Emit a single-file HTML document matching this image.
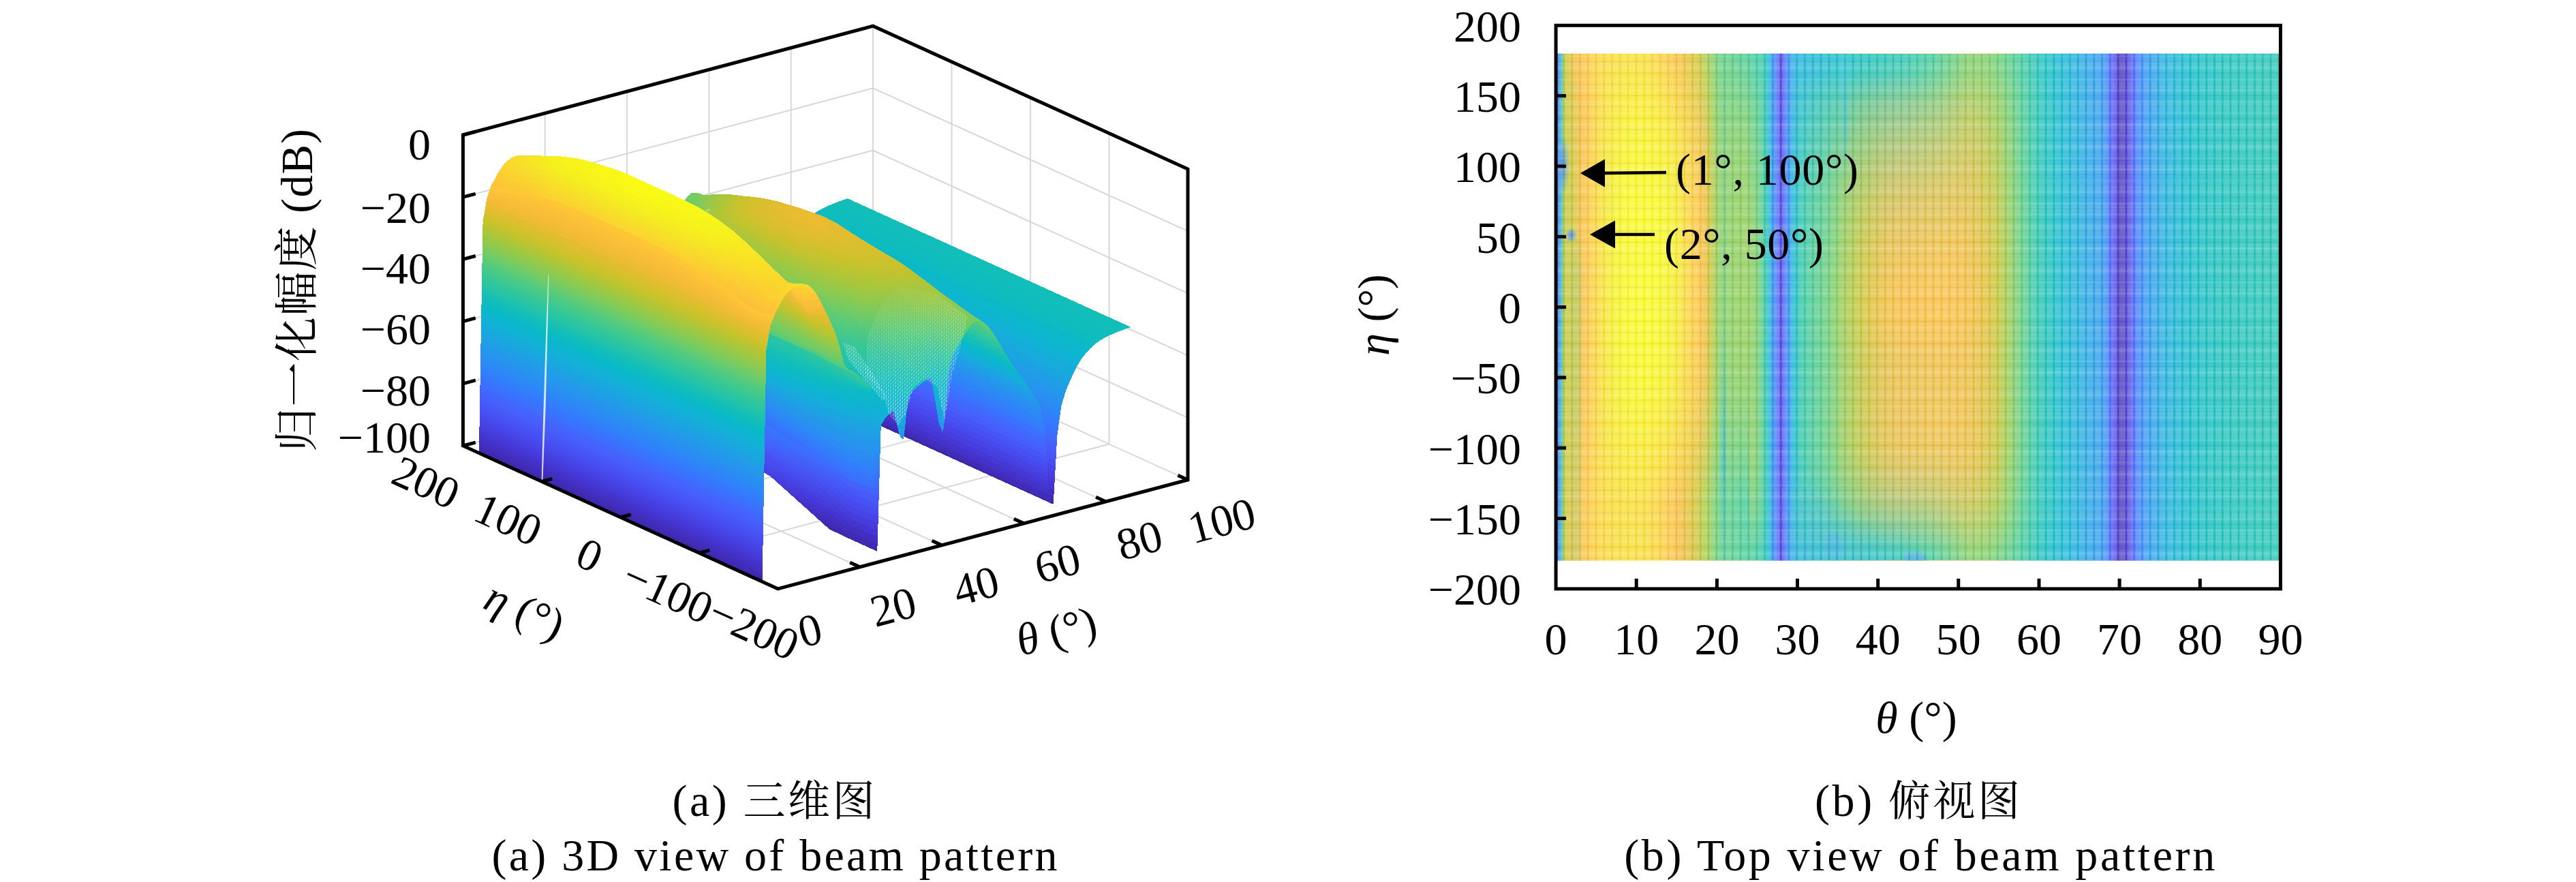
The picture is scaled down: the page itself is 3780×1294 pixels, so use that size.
<!DOCTYPE html>
<html lang="zh"><head><meta charset="utf-8"><title>Beam pattern</title>
<style>
html,body{margin:0;padding:0;background:#fff;}
body{width:3780px;height:1294px;overflow:hidden;}
svg{display:block;}
text{font-family:'Liberation Serif','Noto Serif CJK SC',serif;fill:#000;}
.it{font-style:italic;}
</style></head><body>
<svg width="3780" height="1294" viewBox="0 0 3780 1294">
<g id="grid3d"><path d="M1261.7,831.8 L799.7,622.0" stroke="#d6d6d6" stroke-width="1.9" fill="none"/><path d="M1382.0,799.9 L920.0,590.1" stroke="#d6d6d6" stroke-width="1.9" fill="none"/><path d="M1502.4,767.9 L1040.4,558.1" stroke="#d6d6d6" stroke-width="1.9" fill="none"/><path d="M1622.7,736.0 L1160.7,526.2" stroke="#d6d6d6" stroke-width="1.9" fill="none"/><path d="M1743.0,704.0 L1281.0,494.2" stroke="#d6d6d6" stroke-width="1.9" fill="none"/><path d="M1025.9,811.3 L1627.5,651.5" stroke="#d6d6d6" stroke-width="1.9" fill="none"/><path d="M910.4,758.9 L1512.0,599.1" stroke="#d6d6d6" stroke-width="1.9" fill="none"/><path d="M794.9,706.4 L1396.5,546.6" stroke="#d6d6d6" stroke-width="1.9" fill="none"/><path d="M679.4,654.0 L1281.0,494.2" stroke="#d6d6d6" stroke-width="1.9" fill="none"/><path d="M799.7,622.0 L799.7,166.0" stroke="#d6d6d6" stroke-width="1.9" fill="none"/><path d="M920.0,590.1 L920.0,134.1" stroke="#d6d6d6" stroke-width="1.9" fill="none"/><path d="M1040.4,558.1 L1040.4,102.1" stroke="#d6d6d6" stroke-width="1.9" fill="none"/><path d="M1160.7,526.2 L1160.7,70.2" stroke="#d6d6d6" stroke-width="1.9" fill="none"/><path d="M1281.0,494.2 L1281.0,38.2" stroke="#d6d6d6" stroke-width="1.9" fill="none"/><path d="M679.4,562.8 L1281.0,403.0" stroke="#d6d6d6" stroke-width="1.9" fill="none"/><path d="M679.4,471.6 L1281.0,311.8" stroke="#d6d6d6" stroke-width="1.9" fill="none"/><path d="M679.4,380.4 L1281.0,220.6" stroke="#d6d6d6" stroke-width="1.9" fill="none"/><path d="M679.4,289.2 L1281.0,129.4" stroke="#d6d6d6" stroke-width="1.9" fill="none"/><path d="M1627.5,651.5 L1627.5,195.6" stroke="#d6d6d6" stroke-width="1.9" fill="none"/><path d="M1512.0,599.1 L1512.0,143.1" stroke="#d6d6d6" stroke-width="1.9" fill="none"/><path d="M1396.5,546.6 L1396.5,90.7" stroke="#d6d6d6" stroke-width="1.9" fill="none"/><path d="M1743.0,612.8 L1281.0,403.0" stroke="#d6d6d6" stroke-width="1.9" fill="none"/><path d="M1743.0,521.6 L1281.0,311.8" stroke="#d6d6d6" stroke-width="1.9" fill="none"/><path d="M1743.0,430.4 L1281.0,220.6" stroke="#d6d6d6" stroke-width="1.9" fill="none"/><path d="M1743.0,339.2 L1281.0,129.4" stroke="#d6d6d6" stroke-width="1.9" fill="none"/></g>
<defs><g id="gd" gradientUnits="userSpaceOnUse"></g><linearGradient gradientUnits="userSpaceOnUse" id="g286" x1="1434" y1="471" x2="1018" y2="283"><stop offset="0" stop-color="#78cb60"/><stop offset="0.232" stop-color="#aac73a"/><stop offset="0.535" stop-color="#bfc430"/><stop offset="0.776" stop-color="#aec638"/><stop offset="0.891" stop-color="#9ac946"/><stop offset="1" stop-color="#78cb60"/></linearGradient><linearGradient gradientUnits="userSpaceOnUse" id="g285" x1="1428" y1="474" x2="1012" y2="285"><stop offset="0" stop-color="#77cb61"/><stop offset="0.13" stop-color="#9ec843"/><stop offset="0.24" stop-color="#b7c533"/><stop offset="0.546" stop-color="#d2c12b"/><stop offset="0.667" stop-color="#cdc22a"/><stop offset="0.785" stop-color="#bdc431"/><stop offset="0.896" stop-color="#a2c840"/><stop offset="0.974" stop-color="#7bcb5e"/><stop offset="1" stop-color="#77cb61"/></linearGradient><linearGradient gradientUnits="userSpaceOnUse" id="g284" x1="1424" y1="478" x2="1008" y2="289"><stop offset="0" stop-color="#71cb66"/><stop offset="0.134" stop-color="#a0c841"/><stop offset="0.246" stop-color="#bec430"/><stop offset="0.336" stop-color="#ccc22a"/><stop offset="0.554" stop-color="#dbbf2d"/><stop offset="0.791" stop-color="#c5c32d"/><stop offset="0.9" stop-color="#a5c73e"/><stop offset="0.975" stop-color="#76cb62"/><stop offset="1" stop-color="#71cb66"/></linearGradient><linearGradient gradientUnits="userSpaceOnUse" id="g283" x1="1421" y1="482" x2="1005" y2="293"><stop offset="0" stop-color="#6acc6b"/><stop offset="0.137" stop-color="#9fc842"/><stop offset="0.25" stop-color="#c1c42f"/><stop offset="0.561" stop-color="#e1be2e"/><stop offset="0.796" stop-color="#c9c22c"/><stop offset="0.903" stop-color="#a4c83e"/><stop offset="0.936" stop-color="#92ca4c"/><stop offset="0.975" stop-color="#70cb67"/><stop offset="1" stop-color="#6acc6b"/></linearGradient><linearGradient gradientUnits="userSpaceOnUse" id="g282" x1="1418" y1="487" x2="1002" y2="298"><stop offset="0" stop-color="#63cc71"/><stop offset="0.139" stop-color="#9ec843"/><stop offset="0.255" stop-color="#c2c32e"/><stop offset="0.567" stop-color="#e5bd2f"/><stop offset="0.687" stop-color="#ddbe2e"/><stop offset="0.801" stop-color="#cbc22a"/><stop offset="0.906" stop-color="#a3c83f"/><stop offset="0.938" stop-color="#8fca4e"/><stop offset="0.975" stop-color="#69cc6c"/><stop offset="1" stop-color="#63cc71"/></linearGradient><linearGradient gradientUnits="userSpaceOnUse" id="g281" x1="1415" y1="492" x2="999" y2="303"><stop offset="0" stop-color="#5ccc77"/><stop offset="0.142" stop-color="#9bc845"/><stop offset="0.259" stop-color="#c3c32e"/><stop offset="0.351" stop-color="#d3c02c"/><stop offset="0.572" stop-color="#e8bc30"/><stop offset="0.692" stop-color="#dfbe2e"/><stop offset="0.805" stop-color="#ccc22a"/><stop offset="0.908" stop-color="#a1c841"/><stop offset="0.939" stop-color="#8bca51"/><stop offset="0.956" stop-color="#73cb64"/><stop offset="0.975" stop-color="#62cc72"/><stop offset="1" stop-color="#5ccc77"/></linearGradient><linearGradient gradientUnits="userSpaceOnUse" id="g280" x1="1412" y1="496" x2="996" y2="308"><stop offset="0" stop-color="#55cb7d"/><stop offset="0.144" stop-color="#98c947"/><stop offset="0.262" stop-color="#c3c32e"/><stop offset="0.355" stop-color="#d4c02c"/><stop offset="0.578" stop-color="#ebbb30"/><stop offset="0.697" stop-color="#e1bd2f"/><stop offset="0.809" stop-color="#cdc22a"/><stop offset="0.911" stop-color="#9fc842"/><stop offset="0.941" stop-color="#87cb54"/><stop offset="0.957" stop-color="#6dcc69"/><stop offset="0.976" stop-color="#5bcb77"/><stop offset="1" stop-color="#55cb7d"/></linearGradient><linearGradient gradientUnits="userSpaceOnUse" id="g279" x1="1409" y1="501" x2="993" y2="313"><stop offset="0" stop-color="#4eca83"/><stop offset="0.146" stop-color="#95c94a"/><stop offset="0.266" stop-color="#c2c32f"/><stop offset="0.359" stop-color="#d4c02c"/><stop offset="0.583" stop-color="#ecbb31"/><stop offset="0.701" stop-color="#e2bd2f"/><stop offset="0.813" stop-color="#cdc22a"/><stop offset="0.913" stop-color="#9bc845"/><stop offset="0.942" stop-color="#82cb58"/><stop offset="0.957" stop-color="#67cc6e"/><stop offset="0.976" stop-color="#55cb7d"/><stop offset="1" stop-color="#4eca83"/></linearGradient><linearGradient gradientUnits="userSpaceOnUse" id="g278" x1="1406" y1="507" x2="990" y2="318"><stop offset="0" stop-color="#47ca89"/><stop offset="0.148" stop-color="#91ca4d"/><stop offset="0.269" stop-color="#c0c42f"/><stop offset="0.363" stop-color="#d4c02c"/><stop offset="0.588" stop-color="#edbb32"/><stop offset="0.706" stop-color="#e3bd2f"/><stop offset="0.816" stop-color="#ccc22a"/><stop offset="0.884" stop-color="#acc739"/><stop offset="0.915" stop-color="#98c948"/><stop offset="0.944" stop-color="#7dcb5c"/><stop offset="0.958" stop-color="#60cc74"/><stop offset="0.976" stop-color="#4eca83"/><stop offset="1" stop-color="#47ca89"/></linearGradient><linearGradient gradientUnits="userSpaceOnUse" id="g277" x1="1403" y1="512" x2="987" y2="324"><stop offset="0" stop-color="#3fc990"/><stop offset="0.15" stop-color="#8cca50"/><stop offset="0.272" stop-color="#bec430"/><stop offset="0.321" stop-color="#ccc22a"/><stop offset="0.549" stop-color="#ebbb31"/><stop offset="0.672" stop-color="#e8bc30"/><stop offset="0.785" stop-color="#d5c02c"/><stop offset="0.82" stop-color="#cac22b"/><stop offset="0.887" stop-color="#a9c73b"/><stop offset="0.918" stop-color="#94c94b"/><stop offset="0.946" stop-color="#77cb61"/></linearGradient><linearGradient gradientUnits="userSpaceOnUse" id="g276" x1="1400" y1="517" x2="984" y2="328"><stop offset="0" stop-color="#38c896"/><stop offset="0.152" stop-color="#89cb53"/><stop offset="0.275" stop-color="#bcc431"/><stop offset="0.324" stop-color="#cbc22b"/><stop offset="0.553" stop-color="#ebbb31"/><stop offset="0.675" stop-color="#e8bc30"/><stop offset="0.788" stop-color="#d5c02c"/><stop offset="0.823" stop-color="#c9c22b"/><stop offset="0.889" stop-color="#a6c73d"/><stop offset="0.92" stop-color="#90ca4d"/><stop offset="0.947" stop-color="#72cb65"/></linearGradient><linearGradient gradientUnits="userSpaceOnUse" id="g275" x1="1398" y1="522" x2="982" y2="333"><stop offset="0" stop-color="#33c79b"/><stop offset="0.155" stop-color="#86cb55"/><stop offset="0.278" stop-color="#bbc432"/><stop offset="0.327" stop-color="#cac22b"/><stop offset="0.557" stop-color="#ebbb31"/><stop offset="0.679" stop-color="#e8bc30"/><stop offset="0.792" stop-color="#d4c02c"/><stop offset="0.826" stop-color="#c8c22c"/><stop offset="0.892" stop-color="#a4c83e"/><stop offset="0.922" stop-color="#8eca4f"/><stop offset="0.949" stop-color="#6ecc68"/></linearGradient><linearGradient gradientUnits="userSpaceOnUse" id="g274" x1="1396" y1="529" x2="980" y2="340"><stop offset="0" stop-color="#2bc5a2"/><stop offset="0.0387" stop-color="#3bc894"/><stop offset="0.159" stop-color="#83cb58"/><stop offset="0.283" stop-color="#bac532"/><stop offset="0.379" stop-color="#d1c12b"/><stop offset="0.562" stop-color="#ebbb31"/><stop offset="0.685" stop-color="#e8bc30"/><stop offset="0.797" stop-color="#d3c02c"/><stop offset="0.832" stop-color="#c7c32c"/><stop offset="0.897" stop-color="#a2c840"/><stop offset="0.927" stop-color="#8bca51"/><stop offset="0.953" stop-color="#6bcc6b"/></linearGradient><linearGradient gradientUnits="userSpaceOnUse" id="g273" x1="1395" y1="535" x2="979" y2="346"><stop offset="0" stop-color="#25c3a8"/><stop offset="0.0408" stop-color="#36c898"/><stop offset="0.163" stop-color="#81cb59"/><stop offset="0.288" stop-color="#b9c533"/><stop offset="0.384" stop-color="#d1c12b"/><stop offset="0.567" stop-color="#ebbb31"/><stop offset="0.69" stop-color="#e7bc30"/><stop offset="0.802" stop-color="#d3c02c"/><stop offset="0.836" stop-color="#c6c32d"/><stop offset="0.901" stop-color="#a1c841"/><stop offset="0.931" stop-color="#8aca52"/><stop offset="0.957" stop-color="#69cc6c"/></linearGradient><linearGradient gradientUnits="userSpaceOnUse" id="g272" x1="1394" y1="541" x2="978" y2="352"><stop offset="0" stop-color="#1ec1ae"/><stop offset="0.168" stop-color="#80cb5a"/><stop offset="0.293" stop-color="#b8c533"/><stop offset="0.389" stop-color="#d0c12b"/><stop offset="0.573" stop-color="#ebbb31"/><stop offset="0.695" stop-color="#e7bc30"/><stop offset="0.807" stop-color="#d3c02b"/><stop offset="0.841" stop-color="#c6c32d"/><stop offset="0.906" stop-color="#a0c841"/><stop offset="0.936" stop-color="#89cb53"/><stop offset="0.962" stop-color="#67cc6e"/></linearGradient><linearGradient gradientUnits="userSpaceOnUse" id="g271" x1="1392" y1="549" x2="977" y2="360"><stop offset="0" stop-color="#15bfb6"/><stop offset="0.174" stop-color="#7fcb5b"/><stop offset="0.299" stop-color="#b7c533"/><stop offset="0.395" stop-color="#d0c12b"/><stop offset="0.579" stop-color="#ebbb31"/><stop offset="0.701" stop-color="#e7bc30"/><stop offset="0.813" stop-color="#d2c02b"/><stop offset="0.848" stop-color="#c5c32d"/><stop offset="0.912" stop-color="#9fc842"/><stop offset="0.942" stop-color="#88cb54"/><stop offset="0.968" stop-color="#66cc6f"/></linearGradient><linearGradient gradientUnits="userSpaceOnUse" id="g270" x1="1392" y1="556" x2="976" y2="367"><stop offset="0" stop-color="#10bdbe"/><stop offset="0.0272" stop-color="#1ac0b2"/><stop offset="0.143" stop-color="#69cc6d"/><stop offset="0.306" stop-color="#b7c534"/><stop offset="0.402" stop-color="#d0c12b"/><stop offset="0.586" stop-color="#ebbb31"/><stop offset="0.708" stop-color="#e7bc30"/><stop offset="0.82" stop-color="#d2c12b"/><stop offset="0.854" stop-color="#c5c32d"/><stop offset="0.918" stop-color="#9ec843"/><stop offset="0.948" stop-color="#87cb55"/><stop offset="0.974" stop-color="#65cc70"/></linearGradient><linearGradient gradientUnits="userSpaceOnUse" id="g269" x1="1391" y1="564" x2="975" y2="375"><stop offset="0" stop-color="#0cbac5"/><stop offset="0.0287" stop-color="#14bfb8"/><stop offset="0.149" stop-color="#68cc6d"/><stop offset="0.312" stop-color="#b6c534"/><stop offset="0.408" stop-color="#cfc12b"/><stop offset="0.592" stop-color="#ebbb31"/><stop offset="0.676" stop-color="#ebbb31"/><stop offset="0.826" stop-color="#d2c12b"/><stop offset="0.86" stop-color="#c4c32e"/><stop offset="0.925" stop-color="#9ec843"/><stop offset="0.954" stop-color="#86cb55"/><stop offset="0.98" stop-color="#64cc70"/></linearGradient><linearGradient gradientUnits="userSpaceOnUse" id="g268" x1="1390" y1="572" x2="974" y2="383"><stop offset="0" stop-color="#0cb7cc"/><stop offset="0.0302" stop-color="#10bdbe"/><stop offset="0.114" stop-color="#4eca83"/><stop offset="0.155" stop-color="#67cc6e"/><stop offset="0.319" stop-color="#b6c534"/><stop offset="0.415" stop-color="#cfc12b"/><stop offset="0.599" stop-color="#ebbb31"/><stop offset="0.682" stop-color="#ebbb31"/><stop offset="0.833" stop-color="#d2c12b"/><stop offset="0.867" stop-color="#c4c32e"/><stop offset="0.931" stop-color="#9dc843"/><stop offset="0.961" stop-color="#85cb56"/><stop offset="0.987" stop-color="#63cc71"/></linearGradient><linearGradient gradientUnits="userSpaceOnUse" id="g267" x1="1389" y1="579" x2="974" y2="391"><stop offset="0" stop-color="#0fb4d1"/><stop offset="0.0318" stop-color="#0cbac4"/><stop offset="0.121" stop-color="#4dca84"/><stop offset="0.162" stop-color="#66cc6f"/><stop offset="0.325" stop-color="#b5c534"/><stop offset="0.422" stop-color="#cfc12b"/><stop offset="0.606" stop-color="#ebbb31"/><stop offset="0.689" stop-color="#ebbb31"/><stop offset="0.804" stop-color="#dabf2d"/><stop offset="0.874" stop-color="#c3c32e"/><stop offset="0.938" stop-color="#9dc844"/></linearGradient><linearGradient gradientUnits="userSpaceOnUse" id="g266" x1="1389" y1="586" x2="973" y2="397"><stop offset="0" stop-color="#12b1d6"/><stop offset="0.0331" stop-color="#0ab9c9"/><stop offset="0.0627" stop-color="#18c0b3"/><stop offset="0.126" stop-color="#4cca85"/><stop offset="0.167" stop-color="#65cc6f"/><stop offset="0.331" stop-color="#b5c534"/><stop offset="0.427" stop-color="#cfc12b"/><stop offset="0.611" stop-color="#ebbb30"/><stop offset="0.695" stop-color="#ebbb30"/><stop offset="0.845" stop-color="#d1c12b"/><stop offset="0.912" stop-color="#b1c636"/><stop offset="0.943" stop-color="#9cc844"/><stop offset="0.973" stop-color="#84cb57"/><stop offset="0.998" stop-color="#61cc72"/></linearGradient><linearGradient gradientUnits="userSpaceOnUse" id="g265" x1="1388" y1="592" x2="972" y2="403"><stop offset="0" stop-color="#14add9"/><stop offset="0.0344" stop-color="#0cb7cc"/><stop offset="0.0656" stop-color="#15bfb7"/><stop offset="0.131" stop-color="#4bca86"/><stop offset="0.172" stop-color="#64cc70"/><stop offset="0.336" stop-color="#b5c535"/><stop offset="0.432" stop-color="#cec12b"/><stop offset="0.617" stop-color="#eabb30"/><stop offset="0.7" stop-color="#eabb30"/><stop offset="0.815" stop-color="#dabf2d"/><stop offset="0.885" stop-color="#c3c32e"/><stop offset="0.949" stop-color="#9cc845"/></linearGradient><linearGradient gradientUnits="userSpaceOnUse" id="g264" x1="1388" y1="600" x2="972" y2="411"><stop offset="0" stop-color="#18a9dd"/><stop offset="0.036" stop-color="#0fb4d0"/><stop offset="0.0691" stop-color="#11beba"/><stop offset="0.137" stop-color="#4aca87"/><stop offset="0.179" stop-color="#64cc71"/><stop offset="0.343" stop-color="#b4c535"/><stop offset="0.439" stop-color="#cec12b"/><stop offset="0.624" stop-color="#eabc30"/><stop offset="0.707" stop-color="#eabc30"/><stop offset="0.857" stop-color="#d0c12b"/><stop offset="0.924" stop-color="#b0c637"/><stop offset="0.955" stop-color="#9bc945"/><stop offset="0.985" stop-color="#82cb58"/><stop offset="1" stop-color="#60cc74"/></linearGradient><linearGradient gradientUnits="userSpaceOnUse" id="g263" x1="1387" y1="608" x2="971" y2="419"><stop offset="0" stop-color="#1ca4e1"/><stop offset="0.0375" stop-color="#11b2d5"/><stop offset="0.0725" stop-color="#0fbcbe"/><stop offset="0.143" stop-color="#48ca88"/><stop offset="0.185" stop-color="#63cc71"/><stop offset="0.349" stop-color="#b4c535"/><stop offset="0.446" stop-color="#cec12a"/><stop offset="0.63" stop-color="#eabc30"/><stop offset="0.714" stop-color="#eabc30"/><stop offset="0.864" stop-color="#d0c12b"/><stop offset="0.93" stop-color="#afc637"/><stop offset="0.962" stop-color="#9bc945"/><stop offset="0.991" stop-color="#82cb59"/><stop offset="1" stop-color="#5fcc74"/></linearGradient><linearGradient gradientUnits="userSpaceOnUse" id="g262" x1="1386" y1="615" x2="970" y2="426"><stop offset="0" stop-color="#1f9fe5"/><stop offset="0.0391" stop-color="#13afd8"/><stop offset="0.076" stop-color="#0dbbc2"/><stop offset="0.149" stop-color="#47ca89"/><stop offset="0.192" stop-color="#62cc72"/><stop offset="0.356" stop-color="#b3c635"/><stop offset="0.452" stop-color="#cdc22a"/><stop offset="0.637" stop-color="#eabc30"/><stop offset="0.72" stop-color="#eabc30"/><stop offset="0.871" stop-color="#d0c12b"/><stop offset="0.937" stop-color="#afc637"/><stop offset="0.968" stop-color="#9ac946"/><stop offset="0.998" stop-color="#81cb59"/><stop offset="1" stop-color="#5ecc75"/></linearGradient><linearGradient gradientUnits="userSpaceOnUse" id="g261" x1="1385" y1="623" x2="969" y2="434"><stop offset="0" stop-color="#229be8"/><stop offset="0.0793" stop-color="#0bbac6"/><stop offset="0.155" stop-color="#46c98a"/><stop offset="0.198" stop-color="#61cc73"/><stop offset="0.362" stop-color="#b2c636"/><stop offset="0.459" stop-color="#cdc22a"/><stop offset="0.643" stop-color="#e9bc30"/><stop offset="0.727" stop-color="#e9bc30"/><stop offset="0.841" stop-color="#d8bf2d"/><stop offset="0.911" stop-color="#c1c42f"/><stop offset="0.975" stop-color="#99c947"/></linearGradient><linearGradient gradientUnits="userSpaceOnUse" id="g260" x1="1384" y1="630" x2="968" y2="441"><stop offset="0" stop-color="#2596ec"/><stop offset="0.0822" stop-color="#0bb8c9"/><stop offset="0.16" stop-color="#44c98c"/><stop offset="0.203" stop-color="#5fcc74"/><stop offset="0.368" stop-color="#b1c636"/><stop offset="0.465" stop-color="#ccc22a"/><stop offset="0.693" stop-color="#ebbb31"/><stop offset="0.81" stop-color="#dfbe2e"/><stop offset="0.883" stop-color="#cfc12b"/><stop offset="0.949" stop-color="#adc738"/><stop offset="0.98" stop-color="#98c947"/><stop offset="1" stop-color="#7ecb5b"/><stop offset="1" stop-color="#5ccc77"/></linearGradient><linearGradient gradientUnits="userSpaceOnUse" id="g259" x1="1382" y1="631" x2="966" y2="443"><stop offset="0" stop-color="#2696ec"/><stop offset="0.0819" stop-color="#0bb8ca"/><stop offset="0.16" stop-color="#42c98e"/><stop offset="0.203" stop-color="#5ecc76"/><stop offset="0.368" stop-color="#b0c637"/><stop offset="0.465" stop-color="#cbc22b"/><stop offset="0.693" stop-color="#ebbb31"/><stop offset="0.81" stop-color="#debe2e"/><stop offset="0.883" stop-color="#cec12a"/><stop offset="0.949" stop-color="#abc739"/><stop offset="0.98" stop-color="#96c949"/></linearGradient><linearGradient gradientUnits="userSpaceOnUse" id="g258" x1="1380" y1="625" x2="965" y2="436"><stop offset="0" stop-color="#239ae9"/><stop offset="0.078" stop-color="#0ab9c8"/><stop offset="0.153" stop-color="#41c98f"/><stop offset="0.196" stop-color="#5ccc77"/><stop offset="0.361" stop-color="#aec637"/><stop offset="0.458" stop-color="#cac22b"/><stop offset="0.643" stop-color="#e7bc30"/><stop offset="0.726" stop-color="#e7bc30"/><stop offset="0.84" stop-color="#d6c02c"/><stop offset="0.91" stop-color="#bdc431"/><stop offset="0.973" stop-color="#95c94a"/></linearGradient><linearGradient gradientUnits="userSpaceOnUse" id="g257" x1="1379" y1="616" x2="963" y2="428"><stop offset="0" stop-color="#1fa0e4"/><stop offset="0.0733" stop-color="#0cbac5"/><stop offset="0.145" stop-color="#40c98f"/><stop offset="0.187" stop-color="#5bcb78"/><stop offset="0.352" stop-color="#adc638"/><stop offset="0.449" stop-color="#c9c22b"/><stop offset="0.634" stop-color="#e7bc30"/><stop offset="0.718" stop-color="#e7bc30"/><stop offset="0.832" stop-color="#d5c02c"/><stop offset="0.901" stop-color="#bcc431"/><stop offset="0.965" stop-color="#94c94b"/></linearGradient><linearGradient gradientUnits="userSpaceOnUse" id="g256" x1="1378" y1="608" x2="962" y2="419"><stop offset="0" stop-color="#1ba5e0"/><stop offset="0.0687" stop-color="#0ebbc1"/><stop offset="0.179" stop-color="#5acb79"/><stop offset="0.344" stop-color="#adc738"/><stop offset="0.441" stop-color="#c8c22c"/><stop offset="0.626" stop-color="#e6bc30"/><stop offset="0.71" stop-color="#e6bc30"/><stop offset="0.824" stop-color="#d5c02c"/><stop offset="0.893" stop-color="#bbc432"/><stop offset="0.956" stop-color="#93c94b"/></linearGradient><linearGradient gradientUnits="userSpaceOnUse" id="g255" x1="1377" y1="600" x2="962" y2="411"><stop offset="0" stop-color="#17abdc"/><stop offset="0.0642" stop-color="#10bdbd"/><stop offset="0.171" stop-color="#59cb79"/><stop offset="0.336" stop-color="#acc739"/><stop offset="0.433" stop-color="#c8c22c"/><stop offset="0.618" stop-color="#e6bc2f"/><stop offset="0.701" stop-color="#e6bc2f"/><stop offset="0.815" stop-color="#d4c02c"/><stop offset="0.885" stop-color="#bbc432"/><stop offset="0.948" stop-color="#92c94c"/></linearGradient><linearGradient gradientUnits="userSpaceOnUse" id="g254" x1="1377" y1="593" x2="961" y2="404"><stop offset="0" stop-color="#13afd8"/><stop offset="0.0322" stop-color="#0cb7cc"/><stop offset="0.0608" stop-color="#11beba"/><stop offset="0.164" stop-color="#59cb7a"/><stop offset="0.33" stop-color="#abc739"/><stop offset="0.472" stop-color="#cfc12b"/><stop offset="0.612" stop-color="#e5bd2f"/><stop offset="0.695" stop-color="#e5bd2f"/><stop offset="0.809" stop-color="#d4c02c"/><stop offset="0.879" stop-color="#bac532"/><stop offset="0.942" stop-color="#92ca4c"/></linearGradient><linearGradient gradientUnits="userSpaceOnUse" id="g253" x1="1376" y1="587" x2="960" y2="398"><stop offset="0" stop-color="#11b2d4"/><stop offset="0.0307" stop-color="#0ab9c9"/><stop offset="0.0573" stop-color="#14bfb7"/><stop offset="0.158" stop-color="#58cb7a"/><stop offset="0.323" stop-color="#abc739"/><stop offset="0.466" stop-color="#cec12a"/><stop offset="0.606" stop-color="#e5bd2f"/><stop offset="0.689" stop-color="#e5bd2f"/><stop offset="0.803" stop-color="#d3c02c"/><stop offset="0.872" stop-color="#b9c532"/><stop offset="0.935" stop-color="#91ca4d"/></linearGradient><linearGradient gradientUnits="userSpaceOnUse" id="g252" x1="1375" y1="579" x2="959" y2="390"><stop offset="0" stop-color="#0db6ce"/><stop offset="0.0287" stop-color="#0dbbc2"/><stop offset="0.0529" stop-color="#18c0b3"/><stop offset="0.15" stop-color="#57cb7b"/><stop offset="0.315" stop-color="#aac73a"/><stop offset="0.458" stop-color="#cdc22a"/><stop offset="0.597" stop-color="#e4bd2f"/><stop offset="0.681" stop-color="#e4bd2f"/><stop offset="0.795" stop-color="#d3c02b"/><stop offset="0.864" stop-color="#b8c533"/><stop offset="0.927" stop-color="#90ca4e"/></linearGradient><linearGradient gradientUnits="userSpaceOnUse" id="g251" x1="1374" y1="570" x2="958" y2="381"><stop offset="0" stop-color="#0bb9c7"/><stop offset="0.0266" stop-color="#10bdbc"/><stop offset="0.141" stop-color="#56cb7c"/><stop offset="0.307" stop-color="#a8c73b"/><stop offset="0.45" stop-color="#ccc22a"/><stop offset="0.589" stop-color="#e3bd2f"/><stop offset="0.672" stop-color="#e3bd2f"/><stop offset="0.786" stop-color="#d2c12b"/><stop offset="0.856" stop-color="#b7c533"/><stop offset="0.919" stop-color="#8fca4e"/></linearGradient><linearGradient gradientUnits="userSpaceOnUse" id="g250" x1="1372" y1="562" x2="956" y2="373"><stop offset="0" stop-color="#0fbcbe"/><stop offset="0.0243" stop-color="#16bfb5"/><stop offset="0.132" stop-color="#54cb7e"/><stop offset="0.298" stop-color="#a7c73c"/><stop offset="0.44" stop-color="#cac22b"/><stop offset="0.58" stop-color="#e2bd2f"/><stop offset="0.663" stop-color="#e2bd2f"/><stop offset="0.777" stop-color="#d0c12b"/><stop offset="0.847" stop-color="#b5c534"/><stop offset="0.91" stop-color="#8dca50"/></linearGradient><linearGradient gradientUnits="userSpaceOnUse" id="g249" x1="1370" y1="556" x2="955" y2="367"><stop offset="0" stop-color="#14bfb8"/><stop offset="0.164" stop-color="#66cc6f"/><stop offset="0.291" stop-color="#a5c73e"/><stop offset="0.434" stop-color="#c9c22c"/><stop offset="0.574" stop-color="#e0be2e"/><stop offset="0.657" stop-color="#e0be2e"/><stop offset="0.771" stop-color="#cfc12b"/><stop offset="0.84" stop-color="#b3c635"/><stop offset="0.903" stop-color="#8bca51"/></linearGradient><linearGradient gradientUnits="userSpaceOnUse" id="g248" x1="1367" y1="555" x2="952" y2="366"><stop offset="0" stop-color="#16bfb5"/><stop offset="0.16" stop-color="#62cc72"/><stop offset="0.287" stop-color="#a1c841"/><stop offset="0.337" stop-color="#b1c636"/><stop offset="0.475" stop-color="#ccc22a"/><stop offset="0.569" stop-color="#ddbe2e"/><stop offset="0.653" stop-color="#ddbe2e"/><stop offset="0.766" stop-color="#cbc22b"/><stop offset="0.836" stop-color="#afc637"/><stop offset="0.899" stop-color="#87cb54"/></linearGradient><linearGradient gradientUnits="userSpaceOnUse" id="g247" x1="1364" y1="555" x2="948" y2="366"><stop offset="0" stop-color="#17c0b4"/><stop offset="0.0366" stop-color="#23c3aa"/><stop offset="0.157" stop-color="#5ecc75"/><stop offset="0.284" stop-color="#9cc844"/><stop offset="0.334" stop-color="#acc738"/><stop offset="0.566" stop-color="#d8bf2d"/><stop offset="0.649" stop-color="#d8bf2d"/><stop offset="0.763" stop-color="#c6c32d"/><stop offset="0.833" stop-color="#aac73a"/><stop offset="0.896" stop-color="#82cb58"/></linearGradient><linearGradient gradientUnits="userSpaceOnUse" id="g246" x1="1361" y1="557" x2="945" y2="368"><stop offset="0" stop-color="#16bfb6"/><stop offset="0.157" stop-color="#5bcb78"/><stop offset="0.283" stop-color="#97c948"/><stop offset="0.333" stop-color="#a8c73c"/><stop offset="0.564" stop-color="#d4c02c"/><stop offset="0.647" stop-color="#d4c02c"/><stop offset="0.762" stop-color="#c1c42f"/><stop offset="0.832" stop-color="#a5c73d"/><stop offset="0.895" stop-color="#7ecb5c"/></linearGradient><linearGradient gradientUnits="userSpaceOnUse" id="g245" x1="1358" y1="559" x2="942" y2="370"><stop offset="0" stop-color="#14bfb7"/><stop offset="0.156" stop-color="#57cb7b"/><stop offset="0.281" stop-color="#92ca4c"/><stop offset="0.378" stop-color="#acc739"/><stop offset="0.562" stop-color="#cfc12b"/><stop offset="0.645" stop-color="#cfc12b"/><stop offset="0.76" stop-color="#bac432"/><stop offset="0.83" stop-color="#a0c842"/><stop offset="0.894" stop-color="#79cb60"/></linearGradient><linearGradient gradientUnits="userSpaceOnUse" id="g244" x1="1355" y1="561" x2="939" y2="372"><stop offset="0" stop-color="#13beb8"/><stop offset="0.155" stop-color="#53cb7f"/><stop offset="0.28" stop-color="#8dca50"/><stop offset="0.376" stop-color="#a6c73d"/><stop offset="0.56" stop-color="#c9c22c"/><stop offset="0.643" stop-color="#c9c22c"/><stop offset="0.758" stop-color="#b4c535"/><stop offset="0.828" stop-color="#9ac946"/><stop offset="0.893" stop-color="#73cb64"/></linearGradient><linearGradient gradientUnits="userSpaceOnUse" id="g243" x1="1352" y1="563" x2="936" y2="374"><stop offset="0" stop-color="#11beba"/><stop offset="0.116" stop-color="#3ec991"/><stop offset="0.278" stop-color="#86cb55"/><stop offset="0.374" stop-color="#9fc842"/><stop offset="0.557" stop-color="#c0c42f"/><stop offset="0.64" stop-color="#c0c42f"/><stop offset="0.755" stop-color="#acc738"/><stop offset="0.826" stop-color="#93c94b"/><stop offset="0.891" stop-color="#6dcc69"/></linearGradient><linearGradient gradientUnits="userSpaceOnUse" id="g242" x1="1349" y1="566" x2="933" y2="377"><stop offset="0" stop-color="#11bdbc"/><stop offset="0.0356" stop-color="#19c0b3"/><stop offset="0.276" stop-color="#7fcb5b"/><stop offset="0.371" stop-color="#97c948"/><stop offset="0.597" stop-color="#bbc432"/><stop offset="0.753" stop-color="#a4c83e"/></linearGradient><linearGradient gradientUnits="userSpaceOnUse" id="g241" x1="1346" y1="568" x2="930" y2="379"><stop offset="0" stop-color="#10bdbd"/><stop offset="0.0353" stop-color="#17c0b5"/><stop offset="0.274" stop-color="#77cb61"/><stop offset="0.369" stop-color="#8fca4e"/><stop offset="0.594" stop-color="#b2c636"/><stop offset="0.75" stop-color="#9cc845"/></linearGradient><linearGradient gradientUnits="userSpaceOnUse" id="g240" x1="1343" y1="571" x2="927" y2="382"><stop offset="0" stop-color="#0fbcbf"/><stop offset="0.0351" stop-color="#15bfb7"/><stop offset="0.272" stop-color="#6fcc68"/><stop offset="0.366" stop-color="#87cb54"/><stop offset="0.591" stop-color="#a9c73b"/><stop offset="0.747" stop-color="#93c94b"/></linearGradient><linearGradient gradientUnits="userSpaceOnUse" id="g239" x1="1339" y1="574" x2="924" y2="385"><stop offset="0" stop-color="#0ebbc1"/><stop offset="0.035" stop-color="#12beb9"/><stop offset="0.27" stop-color="#67cc6e"/><stop offset="0.364" stop-color="#7ecb5b"/><stop offset="0.589" stop-color="#9fc842"/><stop offset="0.745" stop-color="#8bca51"/></linearGradient><linearGradient gradientUnits="userSpaceOnUse" id="g238" x1="1336" y1="578" x2="921" y2="389"><stop offset="0" stop-color="#0cbac5"/><stop offset="0.0355" stop-color="#10bdbc"/><stop offset="0.317" stop-color="#6ccc69"/><stop offset="0.544" stop-color="#93c94b"/><stop offset="0.627" stop-color="#93c94b"/><stop offset="0.744" stop-color="#82cb59"/></linearGradient><linearGradient gradientUnits="userSpaceOnUse" id="g237" x1="1335" y1="581" x2="919" y2="392"><stop offset="0" stop-color="#0ab9c8"/><stop offset="0.0568" stop-color="#15bfb7"/><stop offset="0.318" stop-color="#67cc6e"/><stop offset="0.587" stop-color="#90ca4d"/></linearGradient><linearGradient gradientUnits="userSpaceOnUse" id="g236" x1="1333" y1="586" x2="918" y2="397"><stop offset="0" stop-color="#0cb7cb"/><stop offset="0.0591" stop-color="#13beb8"/><stop offset="0.272" stop-color="#58cb7a"/><stop offset="0.589" stop-color="#8dca50"/></linearGradient><linearGradient gradientUnits="userSpaceOnUse" id="g235" x1="1332" y1="593" x2="916" y2="404"><stop offset="0" stop-color="#0eb4d0"/><stop offset="0.0634" stop-color="#11bebb"/><stop offset="0.276" stop-color="#55cb7d"/><stop offset="0.414" stop-color="#6ecc68"/></linearGradient><linearGradient gradientUnits="userSpaceOnUse" id="g234" x1="1331" y1="600" x2="915" y2="412"><stop offset="0" stop-color="#11b1d6"/><stop offset="0.0437" stop-color="#0ab9c8"/><stop offset="0.0899" stop-color="#18c0b3"/><stop offset="0.281" stop-color="#52cb80"/><stop offset="0.419" stop-color="#6bcc6b"/></linearGradient><linearGradient gradientUnits="userSpaceOnUse" id="g233" x1="1330" y1="608" x2="914" y2="419"><stop offset="0" stop-color="#15add9"/><stop offset="0.0469" stop-color="#0cb7cb"/><stop offset="0.0729" stop-color="#0fbcbf"/><stop offset="0.287" stop-color="#50ca81"/><stop offset="0.424" stop-color="#68cc6d"/></linearGradient><linearGradient gradientUnits="userSpaceOnUse" id="g232" x1="1329" y1="615" x2="913" y2="427"><stop offset="0" stop-color="#18a9dd"/><stop offset="0.0777" stop-color="#0ebcc0"/><stop offset="0.292" stop-color="#4eca83"/><stop offset="0.43" stop-color="#65cc6f"/></linearGradient><linearGradient gradientUnits="userSpaceOnUse" id="g231" x1="1329" y1="620" x2="913" y2="432"><stop offset="0" stop-color="#1aa6e0"/><stop offset="0.0811" stop-color="#0dbbc2"/><stop offset="0.296" stop-color="#4dca84"/><stop offset="0.433" stop-color="#64cc71"/></linearGradient><linearGradient gradientUnits="userSpaceOnUse" id="g230" x1="1328" y1="626" x2="912" y2="437"><stop offset="0" stop-color="#1da2e2"/><stop offset="0.0846" stop-color="#0dbbc3"/><stop offset="0.147" stop-color="#21c2ac"/><stop offset="0.3" stop-color="#4bca85"/><stop offset="0.437" stop-color="#62cc72"/></linearGradient><linearGradient gradientUnits="userSpaceOnUse" id="g229" x1="1327" y1="633" x2="911" y2="445"><stop offset="0" stop-color="#209ee6"/><stop offset="0.0895" stop-color="#0cbac5"/><stop offset="0.152" stop-color="#20c2ad"/><stop offset="0.305" stop-color="#49ca87"/><stop offset="0.442" stop-color="#5fcc74"/></linearGradient><linearGradient gradientUnits="userSpaceOnUse" id="g228" x1="1326" y1="641" x2="910" y2="452"><stop offset="0" stop-color="#2399e9"/><stop offset="0.094" stop-color="#0bb9c7"/><stop offset="0.158" stop-color="#1ec2ae"/><stop offset="0.31" stop-color="#47c989"/><stop offset="0.447" stop-color="#5ccc77"/></linearGradient><linearGradient gradientUnits="userSpaceOnUse" id="g227" x1="1324" y1="644" x2="908" y2="455"><stop offset="0" stop-color="#2598eb"/><stop offset="0.0945" stop-color="#0bb8c9"/><stop offset="0.158" stop-color="#1cc1b0"/><stop offset="0.31" stop-color="#42c98e"/><stop offset="0.447" stop-color="#57cb7b"/></linearGradient><linearGradient gradientUnits="userSpaceOnUse" id="g226" x1="1323" y1="642" x2="907" y2="453"><stop offset="0" stop-color="#2399e9"/><stop offset="0.0914" stop-color="#0bb8ca"/><stop offset="0.154" stop-color="#1ac0b2"/><stop offset="0.305" stop-color="#3ec991"/><stop offset="0.442" stop-color="#53cb7f"/></linearGradient><linearGradient gradientUnits="userSpaceOnUse" id="g225" x1="1322" y1="636" x2="906" y2="447"><stop offset="0" stop-color="#219de6"/><stop offset="0.0863" stop-color="#0bb8c9"/><stop offset="0.148" stop-color="#19c0b3"/><stop offset="0.299" stop-color="#3cc893"/><stop offset="0.435" stop-color="#51ca81"/></linearGradient><linearGradient gradientUnits="userSpaceOnUse" id="g224" x1="1320" y1="627" x2="905" y2="438"><stop offset="0" stop-color="#1ca3e2"/><stop offset="0.0788" stop-color="#0bb8c9"/><stop offset="0.24" stop-color="#2fc69f"/><stop offset="0.425" stop-color="#4eca84"/></linearGradient><linearGradient gradientUnits="userSpaceOnUse" id="g223" x1="1319" y1="619" x2="903" y2="430"><stop offset="0" stop-color="#18a8de"/><stop offset="0.0713" stop-color="#0ab9c8"/><stop offset="0.231" stop-color="#2dc5a1"/><stop offset="0.416" stop-color="#4bca86"/></linearGradient><linearGradient gradientUnits="userSpaceOnUse" id="g222" x1="1318" y1="610" x2="902" y2="421"><stop offset="0" stop-color="#14aed9"/><stop offset="0.0635" stop-color="#0ab9c8"/><stop offset="0.27" stop-color="#34c79a"/><stop offset="0.406" stop-color="#47c989"/></linearGradient><linearGradient gradientUnits="userSpaceOnUse" id="g221" x1="1315" y1="603" x2="900" y2="414"><stop offset="0" stop-color="#11b2d4"/><stop offset="0.0563" stop-color="#0ab9c9"/><stop offset="0.26" stop-color="#30c69e"/><stop offset="0.395" stop-color="#41c98f"/></linearGradient><linearGradient gradientUnits="userSpaceOnUse" id="g220" x1="1312" y1="601" x2="897" y2="412"><stop offset="0" stop-color="#10b3d2"/><stop offset="0.0706" stop-color="#0cbac5"/><stop offset="0.253" stop-color="#2bc5a2"/><stop offset="0.388" stop-color="#39c896"/></linearGradient><linearGradient gradientUnits="userSpaceOnUse" id="g219" x1="1309" y1="603" x2="894" y2="414"><stop offset="0" stop-color="#10b3d3"/><stop offset="0.069" stop-color="#0ab9c8"/><stop offset="0.25" stop-color="#26c4a7"/><stop offset="0.385" stop-color="#32c79b"/></linearGradient><linearGradient gradientUnits="userSpaceOnUse" id="g218" x1="1306" y1="606" x2="891" y2="417"><stop offset="0" stop-color="#11b2d5"/><stop offset="0.102" stop-color="#0cbac4"/><stop offset="0.2" stop-color="#19c0b3"/></linearGradient><linearGradient gradientUnits="userSpaceOnUse" id="g182" x1="1287" y1="809" x2="871" y2="620"><stop offset="0.0833" stop-color="#3e26a8"/><stop offset="0.14" stop-color="#3e26a8"/><stop offset="0.316" stop-color="#4536d2"/><stop offset="0.413" stop-color="#4641e1"/><stop offset="0.54" stop-color="#4642e4"/></linearGradient><linearGradient gradientUnits="userSpaceOnUse" id="g181" x1="1286" y1="808" x2="871" y2="619"><stop offset="0" stop-color="#3e26a8"/><stop offset="0.113" stop-color="#3e28ac"/><stop offset="0.274" stop-color="#4536d3"/><stop offset="0.418" stop-color="#4746e8"/><stop offset="0.545" stop-color="#4747ea"/></linearGradient><linearGradient gradientUnits="userSpaceOnUse" id="g180" x1="1286" y1="802" x2="870" y2="613"><stop offset="0" stop-color="#3f2ab3"/><stop offset="0.0825" stop-color="#3f2ab2"/><stop offset="0.228" stop-color="#4536d5"/><stop offset="0.419" stop-color="#484bee"/><stop offset="0.546" stop-color="#484cf0"/></linearGradient><linearGradient gradientUnits="userSpaceOnUse" id="g179" x1="1286" y1="792" x2="870" y2="603"><stop offset="0" stop-color="#4230c2"/><stop offset="0.0822" stop-color="#422fc1"/><stop offset="0.179" stop-color="#4538d7"/><stop offset="0.369" stop-color="#484bef"/><stop offset="0.543" stop-color="#4752f3"/></linearGradient><linearGradient gradientUnits="userSpaceOnUse" id="g178" x1="1286" y1="782" x2="870" y2="593"><stop offset="0" stop-color="#4435d2"/><stop offset="0.0819" stop-color="#4435cf"/><stop offset="0.319" stop-color="#484cf0"/><stop offset="0.54" stop-color="#4657f6"/></linearGradient><linearGradient gradientUnits="userSpaceOnUse" id="g177" x1="1285" y1="772" x2="870" y2="583"><stop offset="0" stop-color="#463ddd"/><stop offset="0.0815" stop-color="#463bdb"/><stop offset="0.41" stop-color="#465bf8"/><stop offset="0.536" stop-color="#465cf9"/></linearGradient><linearGradient gradientUnits="userSpaceOnUse" id="g176" x1="1285" y1="762" x2="869" y2="573"><stop offset="0" stop-color="#4744e6"/><stop offset="0.0812" stop-color="#4743e4"/><stop offset="0.407" stop-color="#4560fb"/><stop offset="0.533" stop-color="#4561fc"/></linearGradient><linearGradient gradientUnits="userSpaceOnUse" id="g175" x1="1285" y1="752" x2="869" y2="563"><stop offset="0" stop-color="#484cf0"/><stop offset="0.0809" stop-color="#474aed"/><stop offset="0.404" stop-color="#4366fc"/><stop offset="0.53" stop-color="#4266fc"/></linearGradient><linearGradient gradientUnits="userSpaceOnUse" id="g174" x1="1285" y1="742" x2="869" y2="553"><stop offset="0" stop-color="#4754f4"/><stop offset="0.0806" stop-color="#4752f3"/><stop offset="0.401" stop-color="#3f6bfc"/><stop offset="0.527" stop-color="#3e6cfc"/></linearGradient><linearGradient gradientUnits="userSpaceOnUse" id="g173" x1="1284" y1="732" x2="869" y2="543"><stop offset="0" stop-color="#465cf9"/><stop offset="0.0802" stop-color="#4659f7"/><stop offset="0.399" stop-color="#3a71fd"/><stop offset="0.524" stop-color="#3a71fd"/></linearGradient><linearGradient gradientUnits="userSpaceOnUse" id="g172" x1="1284" y1="722" x2="868" y2="533"><stop offset="0" stop-color="#4464fc"/><stop offset="0.0799" stop-color="#4561fb"/><stop offset="0.396" stop-color="#3677fd"/><stop offset="0.521" stop-color="#3677fd"/></linearGradient><linearGradient gradientUnits="userSpaceOnUse" id="g157" x1="1281" y1="578" x2="865" y2="389"><stop offset="0" stop-color="#16bfb5"/><stop offset="0.191" stop-color="#0ab9c9"/><stop offset="0.475" stop-color="#0eb5cf"/></linearGradient><linearGradient gradientUnits="userSpaceOnUse" id="g139" x1="1237" y1="527" x2="821" y2="339"><stop offset="0" stop-color="#72cb65"/><stop offset="0.0813" stop-color="#6dcc69"/><stop offset="0.342" stop-color="#84cb57"/></linearGradient><linearGradient gradientUnits="userSpaceOnUse" id="g138" x1="1236" y1="524" x2="820" y2="336"><stop offset="0" stop-color="#78cb60"/><stop offset="0.0804" stop-color="#72cb65"/><stop offset="0.346" stop-color="#92ca4c"/></linearGradient><linearGradient gradientUnits="userSpaceOnUse" id="g137" x1="1235" y1="521" x2="820" y2="332"><stop offset="0" stop-color="#7ecb5b"/><stop offset="0.0507" stop-color="#74cb64"/><stop offset="0.0795" stop-color="#76cb62"/><stop offset="0.35" stop-color="#9fc842"/></linearGradient><linearGradient gradientUnits="userSpaceOnUse" id="g136" x1="1235" y1="518" x2="819" y2="329"><stop offset="0" stop-color="#85cb56"/><stop offset="0.0496" stop-color="#78cb60"/><stop offset="0.0786" stop-color="#7acb5e"/><stop offset="0.353" stop-color="#adc738"/></linearGradient><linearGradient gradientUnits="userSpaceOnUse" id="g135" x1="1234" y1="515" x2="818" y2="326"><stop offset="0" stop-color="#8bca51"/><stop offset="0.0485" stop-color="#7ccb5d"/><stop offset="0.0777" stop-color="#7fcb5b"/><stop offset="0.267" stop-color="#acc739"/><stop offset="0.357" stop-color="#bbc432"/></linearGradient><linearGradient gradientUnits="userSpaceOnUse" id="g134" x1="1233" y1="512" x2="817" y2="323"><stop offset="0" stop-color="#91ca4d"/><stop offset="0.0473" stop-color="#80cb5a"/><stop offset="0.0768" stop-color="#83cb57"/><stop offset="0.222" stop-color="#acc738"/><stop offset="0.361" stop-color="#c8c22c"/></linearGradient><linearGradient gradientUnits="userSpaceOnUse" id="g133" x1="1232" y1="508" x2="816" y2="320"><stop offset="0" stop-color="#98c948"/><stop offset="0.0464" stop-color="#85cb56"/><stop offset="0.0761" stop-color="#89ca52"/><stop offset="0.224" stop-color="#b7c534"/><stop offset="0.364" stop-color="#d4c02c"/></linearGradient><linearGradient gradientUnits="userSpaceOnUse" id="g132" x1="1230" y1="504" x2="815" y2="315"><stop offset="0" stop-color="#a1c841"/><stop offset="0.0457" stop-color="#8dca4f"/><stop offset="0.0756" stop-color="#92ca4c"/><stop offset="0.225" stop-color="#c2c32e"/><stop offset="0.367" stop-color="#dfbe2e"/></linearGradient><linearGradient gradientUnits="userSpaceOnUse" id="g131" x1="1229" y1="498" x2="813" y2="310"><stop offset="0" stop-color="#abc739"/><stop offset="0.045" stop-color="#96c949"/><stop offset="0.075" stop-color="#9ac946"/><stop offset="0.226" stop-color="#cec12b"/><stop offset="0.369" stop-color="#ebbb31"/></linearGradient><linearGradient gradientUnits="userSpaceOnUse" id="g130" x1="1227" y1="493" x2="812" y2="305"><stop offset="0" stop-color="#b5c534"/><stop offset="0.0442" stop-color="#9fc842"/><stop offset="0.0744" stop-color="#a3c83f"/><stop offset="0.177" stop-color="#cbc22b"/><stop offset="0.372" stop-color="#f3bb36"/></linearGradient><linearGradient gradientUnits="userSpaceOnUse" id="g129" x1="1226" y1="488" x2="810" y2="300"><stop offset="0" stop-color="#bfc430"/><stop offset="0.0438" stop-color="#a8c73c"/><stop offset="0.143" stop-color="#c9c22c"/><stop offset="0.277" stop-color="#ecbb32"/><stop offset="0.373" stop-color="#f9bc39"/></linearGradient><linearGradient gradientUnits="userSpaceOnUse" id="g128" x1="1223" y1="481" x2="807" y2="292"><stop offset="0" stop-color="#cdc12a"/><stop offset="0.0438" stop-color="#b6c534"/><stop offset="0.108" stop-color="#c8c22c"/><stop offset="0.228" stop-color="#ecbb31"/><stop offset="0.373" stop-color="#fdc238"/></linearGradient><linearGradient gradientUnits="userSpaceOnUse" id="g127" x1="1220" y1="474" x2="804" y2="285"><stop offset="0" stop-color="#d9bf2d"/><stop offset="0.0438" stop-color="#c4c32d"/><stop offset="0.178" stop-color="#eabc30"/></linearGradient><linearGradient gradientUnits="userSpaceOnUse" id="g126" x1="1217" y1="467" x2="801" y2="279"><stop offset="0" stop-color="#e3bd2f"/><stop offset="0.0437" stop-color="#d1c12b"/><stop offset="0.178" stop-color="#f2bb35"/></linearGradient><linearGradient gradientUnits="userSpaceOnUse" id="g125" x1="1214" y1="461" x2="798" y2="272"><stop offset="0" stop-color="#edbb32"/><stop offset="0.0435" stop-color="#dbbf2d"/><stop offset="0.178" stop-color="#f9bc39"/></linearGradient><linearGradient gradientUnits="userSpaceOnUse" id="g120" x1="1194" y1="425" x2="778" y2="237"><stop offset="0" stop-color="#fcd230"/><stop offset="0.0751" stop-color="#fdca34"/><stop offset="0.322" stop-color="#f5ef1f"/><stop offset="0.457" stop-color="#f8f817"/><stop offset="0.708" stop-color="#f8f916"/><stop offset="0.865" stop-color="#f5f01e"/></linearGradient><linearGradient gradientUnits="userSpaceOnUse" id="g119" x1="1187" y1="420" x2="772" y2="231"><stop offset="0" stop-color="#fad82d"/><stop offset="0.0761" stop-color="#fcd131"/><stop offset="0.319" stop-color="#f6f21d"/><stop offset="0.452" stop-color="#f9fa16"/><stop offset="0.744" stop-color="#f9fa16"/><stop offset="0.932" stop-color="#f5e725"/></linearGradient><linearGradient gradientUnits="userSpaceOnUse" id="g118" x1="1181" y1="417" x2="766" y2="228"><stop offset="0" stop-color="#f8dc2b"/><stop offset="0.0472" stop-color="#fbd42f"/><stop offset="0.316" stop-color="#f6f31c"/><stop offset="0.575" stop-color="#f9fb15"/><stop offset="0.859" stop-color="#f6f41b"/><stop offset="1" stop-color="#f8dc2b"/></linearGradient><linearGradient gradientUnits="userSpaceOnUse" id="g117" x1="1175" y1="417" x2="760" y2="228"><stop offset="0" stop-color="#f8dd2a"/><stop offset="0.0477" stop-color="#fbd52e"/><stop offset="0.315" stop-color="#f6f31b"/><stop offset="0.573" stop-color="#f9fb15"/><stop offset="0.857" stop-color="#f6f41b"/><stop offset="1" stop-color="#f8dd2a"/></linearGradient><linearGradient gradientUnits="userSpaceOnUse" id="g116" x1="1169" y1="419" x2="754" y2="230"><stop offset="0" stop-color="#f8dd2b"/><stop offset="0.0478" stop-color="#fbd52e"/><stop offset="0.314" stop-color="#f6f21c"/><stop offset="0.572" stop-color="#f9fa16"/><stop offset="0.857" stop-color="#f6f31b"/><stop offset="1" stop-color="#f8dd2b"/></linearGradient><linearGradient gradientUnits="userSpaceOnUse" id="g115" x1="1163" y1="423" x2="748" y2="234"><stop offset="0" stop-color="#f8db2c"/><stop offset="0.0479" stop-color="#fbd32f"/><stop offset="0.314" stop-color="#f5f11e"/><stop offset="0.572" stop-color="#f8f817"/><stop offset="0.857" stop-color="#f5f11d"/><stop offset="1" stop-color="#f8db2c"/></linearGradient><linearGradient gradientUnits="userSpaceOnUse" id="g114" x1="1160" y1="425" x2="744" y2="237"><stop offset="0" stop-color="#f9d92c"/><stop offset="0.0773" stop-color="#fbd32f"/><stop offset="0.314" stop-color="#f5ef1f"/><stop offset="0.572" stop-color="#f7f619"/><stop offset="0.857" stop-color="#f5f01e"/><stop offset="1" stop-color="#f9d92c"/></linearGradient><linearGradient gradientUnits="userSpaceOnUse" id="g113" x1="1157" y1="428" x2="741" y2="240"><stop offset="0" stop-color="#fad72d"/><stop offset="0.0479" stop-color="#fcd031"/><stop offset="0.359" stop-color="#f5f01e"/><stop offset="0.655" stop-color="#f7f41a"/><stop offset="0.857" stop-color="#f5ee20"/><stop offset="1" stop-color="#fad72d"/></linearGradient><linearGradient gradientUnits="userSpaceOnUse" id="g112" x1="1153" y1="432" x2="738" y2="244"><stop offset="0" stop-color="#fbd52f"/><stop offset="0.048" stop-color="#fcce32"/><stop offset="0.359" stop-color="#f5ed20"/><stop offset="0.655" stop-color="#f6f21d"/><stop offset="0.856" stop-color="#f5eb22"/><stop offset="1" stop-color="#fbd52f"/></linearGradient><linearGradient gradientUnits="userSpaceOnUse" id="g111" x1="1150" y1="437" x2="735" y2="248"><stop offset="0" stop-color="#fcd230"/><stop offset="0.0774" stop-color="#fdcc33"/><stop offset="0.359" stop-color="#f5ea23"/><stop offset="0.572" stop-color="#f5ef1f"/><stop offset="0.817" stop-color="#f5ea22"/><stop offset="1" stop-color="#fcd230"/></linearGradient><linearGradient gradientUnits="userSpaceOnUse" id="g110" x1="1147" y1="442" x2="731" y2="253"><stop offset="0" stop-color="#fcce32"/><stop offset="0.0775" stop-color="#fdc935"/><stop offset="0.358" stop-color="#f5e626"/><stop offset="0.571" stop-color="#f5ea23"/><stop offset="0.817" stop-color="#f5e626"/><stop offset="1" stop-color="#fcce32"/></linearGradient><linearGradient gradientUnits="userSpaceOnUse" id="g109" x1="1144" y1="447" x2="728" y2="259"><stop offset="0" stop-color="#fdca34"/><stop offset="0.0484" stop-color="#fec438"/><stop offset="0.357" stop-color="#f6e128"/><stop offset="0.57" stop-color="#f5e526"/><stop offset="0.816" stop-color="#f6e128"/><stop offset="1" stop-color="#fdca34"/></linearGradient><linearGradient gradientUnits="userSpaceOnUse" id="g108" x1="1142" y1="452" x2="726" y2="263"><stop offset="0" stop-color="#fec736"/><stop offset="0.0779" stop-color="#fec238"/><stop offset="0.4" stop-color="#f7df2a"/><stop offset="0.652" stop-color="#f6e129"/><stop offset="0.854" stop-color="#f9da2c"/><stop offset="1" stop-color="#fec736"/></linearGradient><linearGradient gradientUnits="userSpaceOnUse" id="g107" x1="1140" y1="456" x2="724" y2="267"><stop offset="0" stop-color="#fec438"/><stop offset="0.0783" stop-color="#fcc039"/><stop offset="0.355" stop-color="#fad82d"/><stop offset="0.567" stop-color="#f8dc2b"/><stop offset="0.813" stop-color="#f9d82d"/><stop offset="1" stop-color="#fec438"/></linearGradient><linearGradient gradientUnits="userSpaceOnUse" id="g106" x1="1137" y1="460" x2="722" y2="271"><stop offset="0" stop-color="#fdc238"/><stop offset="0.0788" stop-color="#fbbe39"/><stop offset="0.353" stop-color="#fbd330"/><stop offset="0.565" stop-color="#fad62e"/><stop offset="0.811" stop-color="#fbd32f"/><stop offset="1" stop-color="#fdc238"/></linearGradient></defs><g id="surf3d" shape-rendering="crispEdges"><path d="M1653.7,482 1642.2,476.7 1619.1,466.3 1584.4,450.5 1515.1,419 1445.8,387.6 1376.5,356.1 1307.2,324.6 1272.6,308.9 1237.9,293.2 1243.9,291.3 1278.6,307 1313.2,322.8 1382.5,354.2 1451.8,385.7 1521.1,417.2 1590.4,448.7 1625.1,464.4 1648.2,474.9 1659.7,480.1Z" fill="#12beb9"/><path d="M1647.7,484.1 1636.2,478.9 1613.1,468.4 1578.4,452.6 1509.1,421.2 1439.8,389.7 1370.5,358.2 1301.2,326.8 1266.6,311 1231.9,295.3 1237.9,293.2 1272.6,308.9 1307.2,324.6 1376.5,356.1 1445.8,387.6 1515.1,419 1584.4,450.5 1619.1,466.3 1642.2,476.7 1653.7,482.0Z" fill="#12beb9"/><path d="M1641.7,486.4 1630.1,481.2 1607,470.7 1572.4,454.9 1503.1,423.5 1433.8,392 1364.5,360.5 1295.2,329 1260.5,313.3 1225.9,297.6 1231.9,295.3 1266.6,311 1301.2,326.8 1370.5,358.2 1439.8,389.7 1509.1,421.2 1578.4,452.6 1613.1,468.4 1636.2,478.9 1647.7,484.1Z" fill="#12beba"/><path d="M1635.7,488.8 1624.1,483.5 1601,473.1 1566.4,457.3 1497.1,425.9 1427.8,394.4 1358.5,362.9 1289.2,331.4 1254.5,315.7 1219.9,300 1225.9,297.6 1260.5,313.3 1295.2,329 1364.5,360.5 1433.8,392 1503.1,423.5 1572.4,454.9 1607,470.7 1630.1,481.2 1641.7,486.4Z" fill="#11bebb"/><path d="M1629.7,491.4 1618.1,486.1 1595,475.6 1560.4,459.9 1491.1,428.4 1421.8,397 1352.5,365.5 1283.2,334 1248.5,318.3 1213.9,302.5 1219.9,300 1254.5,315.7 1289.2,331.4 1358.5,362.9 1427.8,394.4 1497.1,425.9 1566.4,457.3 1601,473.1 1624.1,483.5 1635.7,488.8Z" fill="#11bdbb"/><path d="M1623.6,494.2 1612.1,489 1589,478.5 1554.3,462.8 1485,431.3 1415.7,399.8 1346.4,368.4 1277.1,336.9 1242.5,321.2 1207.8,305.4 1213.9,302.5 1248.5,318.3 1283.2,334 1352.5,365.5 1421.8,397 1491.1,428.4 1560.4,459.9 1595,475.6 1618.1,486.1 1629.7,491.4Z" fill="#10bdbd"/><path d="M1617.6,497.5 1606.1,492.2 1583,481.8 1548.3,466 1479,434.5 1409.7,403.1 1340.4,371.6 1271.1,340.1 1236.5,324.4 1201.8,308.7 1207.8,305.4 1242.5,321.2 1277.1,336.9 1346.4,368.4 1415.7,399.8 1485,431.3 1554.3,462.8 1589,478.5 1612.1,489 1623.6,494.2Z" fill="#0fbcbe"/><path d="M1611.6,501.1 1600.1,495.9 1577,485.4 1542.3,469.6 1473,438.2 1403.7,406.7 1334.4,375.2 1265.1,343.8 1230.5,328 1195.8,312.3 1201.8,308.7 1236.5,324.4 1271.1,340.1 1340.4,371.6 1409.7,403.1 1479,434.5 1548.3,466 1583,481.8 1606.1,492.2 1617.6,497.5Z" fill="#0ebcc0"/><path d="M1605.6,505.6 1594,500.4 1570.9,489.9 1536.3,474.2 1467,442.7 1397.7,411.2 1328.4,379.7 1259.1,348.3 1224.4,332.5 1189.8,316.8 1195.8,312.3 1230.5,328 1265.1,343.8 1334.4,375.2 1403.7,406.7 1473,438.2 1542.3,469.6 1577,485.4 1600.1,495.9 1611.6,501.1Z" fill="#0dbbc3"/><path d="M1605.1,506.1 1593.5,500.9 1570.4,490.4 1535.8,474.7 1466.5,443.2 1397.2,411.7 1327.9,380.3 1258.6,348.8 1259.1,348.3 1328.4,379.7 1397.7,411.2 1467,442.7 1536.3,474.2 1570.9,489.9 1594,500.4 1605.6,505.6Z" fill="#0cbac4"/><path d="M1599.6,511.4 1588,506.1 1564.9,495.6 1530.3,479.9 1461,448.4 1391.7,417 1322.4,385.5 1253.1,354 1258.6,348.8 1327.9,380.3 1397.2,411.7 1466.5,443.2 1535.8,474.7 1570.4,490.4 1593.5,500.9 1605.1,506.1Z" fill="#0bb9c6"/><path d="M1598.4,512.7 1586.9,507.4 1563.8,496.9 1529.1,481.2 1459.8,449.7 1390.5,418.2 1321.2,386.8 1322.4,385.5 1391.7,417 1461,448.4 1530.3,479.9 1564.9,495.6 1588,506.1 1599.6,511.4Z" fill="#0ab9c9"/><path d="M1593.6,518.1 1582,512.9 1558.9,502.4 1524.3,486.7 1455,455.2 1385.7,423.7 1316.4,392.3 1321.2,386.8 1390.5,418.2 1459.8,449.7 1529.1,481.2 1563.8,496.9 1586.9,507.4 1598.4,512.7Z" fill="#0cb8cb"/><path d="M1592.1,520 1580.5,514.8 1557.4,504.3 1522.8,488.6 1453.5,457.1 1384.2,425.6 1314.9,394.2 1316.4,392.3 1385.7,423.7 1455,455.2 1524.3,486.7 1558.9,502.4 1582,512.9 1593.6,518.1Z" fill="#0db6cd"/><path d="M1587.5,525.7 1576,520.5 1552.9,510 1518.2,494.3 1448.9,462.8 1379.6,431.3 1310.3,399.9 1314.9,394.2 1384.2,425.6 1453.5,457.1 1522.8,488.6 1557.4,504.3 1580.5,514.8 1592.1,520.0Z" fill="#0eb5cf"/><path d="M1585.4,529.1 1573.8,523.9 1550.7,513.4 1516.1,497.6 1446.8,466.2 1377.5,434.7 1379.6,431.3 1448.9,462.8 1518.2,494.3 1552.9,510 1576,520.5 1587.5,525.7Z" fill="#0fb4d2"/><path d="M1581.5,535.1 1570,529.9 1546.9,519.4 1512.2,503.6 1442.9,472.2 1373.6,440.7 1377.5,434.7 1446.8,466.2 1516.1,497.6 1550.7,513.4 1573.8,523.9 1585.4,529.1Z" fill="#11b2d5"/><path d="M1578.8,540.5 1567.2,535.2 1544.1,524.7 1509.5,509 1440.2,477.5 1442.9,472.2 1512.2,503.6 1546.9,519.4 1570,529.9 1581.5,535.1Z" fill="#13afd7"/><path d="M1575.5,546.8 1564,541.6 1540.9,531.1 1506.2,515.3 1436.9,483.9 1440.2,477.5 1509.5,509 1544.1,524.7 1567.2,535.2 1578.8,540.5Z" fill="#15acda"/><path d="M1575.3,547.3 1563.7,542.1 1540.6,531.6 1506,515.9 1436.7,484.4 1436.9,483.9 1506.2,515.3 1540.9,531.1 1564,541.6 1575.5,546.8Z" fill="#17aadc"/><path d="M1572.4,553.8 1560.8,548.5 1537.7,538 1503.1,522.3 1433.8,490.8 1436.7,484.4 1506,515.9 1540.6,531.6 1563.7,542.1 1575.3,547.3Z" fill="#18a9dd"/><path d="M1569.5,560.2 1558,554.9 1534.9,544.4 1500.2,528.7 1430.9,497.2 1433.8,490.8 1503.1,522.3 1537.7,538 1560.8,548.5 1572.4,553.8Z" fill="#1ba5e0"/><path d="M1568.8,561.9 1557.2,556.7 1534.1,546.2 1499.5,530.5 1430.2,499 1430.9,497.2 1500.2,528.7 1534.9,544.4 1558,554.9 1569.5,560.2Z" fill="#1ca3e2"/><path d="M1566.1,568.4 1554.6,563.1 1531.5,552.7 1496.8,537 1427.5,505.5 1430.2,499 1499.5,530.5 1534.1,546.2 1557.2,556.7 1568.8,561.9Z" fill="#1ea0e4"/><path d="M1563.5,574.8 1551.9,569.6 1528.8,559.1 1494.2,543.5 1424.9,512.1 1427.5,505.5 1496.8,537 1531.5,552.7 1554.6,563.1 1566.1,568.4Z" fill="#219de7"/><path d="M1561.6,581.4 1550,576.1 1526.9,565.7 1492.3,550 1423,518.6 1424.9,512.1 1494.2,543.5 1528.8,559.1 1551.9,569.6 1563.5,574.8Z" fill="#2399ea"/><path d="M1559.5,588.3 1548,583.1 1524.9,572.6 1490.2,556.9 1492.3,550 1526.9,565.7 1550,576.1 1561.6,581.4Z" fill="#2695ed"/><path d="M1557.5,595.3 1545.9,590.1 1522.8,579.6 1488.2,563.8 1490.2,556.9 1524.9,572.6 1548,583.1 1559.5,588.3Z" fill="#2891f0"/><path d="M1556.6,601.7 1545,596.4 1521.9,585.7 1487.3,569.8 1488.2,563.8 1522.8,579.6 1545.9,590.1 1557.5,595.3Z" fill="#2b8cf3"/><path d="M1555.5,608.9 1544,603.6 1520.9,592.7 1486.2,576.6 1487.3,569.8 1521.9,585.7 1545,596.4 1556.6,601.7Z" fill="#2d88f6"/><path d="M1554.5,616.2 1543,610.8 1519.9,599.7 1520.9,592.7 1544,603.6 1555.5,608.9Z" fill="#2f83f9"/><path d="M1553.5,623.4 1541.9,618 1518.8,606.7 1519.9,599.7 1543,610.8 1554.5,616.2Z" fill="#327dfb"/><path d="M1552.5,630.7 1540.9,625.1 1517.8,613.7 1518.8,606.7 1541.9,618 1553.5,623.4Z" fill="#3578fd"/><path d="M1551.5,637.9 1539.9,632.3 1516.8,620.7 1517.8,613.7 1540.9,625.1 1552.5,630.7Z" fill="#3972fd"/><path d="M1551.2,642.2 1539.7,636.6 1516.6,625 1516.8,620.7 1539.9,632.3 1551.5,637.9Z" fill="#3d6dfc"/><path d="M1550.7,650.7 1539.2,645.1 1516.1,633.5 1516.6,625 1539.7,636.6 1551.2,642.2Z" fill="#4168fc"/><path d="M1550.2,659.2 1538.7,653.6 1515.6,642 1516.1,633.5 1539.2,645.1 1550.7,650.7Z" fill="#4561fc"/><path d="M1549.8,667.7 1538.2,662.1 1515.1,650.5 1515.6,642 1538.7,653.6 1550.2,659.2Z" fill="#465bf8"/><path d="M1549.3,676.3 1537.7,670.7 1514.6,659 1515.1,650.5 1538.2,662.1 1549.8,667.7Z" fill="#4754f4"/><path d="M1548.8,684.8 1537.3,679.2 1514.2,667.6 1514.6,659 1537.7,670.7 1549.3,676.3Z" fill="#484ef0"/><path d="M1548.3,693.3 1536.8,687.7 1513.7,676.1 1514.2,667.6 1537.3,679.2 1548.8,684.8Z" fill="#4747e9"/><path d="M1547.8,701.8 1536.3,696.2 1536.8,687.7 1548.3,693.3Z" fill="#4640e1"/><path d="M1547.4,710.3 1535.8,704.7 1536.3,696.2 1547.8,701.8Z" fill="#453ad9"/><path d="M1546.9,718.9 1535.3,713.2 1535.8,704.7 1547.4,710.3Z" fill="#4434cf"/><path d="M1546.4,727.4 1534.8,721.8 1535.3,713.2 1546.9,718.9Z" fill="#4230c2"/><path d="M1545.9,735.9 1534.4,730.3 1534.8,721.8 1546.4,727.4Z" fill="#402bb5"/><path d="M1545.4,739.9 1533.9,734.6 1534.4,730.3 1545.9,735.9Z" fill="#3e26a8"/><path d="M1542.8,737.1 1531.2,731.6 1508.1,720.5 1473.5,704.1 1404.2,672 1334.9,640.1 1265.6,609 1268.2,614 1337.5,645.4 1406.8,676.9 1476.1,708.4 1510.8,724.1 1533.9,734.6 1545.4,739.9Z" fill="#3e27ab"/><path d="M1539.4,727.8 1527.9,722.5 1504.8,712 1470.1,696.3 1400.8,664.8 1331.5,633.4 1262.2,601.9 1265.6,609 1334.9,640.1 1404.2,672 1473.5,704.1 1508.1,720.5 1531.2,731.6 1542.8,737.1Z" fill="#402cb7"/><path d="M1539.2,723.8 1527.6,718.6 1504.5,708 1469.9,692.2 1400.6,660.7 1331.3,629.2 1262,597.8 1262.2,601.9 1331.5,633.4 1400.8,664.8 1470.1,696.3 1504.8,712 1527.9,722.5 1539.4,727.8Z" fill="#422fc1"/><path d="M1538.7,715.9 1527.1,710.6 1504,700 1469.4,684.1 1400.1,652.5 1330.8,621 1261.5,589.6 1262,597.8 1331.3,629.2 1400.6,660.7 1469.9,692.2 1504.5,708 1527.6,718.6 1539.2,723.8Z" fill="#4333ca"/><path d="M1538.2,708 1526.7,702.7 1503.6,692 1468.9,676 1399.6,644.3 1330.3,612.7 1261,581.3 1261.5,589.6 1330.8,621 1400.1,652.5 1469.4,684.1 1504,700 1527.1,710.6 1538.7,715.9Z" fill="#4538d6"/><path d="M1537.7,700.1 1526.2,694.8 1503.1,684 1468.4,667.9 1399.1,636.1 1329.8,604.4 1260.5,573.1 1261,581.3 1330.3,612.7 1399.6,644.3 1468.9,676 1503.6,692 1526.7,702.7 1538.2,708.0Z" fill="#463ede"/><path d="M1537.3,692.2 1525.7,686.9 1502.6,676 1468,659.8 1398.7,627.9 1329.4,596.2 1329.8,604.4 1399.1,636.1 1468.4,667.9 1503.1,684 1526.2,694.8 1537.7,700.1Z" fill="#4744e6"/><path d="M1536.8,684.3 1525.2,678.9 1502.1,667.9 1467.5,651.7 1398.2,619.7 1328.9,587.9 1329.4,596.2 1398.7,627.9 1468,659.8 1502.6,676 1525.7,686.9 1537.3,692.2Z" fill="#484aed"/><path d="M1536.3,676.4 1524.7,671 1501.6,659.9 1467,643.6 1397.7,611.5 1328.4,579.7 1328.9,587.9 1398.2,619.7 1467.5,651.7 1502.1,667.9 1525.2,678.9 1536.8,684.3Z" fill="#4751f2"/><path d="M1535.8,668.5 1524.3,663.1 1501.2,651.9 1466.5,635.5 1397.2,603.3 1327.9,571.4 1328.4,579.7 1397.7,611.5 1467,643.6 1501.6,659.9 1524.7,671 1536.3,676.4Z" fill="#4657f6"/><path d="M1535.3,660.6 1523.8,655.1 1500.7,643.9 1466,627.4 1396.7,595.1 1327.4,563.1 1327.9,571.4 1397.2,603.3 1466.5,635.5 1501.2,651.9 1524.3,663.1 1535.8,668.5Z" fill="#465efa"/><path d="M1534.8,652.7 1523.3,647.2 1500.2,635.9 1465.5,619.2 1396.2,586.8 1326.9,554.9 1327.4,563.1 1396.7,595.1 1466,627.4 1500.7,643.9 1523.8,655.1 1535.3,660.6Z" fill="#4464fc"/><path d="M1534.4,644.8 1522.8,639.3 1499.7,627.9 1465.1,611.1 1395.8,578.6 1326.5,546.6 1326.9,554.9 1396.2,586.8 1465.5,619.2 1500.2,635.9 1523.3,647.2 1534.8,652.7Z" fill="#3f6bfc"/><path d="M1533.9,636.9 1522.3,631.4 1499.2,619.8 1464.6,603 1395.3,570.4 1326,538.3 1326.5,546.6 1395.8,578.6 1465.1,611.1 1499.7,627.9 1522.8,639.3 1534.4,644.8Z" fill="#3a72fd"/><path d="M1533.4,629 1521.9,623.4 1498.8,611.8 1464.1,594.9 1394.8,562.2 1325.5,530.1 1326,538.3 1395.3,570.4 1464.6,603 1499.2,619.8 1522.3,631.4 1533.9,636.9Z" fill="#3579fd"/><path d="M1532.4,624.2 1520.9,618.6 1497.8,607 1463.1,590.1 1393.8,557.4 1324.5,525.2 1325.5,530.1 1394.8,562.2 1464.1,594.9 1498.8,611.8 1521.9,623.4 1533.4,629.0Z" fill="#327efb"/><path d="M1530.8,615.7 1519.2,610.1 1496.1,598.5 1461.5,581.6 1392.2,548.9 1322.9,516.7 1324.5,525.2 1393.8,557.4 1463.1,590.1 1497.8,607 1520.9,618.6 1532.4,624.2Z" fill="#2f83f8"/><path d="M1529.1,607.2 1517.5,601.6 1494.4,590 1459.8,573.1 1390.5,540.4 1321.2,508.2 1322.9,516.7 1392.2,548.9 1461.5,581.6 1496.1,598.5 1519.2,610.1 1530.8,615.7Z" fill="#2c8af5"/><path d="M1527.4,598.7 1515.8,593.1 1492.7,581.5 1458.1,564.6 1388.8,531.9 1390.5,540.4 1459.8,573.1 1494.4,590 1517.5,601.6 1529.1,607.2Z" fill="#2990f0"/><path d="M1526.4,596.7 1514.8,591.1 1491.7,579.4 1457.1,562.5 1387.8,529.8 1388.8,531.9 1458.1,564.6 1492.7,581.5 1515.8,593.1 1527.4,598.7Z" fill="#2793ee"/><path d="M1521.4,586.6 1509.8,581 1486.7,569.4 1452.1,552.5 1382.8,519.8 1387.8,529.8 1457.1,562.5 1491.7,579.4 1514.8,591.1 1526.4,596.7Z" fill="#2498ea"/><path d="M1515.4,576.9 1503.8,571.3 1480.7,559.7 1446.1,542.8 1376.8,510.1 1382.8,519.8 1452.1,552.5 1486.7,569.4 1509.8,581 1521.4,586.6Z" fill="#1f9fe5"/><path d="M1509.3,568.1 1497.8,562.5 1474.7,551 1440,534.1 1370.7,501.5 1376.8,510.1 1446.1,542.8 1480.7,559.7 1503.8,571.3 1515.4,576.9Z" fill="#1aa6df"/><path d="M1503.3,559.5 1491.8,553.9 1468.7,542.3 1434,525.4 1364.7,492.7 1370.7,501.5 1440,534.1 1474.7,551 1497.8,562.5 1509.3,568.1Z" fill="#15adda"/><path d="M1497.3,550.8 1485.8,545.2 1462.7,533.4 1428,516.2 1358.7,483.3 1364.7,492.7 1434,525.4 1468.7,542.3 1491.8,553.9 1503.3,559.5Z" fill="#10b2d4"/><path d="M1491.3,542.4 1479.7,536.6 1456.6,524.5 1422,507.1 1352.7,473.9 1358.7,483.3 1428,516.2 1462.7,533.4 1485.8,545.2 1497.3,550.8Z" fill="#0cb7cc"/><path d="M1485.3,533.8 1473.7,527.9 1450.6,515.5 1416,497.7 1346.7,464.2 1352.7,473.9 1422,507.1 1456.6,524.5 1479.7,536.6 1491.3,542.4Z" fill="#0dbbc3"/><path d="M1479.3,524.9 1467.7,518.9 1444.6,506.1 1410,488.1 1340.7,454.2 1346.7,464.2 1416,497.7 1450.6,515.5 1473.7,527.9 1485.3,533.8Z" fill="#14bfb7"/><path d="M1479.2,524.8 1467.6,518.8 1444.5,506 1409.9,488 1410,488.1 1444.6,506.1 1467.7,518.9 1479.3,524.9Z" fill="#19c0b3"/><path d="M1473.2,515 1461.7,509 1438.6,496 1403.9,477.8 1409.9,488 1444.5,506 1467.6,518.8 1479.2,524.8Z" fill="#20c2ad"/><path d="M1472.9,514.4 1461.3,508.3 1438.2,495.4 1403.6,477.1 1403.9,477.8 1438.6,496 1461.7,509 1473.2,515.0Z" fill="#27c4a6"/><path d="M1467.2,504.5 1455.7,498.4 1432.6,485.4 1397.9,467 1403.6,477.1 1438.2,495.4 1461.3,508.3 1472.9,514.4Z" fill="#2ec6a0"/><path d="M1466.7,503.7 1455.2,497.6 1432.1,484.5 1397.4,466.2 1397.9,467 1432.6,485.4 1455.7,498.4 1467.2,504.5Z" fill="#36c898"/><path d="M1461.2,494.3 1449.7,488.2 1426.6,474.9 1391.9,456.3 1397.4,466.2 1432.1,484.5 1455.2,497.6 1466.7,503.7Z" fill="#3fc990"/><path d="M1460.7,493.6 1449.2,487.5 1426.1,474.2 1426.6,474.9 1449.7,488.2 1461.2,494.3Z" fill="#46c98a"/><path d="M1455.2,485.7 1443.6,479.3 1420.5,465.4 1426.1,474.2 1449.2,487.5 1460.7,493.6Z" fill="#4fca82"/><path d="M1454.4,484.6 1442.9,478.3 1419.8,464.3 1420.5,465.4 1443.6,479.3 1455.2,485.7Z" fill="#58cb7b"/><path d="M1449.2,477.9 1437.6,471.2 1414.5,456.4 1419.8,464.3 1442.9,478.3 1454.4,484.6Z" fill="#60cc73"/><path d="M1448.3,477.2 1436.8,470.4 1437.6,471.2 1449.2,477.9Z" fill="#66cc6e"/><path d="M1443.2,472.9 1431.6,465.7 1436.8,470.4 1448.3,477.2Z" fill="#6dcc69"/><path d="M1443,472.9 1431.5,465.7 1408.4,449.1 1408.5,449.2 1431.6,465.7 1443.2,472.9ZM1061.9,292.2 1050.3,290.7 1038.8,288.2 1027.2,284 1027.4,284.1 1038.9,288.3 1050.5,290.8 1062,292.2Z" fill="#77cb61"/><path d="M1437.1,471.3 1425.6,463.4 1402.5,444.7 1408.4,449.1 1431.5,465.7 1443,472.9ZM1056,287.9 1044.4,287.8 1032.9,286.3 1021.3,282.5 1027.2,284 1038.8,288.2 1050.3,290.7 1061.9,292.2Z" fill="#7bcb5e"/><path d="M1431.1,471.5 1419.6,462.8 1408,451.5 1396.5,441.5 1361.8,414.6 1367.8,420.4 1402.5,444.7 1425.6,463.4 1437.1,471.3ZM1084.6,289.1 1067.3,286.2 1050,284.9 1038.4,286.4 1026.9,286.1 1015.3,282.7 1021.3,282.5 1032.9,286.3 1044.4,287.8 1056,287.9 1073.3,290.7 1090.6,294.8Z" fill="url(#g286)"/><path d="M1425.1,476.3 1413.6,466.5 1402,453.2 1390.5,441.7 1355.8,411.2 1338.5,397.2 1321.2,385 1286.5,364.4 1292.5,371.5 1327.2,390.9 1344.5,402 1361.8,414.6 1396.5,441.5 1408,451.5 1419.6,462.8 1431.1,471.5ZM1147.9,299.7 1130.6,294.9 1113.3,291.1 1078.6,285.8 1084.6,289.1 1119.3,296.9 1153.9,307.2ZM1044,285.3 1032.4,289.1 1020.9,290.2 1009.3,287.5 1015.3,282.7 1026.9,286.1 1038.4,286.4 1050,284.9Z" fill="url(#g285)"/><path d="M1423.1,479.2 1411.6,469 1400,455 1388.5,443 1353.8,411.4 1336.5,396.8 1319.2,384.2 1284.5,363.2 1286.5,364.4 1321.2,385 1338.5,397.2 1355.8,411.2 1390.5,441.7 1402,453.2 1413.6,466.5 1425.1,476.3ZM1076.6,286 1059.3,285.3 1042,286.7 1030.4,291.2 1018.9,292.9 1007.3,290.4 1009.3,287.5 1020.9,290.2 1032.4,289.1 1044,285.3 1061.3,284.6 1078.6,285.8Z" fill="url(#g284)"/><path d="M1419.1,485.1 1407.5,474.1 1396,458.8 1384.5,445.8 1349.8,411.6 1332.5,396 1315.2,382.7 1280.5,360.9 1284.5,363.2 1319.2,384.2 1336.5,396.8 1353.8,411.4 1388.5,443 1400,455 1411.6,469 1423.1,479.2ZM1141.9,295.7 1124.6,291.7 1107.2,289 1072.6,286.3 1055.3,286.7 1038,289.6 1026.4,295.6 1014.9,298.4 1003.3,296.3 1007.3,290.4 1018.9,292.9 1030.4,291.2 1042,286.7 1059.3,285.3 1076.6,286 1111.3,290.4 1128.6,293.8 1145.9,298.4Z" fill="url(#g283)"/><path d="M1416.9,488.5 1405.4,477.2 1393.8,461.2 1382.3,447.7 1347.6,412.5 1330.3,396.4 1313,382.8 1278.3,360.6 1261,350.1 1226.4,327.1 1209,317.9 1174.4,305.4 1139.7,295.3 1122.4,291.5 1105.1,289.1 1070.4,287.2 1053.1,288.1 1035.8,291.7 1024.2,298.4 1012.7,301.6 1001.1,299.7 1003.3,296.3 1014.9,298.4 1026.4,295.6 1038,289.6 1055.3,286.7 1072.6,286.3 1107.2,289 1124.6,291.7 1141.9,295.7 1176.5,306.2 1211.2,318.8 1228.5,327.9 1263.2,350.5 1280.5,360.9 1315.2,382.7 1332.5,396 1349.8,411.6 1384.5,445.8 1396,458.8 1407.5,474.1 1419.1,485.1Z" fill="url(#g282)"/><path d="M1413.1,494.6 1401.5,482.6 1390,465.6 1378.4,451.3 1343.8,414 1326.5,397.1 1309.1,382.9 1274.5,360.1 1257.2,349.3 1222.5,325.5 1205.2,316.2 1170.5,304.1 1135.9,294.6 1118.6,291.2 1101.2,289.3 1066.6,288.8 1049.3,290.6 1031.9,295.3 1020.4,303.2 1008.8,307.3 997.3,305.7 1001.1,299.7 1012.7,301.6 1024.2,298.4 1035.8,291.7 1053.1,288.1 1070.4,287.2 1105.1,289.1 1122.4,291.5 1139.7,295.3 1174.4,305.4 1209,317.9 1226.4,327.1 1261,350.1 1278.3,360.6 1313,382.8 1330.3,396.4 1347.6,412.5 1382.3,447.7 1393.8,461.2 1405.4,477.2 1416.9,488.5Z" fill="url(#g281)"/><path d="M1410.7,498.4 1399.2,486.1 1387.6,468.6 1376.1,453.8 1364.5,440.3 1341.4,415.5 1324.1,398.1 1306.8,383.6 1272.1,360.5 1254.8,349.5 1220.2,325.4 1202.8,316 1168.2,304 1133.5,294.8 1116.2,291.6 1098.9,290.1 1081.6,289.8 1064.2,290.3 1046.9,292.6 1029.6,297.9 1018,306.4 1006.5,311 994.9,309.6 997.3,305.7 1008.8,307.3 1020.4,303.2 1031.9,295.3 1049.3,290.6 1066.6,288.8 1101.2,289.3 1118.6,291.2 1135.9,294.6 1170.5,304.1 1205.2,316.2 1222.5,325.5 1257.2,349.3 1274.5,360.1 1309.1,382.9 1326.5,397.1 1343.8,414 1378.4,451.3 1390,465.6 1401.5,482.6 1413.1,494.6Z" fill="url(#g280)"/><path d="M1407.1,504.5 1395.5,491.7 1384,473.2 1372.4,457.7 1360.9,443.7 1337.8,417.8 1320.4,399.7 1303.1,384.7 1268.5,361 1251.1,349.8 1216.5,325.1 1199.2,315.6 1164.5,303.9 1147.2,299.1 1129.9,295.2 1112.5,292.3 1095.2,291.3 1077.9,291.5 1060.6,292.7 1043.2,295.6 1025.9,302 1014.4,311.5 1002.8,316.8 991.3,315.7 994.9,309.6 1006.5,311 1018,306.4 1029.6,297.9 1046.9,292.6 1064.2,290.3 1081.6,289.8 1098.9,290.1 1116.2,291.6 1133.5,294.8 1168.2,304 1202.8,316 1220.2,325.4 1254.8,349.5 1272.1,360.5 1306.8,383.6 1324.1,398.1 1341.4,415.5 1364.5,440.3 1376.1,453.8 1387.6,468.6 1399.2,486.1 1410.7,498.4Z" fill="url(#g279)"/><path d="M1404.4,509.4 1392.8,496.2 1381.3,477.1 1369.7,461.1 1358.2,446.7 1335.1,420 1317.7,401.5 1300.4,386.2 1265.8,362.1 1248.4,350.8 1213.8,325.6 1196.5,316.1 1161.8,304.6 1144.5,299.9 1127.2,296.1 1109.8,293.5 1092.5,292.8 1075.2,293.4 1057.9,295 1040.5,298.5 1023.2,305.4 1011.7,315.6 1000.1,321.4 988.6,320.5 991.3,315.7 1002.8,316.8 1014.4,311.5 1025.9,302 1043.2,295.6 1060.6,292.7 1077.9,291.5 1095.2,291.3 1112.5,292.3 1129.9,295.2 1147.2,299.1 1164.5,303.9 1199.2,315.6 1216.5,325.1 1251.1,349.8 1268.5,361 1303.1,384.7 1320.4,399.7 1337.8,417.8 1360.9,443.7 1372.4,457.7 1384,473.2 1395.5,491.7 1407.1,504.5Z" fill="url(#g278)"/><path d="M1401.1,515.6 1389.5,501.8 1378,481.8 1366.4,465.3 1354.9,450.3 1331.8,422.8 1314.4,403.7 1297.1,388 1279.8,375.1 1262.5,363.4 1245.1,351.9 1210.5,326.2 1193.2,316.6 1175.8,310.5 1158.5,305.3 1141.2,300.8 1123.9,297.3 1106.5,295 1089.2,294.6 1071.9,295.7 1054.6,297.8 1037.2,301.9 1019.9,309.7 1023.2,305.4 1040.5,298.5 1057.9,295 1075.2,293.4 1092.5,292.8 1109.8,293.5 1127.2,296.1 1144.5,299.9 1161.8,304.6 1196.5,316.1 1213.8,325.6 1248.4,350.8 1265.8,362.1 1300.4,386.2 1317.7,401.5 1335.1,420 1358.2,446.7 1369.7,461.1 1381.3,477.1 1392.8,496.2 1404.4,509.4Z" fill="url(#g277)"/><path d="M1399.3,518.9 1392.4,511.1 1387.8,504.6 1376.2,484 1364.7,467.2 1353.1,452 1330,424.1 1312.7,404.8 1295.4,388.9 1278,375.9 1260.7,364.2 1243.4,352.5 1208.7,326.7 1191.4,317 1174.1,310.9 1156.8,305.8 1139.4,301.3 1122.1,297.9 1104.8,295.7 1087.5,295.5 1070.1,296.8 1052.8,299.1 1035.5,303.5 1018.2,311.6 1019.9,309.7 1037.2,301.9 1054.6,297.8 1071.9,295.7 1089.2,294.6 1106.5,295 1123.9,297.3 1141.2,300.8 1158.5,305.3 1175.8,310.5 1193.2,316.6 1210.5,326.2 1245.1,351.9 1262.5,363.4 1279.8,375.1 1297.1,388 1314.4,403.7 1331.8,422.8 1354.9,450.3 1366.4,465.3 1378,481.8 1389.5,501.8 1401.1,515.6Z" fill="url(#g276)"/><path d="M1396.8,525.5 1393.3,521.7 1385.2,509.5 1373.7,487.3 1362.1,470 1350.6,454.5 1327.5,426.1 1310.2,406.4 1292.8,390.2 1275.5,377.1 1258.2,365.2 1240.9,353.5 1206.2,327.3 1188.9,317.5 1171.6,311.5 1154.2,306.5 1136.9,302.2 1119.6,298.9 1102.3,296.9 1084.9,296.9 1067.6,298.4 1050.3,301.1 1033,305.8 1015.6,314.5 1018.2,311.6 1035.5,303.5 1052.8,299.1 1070.1,296.8 1087.5,295.5 1104.8,295.7 1122.1,297.9 1139.4,301.3 1156.8,305.8 1174.1,310.9 1191.4,317 1208.7,326.7 1243.4,352.5 1260.7,364.2 1278,375.9 1295.4,388.9 1312.7,404.8 1330,424.1 1353.1,452 1364.7,467.2 1376.2,484 1387.8,504.6 1392.4,511.1 1399.3,518.9Z" fill="url(#g275)"/><path d="M1395,532.5 1391.6,528.4 1383.5,513.9 1371.9,489.6 1360.4,471.9 1348.8,456.2 1325.7,427.4 1308.4,407.4 1291.1,391.1 1273.8,377.9 1256.4,365.9 1239.1,354.1 1204.5,327.7 1187.1,317.9 1169.8,311.9 1152.5,307 1135.2,302.7 1117.8,299.5 1100.5,297.6 1083.2,297.8 1065.9,299.6 1048.5,302.5 1031.2,307.5 1013.9,316.4 1015.6,314.5 1033,305.8 1050.3,301.1 1067.6,298.4 1084.9,296.9 1102.3,296.9 1119.6,298.9 1136.9,302.2 1154.2,306.5 1171.6,311.5 1188.9,317.5 1206.2,327.3 1240.9,353.5 1258.2,365.2 1275.5,377.1 1292.8,390.2 1310.2,406.4 1327.5,426.1 1350.6,454.5 1362.1,470 1373.7,487.3 1385.2,509.5 1393.3,521.7 1396.8,525.5Z" fill="url(#g274)"/><path d="M1394.1,537.4 1390.6,533 1382.5,516.7 1371,490.8 1359.4,472.8 1347.9,457 1324.8,428.1 1307.4,408 1290.1,391.7 1272.8,378.4 1255.5,366.4 1238.1,354.6 1203.5,328.1 1186.2,318.3 1168.8,312.3 1151.5,307.4 1134.2,303.1 1116.9,300 1099.5,298.1 1082.2,298.4 1064.9,300.2 1047.6,303.1 1030.2,308.2 1012.9,317.3 1013.9,316.4 1031.2,307.5 1048.5,302.5 1065.9,299.6 1083.2,297.8 1100.5,297.6 1117.8,299.5 1135.2,302.7 1152.5,307 1169.8,311.9 1187.1,317.9 1204.5,327.7 1239.1,354.1 1256.4,365.9 1273.8,377.9 1291.1,391.1 1308.4,407.4 1325.7,427.4 1348.8,456.2 1360.4,471.9 1371.9,489.6 1383.5,513.9 1391.6,528.4 1395,532.5Z" fill="url(#g273)"/><path d="M1392.9,544.8 1389.5,539.9 1381.4,520.8 1369.8,492.2 1358.3,473.8 1346.7,458 1323.6,428.9 1306.3,408.7 1289,392.3 1271.7,379 1254.3,367 1237,355.1 1202.4,328.5 1185,318.7 1167.7,312.7 1150.4,307.8 1133.1,303.6 1115.7,300.5 1098.4,298.7 1081.1,299 1063.8,300.9 1046.4,304 1029.1,309.2 1011.8,318.4 1012.9,317.3 1030.2,308.2 1047.6,303.1 1064.9,300.2 1082.2,298.4 1099.5,298.1 1116.9,300 1134.2,303.1 1151.5,307.4 1168.8,312.3 1186.2,318.3 1203.5,328.1 1238.1,354.6 1255.5,366.4 1272.8,378.4 1290.1,391.7 1307.4,408 1324.8,428.1 1347.9,457 1359.4,472.8 1371,490.8 1382.5,516.7 1390.6,533 1394.1,537.4Z" fill="url(#g272)"/><path d="M1392,552.4 1388.5,547.1 1380.4,524.8 1374.6,507.4 1368.9,493.4 1357.3,474.7 1345.8,458.8 1322.7,429.6 1305.3,409.3 1288,392.8 1270.7,379.5 1253.4,367.4 1236,355.5 1201.4,328.9 1184.1,319 1166.7,313.1 1149.4,308.2 1132.1,304 1114.8,301 1097.4,299.2 1080.1,299.6 1062.8,301.5 1045.5,304.7 1028.1,309.9 1010.8,319.3 1011.8,318.4 1029.1,309.2 1046.4,304 1063.8,300.9 1081.1,299 1098.4,298.7 1115.7,300.5 1133.1,303.6 1150.4,307.8 1167.7,312.7 1185,318.7 1202.4,328.5 1237,355.1 1254.3,367 1271.7,379 1289,392.3 1306.3,408.7 1323.6,428.9 1346.7,458 1358.3,473.8 1369.8,492.2 1381.4,520.8 1389.5,539.9 1392.9,544.8Z" fill="url(#g271)"/><path d="M1391.1,560.2 1387.7,554.4 1379.6,528.8 1373.8,509.5 1368,494.6 1356.5,475.5 1344.9,459.5 1321.8,430.2 1304.5,409.9 1287.2,393.3 1269.9,379.9 1252.5,367.8 1235.2,355.9 1200.6,329.2 1183.2,319.3 1165.9,313.4 1148.6,308.6 1131.3,304.4 1113.9,301.3 1096.6,299.6 1079.3,300 1062,302 1044.6,305.3 1027.3,310.6 1010,320.1 1010.8,319.3 1028.1,309.9 1045.5,304.7 1062.8,301.5 1080.1,299.6 1097.4,299.2 1114.8,301 1132.1,304 1149.4,308.2 1166.7,313.1 1184.1,319 1201.4,328.9 1236,355.5 1253.4,367.4 1270.7,379.5 1288,392.8 1305.3,409.3 1322.7,429.6 1345.8,458.8 1357.3,474.7 1368.9,493.4 1374.6,507.4 1380.4,524.8 1388.5,547.1 1392,552.4Z" fill="url(#g270)"/><path d="M1390.4,567.6 1386.9,561.3 1378.9,532.7 1373.1,511.4 1367.3,495.6 1355.8,476.2 1344.2,460.1 1321.1,430.7 1303.8,410.3 1286.5,393.7 1269.1,380.3 1251.8,368.2 1234.5,356.2 1199.8,329.5 1182.5,319.6 1165.2,313.7 1147.9,308.8 1130.5,304.7 1113.2,301.7 1095.9,300 1078.6,300.4 1061.2,302.5 1043.9,305.8 1026.6,311.2 1009.3,320.8 1010,320.1 1027.3,310.6 1044.6,305.3 1062,302 1079.3,300 1096.6,299.6 1113.9,301.3 1131.3,304.4 1148.6,308.6 1165.9,313.4 1183.2,319.3 1200.6,329.2 1235.2,355.9 1252.5,367.8 1269.9,379.9 1287.2,393.3 1304.5,409.9 1321.8,430.2 1344.9,459.5 1356.5,475.5 1368,494.6 1373.8,509.5 1379.6,528.8 1387.7,554.4 1391.1,560.2Z" fill="url(#g269)"/><path d="M1389.7,575.6 1386.2,568.8 1378.1,536.7 1372.4,513.4 1366.6,496.6 1355,476.8 1343.5,460.7 1320.4,431.2 1303.1,410.7 1285.7,394.1 1268.4,380.7 1251.1,368.5 1233.8,356.6 1199.1,329.7 1181.8,319.9 1164.5,314 1147.1,309.1 1129.8,305 1112.5,302 1095.2,300.3 1077.8,300.8 1060.5,303 1043.2,306.3 1025.9,311.8 1008.5,321.5 1009.3,320.8 1026.6,311.2 1043.9,305.8 1061.2,302.5 1078.6,300.4 1095.9,300 1113.2,301.7 1130.5,304.7 1147.9,308.8 1165.2,313.7 1182.5,319.6 1199.8,329.5 1234.5,356.2 1251.8,368.2 1269.1,380.3 1286.5,393.7 1303.8,410.3 1321.1,430.7 1344.2,460.1 1355.8,476.2 1367.3,495.6 1373.1,511.4 1378.9,532.7 1386.9,561.3 1390.4,567.6Z" fill="url(#g268)"/><path d="M1389,583.3 1385.6,576 1377.5,540.6 1371.7,515.3 1365.9,497.6 1354.4,477.5 1342.8,461.3 1319.7,431.7 1302.4,411.2 1285.1,394.5 1267.7,381 1250.4,368.9 1233.1,356.9 1198.4,330 1181.1,320.1 1163.8,314.2 1146.5,309.4 1129.1,305.3 1111.8,302.3 1094.5,300.7 1077.2,301.2 1059.8,303.4 1042.5,306.8 1043.2,306.3 1060.5,303 1077.8,300.8 1095.2,300.3 1112.5,302 1129.8,305 1147.1,309.1 1164.5,314 1181.8,319.9 1199.1,329.7 1233.8,356.6 1251.1,368.5 1268.4,380.7 1285.7,394.1 1303.1,410.7 1320.4,431.2 1343.5,460.7 1355,476.8 1366.6,496.6 1372.4,513.4 1378.1,536.7 1386.2,568.8 1389.7,575.6Z" fill="url(#g267)"/><path d="M1388.6,588.2 1385.1,580.7 1377,543.1 1371.3,516.5 1365.5,498.2 1353.9,477.8 1342.4,461.6 1319.3,432 1302,411.4 1284.6,394.7 1267.3,381.3 1250,369.1 1232.7,357.1 1198,330.2 1180.7,320.3 1163.4,314.4 1146,309.6 1128.7,305.5 1111.4,302.6 1094.1,300.9 1076.7,301.5 1059.4,303.7 1042.1,307.1 1024.8,312.7 1007.4,322.5 1007.9,322.1 1025.2,312.3 1042.5,306.8 1059.8,303.4 1077.2,301.2 1094.5,300.7 1111.8,302.3 1129.1,305.3 1146.5,309.4 1163.8,314.2 1181.1,320.1 1198.4,330 1233.1,356.9 1250.4,368.9 1267.7,381 1285.1,394.5 1302.4,411.2 1319.7,431.7 1342.8,461.3 1354.4,477.5 1365.9,497.6 1371.7,515.3 1377.5,540.6 1385.6,576 1389,583.3Z" fill="url(#g266)"/><path d="M1387.9,596 1384.5,588 1376.4,547 1370.6,518.4 1364.8,499.1 1353.3,478.4 1341.7,462.2 1318.6,432.5 1301.3,411.9 1284,395.2 1266.7,381.7 1249.3,369.5 1232,357.5 1197.4,330.5 1180,320.7 1162.7,314.8 1145.4,310 1128.1,305.9 1110.7,302.9 1093.4,301.3 1076.1,301.9 1058.8,304.1 1041.4,307.6 1042.1,307.1 1059.4,303.7 1076.7,301.5 1094.1,300.9 1111.4,302.6 1128.7,305.5 1146,309.6 1163.4,314.4 1180.7,320.3 1198,330.2 1232.7,357.1 1250,369.1 1267.3,381.3 1284.6,394.7 1302,411.4 1319.3,432 1342.4,461.6 1353.9,477.8 1365.5,498.2 1371.3,516.5 1377,543.1 1385.1,580.7 1388.6,588.2Z" fill="url(#g265)"/><path d="M1387.3,603.6 1383.8,595.1 1375.7,550.9 1370,520.2 1364.2,500.1 1352.6,479 1341.1,462.7 1318,432.9 1300.7,412.4 1283.3,395.6 1266,382.1 1248.7,369.9 1231.4,357.9 1196.7,330.9 1179.4,321 1162.1,315.1 1144.7,310.3 1127.4,306.3 1110.1,303.3 1092.8,301.7 1075.4,302.4 1058.1,304.6 1040.8,308.1 1023.5,313.7 1006.1,323.6 1006.8,323.1 1024.1,313.2 1041.4,307.6 1058.8,304.1 1076.1,301.9 1093.4,301.3 1110.7,302.9 1128.1,305.9 1145.4,310 1162.7,314.8 1180,320.7 1197.4,330.5 1232,357.5 1249.3,369.5 1266.7,381.7 1284,395.2 1301.3,411.9 1318.6,432.5 1341.7,462.2 1353.3,478.4 1364.8,499.1 1370.6,518.4 1376.4,547 1384.5,588 1387.9,596.0Z" fill="url(#g264)"/><path d="M1386.6,611.5 1383.1,602.5 1375,554.9 1369.2,522.1 1363.5,501.1 1351.9,479.7 1340.4,463.3 1317.3,433.5 1299.9,412.8 1282.6,396 1265.3,382.5 1248,370.3 1230.6,358.3 1196,331.3 1178.7,321.4 1161.3,315.5 1144,310.7 1126.7,306.7 1109.4,303.7 1092,302.2 1074.7,302.8 1057.4,305.1 1040.1,308.6 1022.7,314.3 1005.4,324.3 1006.1,323.6 1023.5,313.7 1040.8,308.1 1058.1,304.6 1075.4,302.4 1092.8,301.7 1110.1,303.3 1127.4,306.3 1144.7,310.3 1162.1,315.1 1179.4,321 1196.7,330.9 1231.4,357.9 1248.7,369.9 1266,382.1 1283.3,395.6 1300.7,412.4 1318,432.9 1341.1,462.7 1352.6,479 1364.2,500.1 1370,520.2 1375.7,550.9 1383.8,595.1 1387.3,603.6Z" fill="url(#g263)"/><path d="M1385.8,619.1 1382.3,609.6 1374.2,558.8 1368.4,524.1 1362.7,502.1 1351.1,480.4 1339.6,464 1316.5,434.1 1299.1,413.4 1281.8,396.6 1264.5,383 1247.2,370.8 1229.8,358.8 1195.2,331.7 1177.9,321.8 1160.5,315.9 1143.2,311.2 1125.9,307.1 1108.6,304.2 1091.2,302.6 1073.9,303.3 1056.6,305.6 1039.3,309.2 1021.9,315 1004.6,325 1005.4,324.3 1022.7,314.3 1040.1,308.6 1057.4,305.1 1074.7,302.8 1092,302.2 1109.4,303.7 1126.7,306.7 1144,310.7 1161.3,315.5 1178.7,321.4 1196,331.3 1230.6,358.3 1248,370.3 1265.3,382.5 1282.6,396 1299.9,412.8 1317.3,433.5 1340.4,463.3 1351.9,479.7 1363.5,501.1 1369.2,522.1 1375,554.9 1383.1,602.5 1386.6,611.5Z" fill="url(#g262)"/><path d="M1384.8,626.7 1381.3,616.8 1373.3,562.7 1367.5,526.1 1361.7,503.3 1350.2,481.2 1338.6,464.8 1315.5,434.8 1298.2,414 1280.9,397.2 1263.5,383.6 1246.2,371.4 1228.9,359.3 1194.2,332.2 1176.9,322.3 1159.6,316.4 1142.3,311.7 1124.9,307.6 1107.6,304.8 1090.3,303.2 1073,304 1055.6,306.3 1038.3,309.9 1039.3,309.2 1056.6,305.6 1073.9,303.3 1091.2,302.6 1108.6,304.2 1125.9,307.1 1143.2,311.2 1160.5,315.9 1177.9,321.8 1195.2,331.7 1229.8,358.8 1247.2,370.8 1264.5,383 1281.8,396.6 1299.1,413.4 1316.5,434.1 1339.6,464 1351.1,480.4 1362.7,502.1 1368.4,524.1 1374.2,558.8 1382.3,609.6 1385.8,619.1Z" fill="url(#g261)"/><path d="M1383,633.8 1379.5,623.5 1371.5,567 1365.7,528.8 1359.9,505.2 1348.4,482.8 1336.8,466.3 1313.7,436.1 1296.4,415.3 1279.1,398.3 1261.7,384.7 1244.4,372.4 1227.1,360.3 1192.4,333.1 1175.1,323.2 1157.8,317.4 1140.5,312.6 1123.1,308.6 1105.8,305.8 1088.5,304.3 1071.2,305.1 1053.8,307.6 1036.5,311.3 1019.2,317.2 1001.9,327.5 1003.7,325.9 1021,315.7 1038.3,309.9 1055.6,306.3 1073,304 1090.3,303.2 1107.6,304.8 1124.9,307.6 1142.3,311.7 1159.6,316.4 1176.9,322.3 1194.2,332.2 1228.9,359.3 1246.2,371.4 1263.5,383.6 1280.9,397.2 1298.2,414 1315.5,434.8 1338.6,464.8 1350.2,481.2 1361.7,503.3 1367.5,526.1 1373.3,562.7 1381.3,616.8 1384.8,626.7Z" fill="url(#g260)"/><path d="M1381,629.1 1377.5,619.3 1369.4,565.8 1363.6,529.5 1357.9,506.7 1346.3,484.5 1334.8,467.9 1311.7,437.7 1294.3,416.7 1277,399.7 1259.7,386.1 1242.4,373.8 1225,361.7 1190.4,334.4 1173.1,324.4 1155.7,318.6 1138.4,313.9 1121.1,309.9 1103.8,307.1 1086.4,305.7 1069.1,306.5 1051.8,309 1034.5,312.8 1036.5,311.3 1053.8,307.6 1071.2,305.1 1088.5,304.3 1105.8,305.8 1123.1,308.6 1140.5,312.6 1157.8,317.4 1175.1,323.2 1192.4,333.1 1227.1,360.3 1244.4,372.4 1261.7,384.7 1279.1,398.3 1296.4,415.3 1313.7,436.1 1336.8,466.3 1348.4,482.8 1359.9,505.2 1365.7,528.8 1371.5,567 1379.5,623.5 1383,633.8Z" fill="url(#g259)"/><path d="M1379.7,620.6 1376.2,611.4 1368.1,562.6 1362.4,529 1356.6,507.4 1345,485.6 1333.5,468.9 1310.4,438.6 1293.1,417.6 1275.7,400.6 1258.4,386.9 1241.1,374.6 1223.8,362.5 1189.1,335.1 1171.8,325.2 1154.5,319.4 1137.1,314.7 1119.8,310.7 1102.5,307.9 1085.2,306.5 1067.8,307.4 1050.5,309.9 1033.2,313.7 1034.5,312.8 1051.8,309 1069.1,306.5 1086.4,305.7 1103.8,307.1 1121.1,309.9 1138.4,313.9 1155.7,318.6 1173.1,324.4 1190.4,334.4 1225,361.7 1242.4,373.8 1259.7,386.1 1277,399.7 1294.3,416.7 1311.7,437.7 1334.8,467.9 1346.3,484.5 1357.9,506.7 1363.6,529.5 1369.4,565.8 1377.5,619.3 1381,629.1Z" fill="url(#g258)"/><path d="M1378.7,612.3 1375.3,603.7 1367.2,559.2 1361.4,528.3 1355.6,507.9 1344.1,486.4 1332.5,469.7 1309.4,439.3 1292.1,418.3 1274.8,401.3 1257.5,387.6 1240.1,375.2 1222.8,363.1 1188.2,335.7 1170.8,325.8 1153.5,320 1136.2,315.3 1118.9,311.3 1101.5,308.5 1084.2,307.2 1066.9,308.1 1049.6,310.6 1032.2,314.5 1033.2,313.7 1050.5,309.9 1067.8,307.4 1085.2,306.5 1102.5,307.9 1119.8,310.7 1137.1,314.7 1154.5,319.4 1171.8,325.2 1189.1,335.1 1223.8,362.5 1241.1,374.6 1258.4,386.9 1275.7,400.6 1293.1,417.6 1310.4,438.6 1333.5,468.9 1345,485.6 1356.6,507.4 1362.4,529 1368.1,562.6 1376.2,611.4 1379.7,620.6Z" fill="url(#g257)"/><path d="M1377.8,603.6 1374.4,595.7 1366.3,555.7 1360.5,527.5 1354.7,508.2 1343.2,487.1 1331.6,470.5 1308.5,440 1291.2,419 1273.9,401.9 1256.6,388.2 1239.2,375.8 1221.9,363.7 1187.3,336.3 1169.9,326.3 1152.6,320.5 1135.3,315.8 1118,311.9 1100.6,309.1 1083.3,307.7 1066,308.7 1048.7,311.3 1031.3,315.1 1032.2,314.5 1049.6,310.6 1066.9,308.1 1084.2,307.2 1101.5,308.5 1118.9,311.3 1136.2,315.3 1153.5,320 1170.8,325.8 1188.2,335.7 1222.8,363.1 1240.1,375.2 1257.5,387.6 1274.8,401.3 1292.1,418.3 1309.4,439.3 1332.5,469.7 1344.1,486.4 1355.6,507.9 1361.4,528.3 1367.2,559.2 1375.3,603.7 1378.7,612.3Z" fill="url(#g256)"/><path d="M1377,595.4 1373.5,588.1 1365.4,552.4 1359.7,526.7 1353.9,508.6 1342.3,487.8 1330.8,471.1 1307.7,440.6 1290.4,419.5 1273,402.4 1255.7,388.7 1238.4,376.4 1221.1,364.2 1186.4,336.8 1169.1,326.8 1151.8,321 1134.4,316.4 1117.1,312.4 1099.8,309.7 1082.5,308.3 1065.1,309.3 1047.8,311.9 1030.5,315.8 1031.3,315.1 1048.7,311.3 1066,308.7 1083.3,307.7 1100.6,309.1 1118,311.9 1135.3,315.8 1152.6,320.5 1169.9,326.3 1187.3,336.3 1221.9,363.7 1239.2,375.8 1256.6,388.2 1273.9,401.9 1291.2,419 1308.5,440 1331.6,470.5 1343.2,487.1 1354.7,508.2 1360.5,527.5 1366.3,555.7 1374.4,595.7 1377.8,603.6Z" fill="url(#g255)"/><path d="M1376.5,590.8 1373,583.8 1365,550.5 1359.2,526.2 1353.4,508.8 1341.9,488.2 1330.3,471.5 1307.2,441 1289.9,420 1272.6,402.8 1255.2,389.1 1237.9,376.8 1220.6,364.6 1185.9,337.2 1168.6,327.2 1151.3,321.4 1134,316.7 1116.6,312.8 1099.3,310.1 1082,308.7 1064.7,309.7 1047.3,312.3 1030,316.2 1030.5,315.8 1047.8,311.9 1065.1,309.3 1082.5,308.3 1099.8,309.7 1117.1,312.4 1134.4,316.4 1151.8,321 1169.1,326.8 1186.4,336.8 1221.1,364.2 1238.4,376.4 1255.7,388.7 1273,402.4 1290.4,419.5 1307.7,440.6 1330.8,471.1 1342.3,487.8 1353.9,508.6 1359.7,526.7 1365.4,552.4 1373.5,588.1 1377,595.4Z" fill="url(#g254)"/><path d="M1375.6,582.6 1372.1,576.3 1364.1,547.2 1358.3,525.5 1352.5,509.2 1341,489 1329.4,472.3 1306.3,441.8 1289,420.7 1271.7,403.6 1254.3,389.9 1237,377.5 1219.7,365.3 1185,337.9 1167.7,328 1150.4,322.1 1133.1,317.5 1115.7,313.5 1098.4,310.8 1081.1,309.5 1063.8,310.4 1046.4,313 1029.1,317 1030,316.2 1047.3,312.3 1064.7,309.7 1082,308.7 1099.3,310.1 1116.6,312.8 1134,316.7 1151.3,321.4 1168.6,327.2 1185.9,337.2 1220.6,364.6 1237.9,376.8 1255.2,389.1 1272.6,402.8 1289.9,420 1307.2,441 1330.3,471.5 1341.9,488.2 1353.4,508.8 1359.2,526.2 1365,550.5 1373,583.8 1376.5,590.8Z" fill="url(#g253)"/><path d="M1374.6,574.5 1371.1,568.7 1363,543.9 1357.3,524.8 1351.5,509.7 1339.9,489.9 1328.4,473.2 1305.3,442.7 1288,421.6 1270.6,404.4 1253.3,390.7 1236,378.4 1218.7,366.2 1184,338.8 1166.7,328.8 1149.4,323 1132,318.3 1114.7,314.4 1097.4,311.7 1080.1,310.3 1062.7,311.3 1045.4,313.9 1028.1,317.8 1029.1,317 1046.4,313 1063.8,310.4 1081.1,309.5 1098.4,310.8 1115.7,313.5 1133.1,317.5 1150.4,322.1 1167.7,328 1185,337.9 1219.7,365.3 1237,377.5 1254.3,389.9 1271.7,403.6 1289,420.7 1306.3,441.8 1329.4,472.3 1341,489 1352.5,509.2 1358.3,525.5 1364.1,547.2 1372.1,576.3 1375.6,582.6Z" fill="url(#g252)"/><path d="M1373.3,566 1369.8,560.9 1361.7,540.7 1350.2,510.4 1338.6,491 1327.1,474.3 1304,443.8 1286.6,422.7 1269.3,405.6 1252,391.8 1234.7,379.5 1217.3,367.3 1182.7,339.8 1165.4,329.9 1148,324.1 1130.7,319.4 1113.4,315.5 1096.1,312.7 1078.7,311.4 1061.4,312.4 1044.1,315 1026.8,318.9 1028.1,317.8 1045.4,313.9 1062.7,311.3 1080.1,310.3 1097.4,311.7 1114.7,314.4 1132,318.3 1149.4,323 1166.7,328.8 1184,338.8 1218.7,366.2 1236,378.4 1253.3,390.7 1270.6,404.4 1288,421.6 1305.3,442.7 1328.4,473.2 1339.9,489.9 1351.5,509.7 1357.3,524.8 1363,543.9 1371.1,568.7 1374.6,574.5Z" fill="url(#g251)"/><path d="M1371,557.2 1367.5,552.8 1359.4,537.7 1347.9,511.9 1336.3,493 1324.8,476.3 1301.7,445.7 1284.3,424.6 1267,407.5 1249.7,393.7 1232.4,381.4 1215,369.2 1180.4,341.7 1163.1,331.7 1145.7,325.9 1128.4,321.3 1111.1,317.4 1093.8,314.6 1076.4,313.3 1059.1,314.3 1041.8,316.9 1024.5,320.9 1026.8,318.9 1044.1,315 1061.4,312.4 1078.7,311.4 1096.1,312.7 1113.4,315.5 1130.7,319.4 1148,324.1 1165.4,329.9 1182.7,339.8 1217.3,367.3 1234.7,379.5 1252,391.8 1269.3,405.6 1286.6,422.7 1304,443.8 1327.1,474.3 1338.6,491 1350.2,510.4 1361.7,540.7 1369.8,560.9 1373.3,566.0Z" fill="url(#g250)"/><path d="M1369.9,555 1366.4,550.9 1358.3,537.2 1346.8,512.7 1335.2,493.9 1323.7,477.3 1300.6,446.8 1283.3,425.7 1265.9,408.6 1248.6,394.9 1231.3,382.5 1214,370.3 1179.3,342.9 1162,333 1144.7,327.1 1127.3,322.5 1110,318.5 1092.7,315.8 1075.4,314.4 1058,315.4 1040.7,318 1023.4,321.9 1024.5,320.9 1041.8,316.9 1059.1,314.3 1076.4,313.3 1093.8,314.6 1111.1,317.4 1128.4,321.3 1145.7,325.9 1163.1,331.7 1180.4,341.7 1215,369.2 1232.4,381.4 1249.7,393.7 1267,407.5 1284.3,424.6 1301.7,445.7 1324.8,476.3 1336.3,493 1347.9,511.9 1359.4,537.7 1367.5,552.8 1371,557.2Z" fill="url(#g249)"/><path d="M1365,554.2 1358,545.9 1353.4,539.1 1341.9,516.7 1330.3,498.4 1318.8,481.9 1295.7,451.6 1278.3,430.7 1261,413.7 1243.7,400.1 1226.4,387.8 1209,375.7 1174.4,348.4 1157.1,338.5 1139.7,332.6 1122.4,327.9 1105.1,323.9 1087.8,321.1 1070.4,319.7 1053.1,320.5 1035.8,323 1018.5,326.8 1023.4,321.9 1040.7,318 1058,315.4 1075.4,314.4 1092.7,315.8 1110,318.5 1127.3,322.5 1144.7,327.1 1162,333 1179.3,342.9 1214,370.3 1231.3,382.5 1248.6,394.9 1265.9,408.6 1283.3,425.7 1300.6,446.8 1323.7,477.3 1335.2,493.9 1346.8,512.7 1358.3,537.2 1366.4,550.9 1369.9,555.0Z" fill="url(#g248)"/><path d="M1363.4,555.1 1351.8,540.1 1340.3,518 1328.7,499.8 1317.2,483.3 1294.1,453.3 1276.8,432.4 1259.4,415.5 1242.1,401.9 1224.8,389.7 1207.5,377.6 1172.8,350.4 1155.5,340.5 1138.2,334.6 1120.8,329.9 1103.5,325.9 1086.2,323 1068.9,321.5 1051.5,322.3 1034.2,324.7 1016.9,328.4 1018.5,326.8 1035.8,323 1053.1,320.5 1070.4,319.7 1087.8,321.1 1105.1,323.9 1122.4,327.9 1139.7,332.6 1157.1,338.5 1174.4,348.4 1209,375.7 1226.4,387.8 1243.7,400.1 1261,413.7 1278.3,430.7 1295.7,451.6 1318.8,481.9 1330.3,498.4 1341.9,516.7 1353.4,539.1 1358,545.9 1365,554.2Z" fill="url(#g247)"/><path d="M1358.9,558.1 1347.4,543.4 1335.8,521.7 1324.3,503.8 1312.7,487.6 1289.6,457.9 1272.3,437.4 1255,420.7 1237.7,407.2 1220.3,395 1203,383 1168.4,356.1 1151,346.2 1133.7,340.3 1116.4,335.5 1099.1,331.4 1081.7,328.5 1064.4,326.8 1047.1,327.4 1029.8,329.6 1012.4,333 1016.9,328.4 1034.2,324.7 1051.5,322.3 1068.9,321.5 1086.2,323 1103.5,325.9 1120.8,329.9 1138.2,334.6 1155.5,340.5 1172.8,350.4 1207.5,377.6 1224.8,389.7 1242.1,401.9 1259.4,415.5 1276.8,432.4 1294.1,453.3 1317.2,483.3 1328.7,499.8 1340.3,518 1351.8,540.1 1363.4,555.1Z" fill="url(#g246)"/><path d="M1356.8,559.6 1345.2,545.1 1333.7,523.7 1322.1,505.9 1310.6,489.9 1287.5,460.5 1270.1,440.2 1252.8,423.6 1235.5,410.2 1218.2,398.1 1200.8,386.2 1166.2,359.4 1148.9,349.6 1131.5,343.6 1114.2,338.8 1096.9,334.6 1079.6,331.6 1062.2,329.9 1044.9,330.3 1027.6,332.4 1010.3,335.6 1012.4,333 1029.8,329.6 1047.1,327.4 1064.4,326.8 1081.7,328.5 1099.1,331.4 1116.4,335.5 1133.7,340.3 1151,346.2 1168.4,356.1 1203,383 1220.3,395 1237.7,407.2 1255,420.7 1272.3,437.4 1289.6,457.9 1312.7,487.6 1324.3,503.8 1335.8,521.7 1347.4,543.4 1358.9,558.1Z" fill="url(#g245)"/><path d="M1352.9,562.3 1341.4,548.1 1329.8,527.1 1318.3,509.7 1306.7,493.9 1283.6,465.1 1266.3,445.1 1249,428.8 1231.6,415.6 1214.3,403.6 1197,391.8 1162.3,365.3 1145,355.5 1127.7,349.6 1110.4,344.6 1093,340.3 1075.7,337.2 1058.4,335.3 1041.1,335.5 1023.7,337.3 1006.4,340.2 1010.3,335.6 1027.6,332.4 1044.9,330.3 1062.2,329.9 1079.6,331.6 1096.9,334.6 1114.2,338.8 1131.5,343.6 1148.9,349.6 1166.2,359.4 1200.8,386.2 1218.2,398.1 1235.5,410.2 1252.8,423.6 1270.1,440.2 1287.5,460.5 1310.6,489.9 1322.1,505.9 1333.7,523.7 1345.2,545.1 1356.8,559.6Z" fill="url(#g244)"/><path d="M1350.3,564.3 1338.7,550.3 1327.2,529.7 1315.6,512.6 1304.1,497.2 1281,468.8 1263.7,449.2 1246.3,433 1229,420 1211.7,408.1 1194.4,396.4 1159.7,370.2 1142.4,360.5 1125.1,354.4 1107.7,349.4 1090.4,345 1073.1,341.8 1055.8,339.7 1038.4,339.7 1021.1,341.2 1003.8,343.9 1006.4,340.2 1023.7,337.3 1041.1,335.5 1058.4,335.3 1075.7,337.2 1093,340.3 1110.4,344.6 1127.7,349.6 1145,355.5 1162.3,365.3 1197,391.8 1214.3,403.6 1231.6,415.6 1249,428.8 1266.3,445.1 1283.6,465.1 1306.7,493.9 1318.3,509.7 1329.8,527.1 1341.4,548.1 1352.9,562.3Z" fill="url(#g243)"/><path d="M1346.9,566.9 1335.4,553.2 1323.8,533.1 1312.3,516.4 1300.7,501.3 1277.6,473.5 1260.3,454.3 1243,438.4 1225.6,425.5 1208.3,413.8 1191,402.2 1156.3,376.4 1139,366.7 1121.7,360.6 1104.4,355.5 1087,351 1069.7,347.6 1073.1,341.8 1090.4,345 1107.7,349.4 1125.1,354.4 1142.4,360.5 1159.7,370.2 1194.4,396.4 1211.7,408.1 1229,420 1246.3,433 1263.7,449.2 1281,468.8 1304.1,497.2 1315.6,512.6 1327.2,529.7 1338.7,550.3 1350.3,564.3Z" fill="url(#g242)"/><path d="M1344.1,569.2 1332.6,555.7 1321,536.1 1309.5,519.7 1297.9,504.9 1274.8,477.6 1257.5,458.7 1240.2,443.1 1222.9,430.3 1205.5,418.7 1188.2,407.2 1153.6,381.7 1136.2,372.1 1118.9,365.9 1101.6,360.7 1084.3,356.2 1066.9,352.6 1069.7,347.6 1087,351 1104.4,355.5 1121.7,360.6 1139,366.7 1156.3,376.4 1191,402.2 1208.3,413.8 1225.6,425.5 1243,438.4 1260.3,454.3 1277.6,473.5 1300.7,501.3 1312.3,516.4 1323.8,533.1 1335.4,553.2 1346.9,566.9Z" fill="url(#g241)"/><path d="M1340.9,572 1329.3,558.8 1317.8,539.6 1306.2,523.6 1294.7,509.2 1271.6,482.5 1254.3,463.9 1236.9,448.6 1202.3,424.5 1185,413.1 1150.3,387.9 1133,378.4 1098.3,366.9 1081,362.2 1063.7,358.5 1066.9,352.6 1084.3,356.2 1101.6,360.7 1118.9,365.9 1136.2,372.1 1153.6,381.7 1188.2,407.2 1205.5,418.7 1222.9,430.3 1240.2,443.1 1257.5,458.7 1274.8,477.6 1297.9,504.9 1309.5,519.7 1321,536.1 1332.6,555.7 1344.1,569.2Z" fill="url(#g240)"/><path d="M1337.9,575 1326.4,561.9 1314.8,543 1303.3,527.3 1291.7,513.2 1268.6,487 1251.3,468.8 1234,453.7 1199.3,429.8 1182,418.6 1147.4,393.7 1130,384.2 1095.4,372.6 1078.1,367.8 1060.7,363.9 1063.7,358.5 1081,362.2 1098.3,366.9 1133,378.4 1150.3,387.9 1185,413.1 1202.3,424.5 1236.9,448.6 1254.3,463.9 1271.6,482.5 1294.7,509.2 1306.2,523.6 1317.8,539.6 1329.3,558.8 1340.9,572.0Z" fill="url(#g239)"/><path d="M1334.9,580.5 1331.4,577 1323.3,566.1 1311.8,546.6 1300.2,531.2 1288.7,517.3 1265.6,491.7 1248.3,473.8 1230.9,459 1196.3,435.4 1179,424.3 1144.3,399.7 1127,390.3 1092.3,378.5 1057.7,369.6 1060.7,363.9 1078.1,367.8 1095.4,372.6 1130,384.2 1147.4,393.7 1182,418.6 1199.3,429.8 1234,453.7 1251.3,468.8 1268.6,487 1291.7,513.2 1303.3,527.3 1314.8,543 1326.4,561.9 1337.9,575.0Z" fill="url(#g238)"/><path d="M1334.3,582.1 1330.9,578.6 1322.8,567.2 1311.2,547.3 1299.7,531.9 1288.1,518.1 1265,492.6 1247.7,474.8 1230.4,460 1195.7,436.4 1178.4,425.3 1143.8,400.8 1126.4,391.4 1127,390.3 1144.3,399.7 1179,424.3 1196.3,435.4 1230.9,459 1248.3,473.8 1265.6,491.7 1288.7,517.3 1300.2,531.2 1311.8,546.6 1323.3,566.1 1331.4,577 1334.9,580.5Z" fill="url(#g237)"/><path d="M1332.7,589.2 1329.2,585.4 1321.1,571.5 1309.6,549.6 1298,534.1 1286.5,520.5 1263.4,495.3 1246,477.7 1228.7,463 1194.1,439.7 1176.7,428.6 1142.1,404.3 1124.8,394.9 1126.4,391.4 1143.8,400.8 1178.4,425.3 1195.7,436.4 1230.4,460 1247.7,474.8 1265,492.6 1288.1,518.1 1299.7,531.9 1311.2,547.3 1322.8,567.2 1330.9,578.6 1334.3,582.1Z" fill="url(#g236)"/><path d="M1331.4,596.7 1328,592.4 1319.9,575.6 1314.1,562.4 1308.3,551.3 1296.8,535.7 1285.2,522.2 1262.1,497.2 1244.8,479.7 1227.5,465.2 1192.8,441.9 1194.1,439.7 1228.7,463 1246,477.7 1263.4,495.3 1286.5,520.5 1298,534.1 1309.6,549.6 1321.1,571.5 1329.2,585.4 1332.7,589.2Z" fill="url(#g235)"/><path d="M1330.5,604.2 1327,599.5 1318.9,579.7 1313.2,564.6 1307.4,552.7 1295.8,537 1284.3,523.6 1261.2,498.7 1243.9,481.4 1226.5,466.9 1191.9,443.8 1192.8,441.9 1227.5,465.2 1244.8,479.7 1262.1,497.2 1285.2,522.2 1296.8,535.7 1308.3,551.3 1314.1,562.4 1319.9,575.6 1328,592.4 1331.4,596.7Z" fill="url(#g234)"/><path d="M1329.6,611.7 1326.2,606.5 1318.1,583.6 1312.3,566.7 1306.5,554 1295,538.1 1283.4,524.7 1260.3,500.1 1243,482.9 1225.7,468.4 1191,445.4 1191.9,443.8 1226.5,466.9 1243.9,481.4 1261.2,498.7 1284.3,523.6 1295.8,537 1307.4,552.7 1313.2,564.6 1318.9,579.7 1327,599.5 1330.5,604.2Z" fill="url(#g233)"/><path d="M1328.9,619 1325.4,613.4 1317.3,587.4 1311.5,568.7 1305.8,555.2 1294.2,539.1 1282.7,525.9 1259.6,501.3 1242.2,484.2 1224.9,469.9 1190.3,446.9 1191,445.4 1225.7,468.4 1243,482.9 1260.3,500.1 1283.4,524.7 1295,538.1 1306.5,554 1312.3,566.7 1318.1,583.6 1326.2,606.5 1329.6,611.7Z" fill="url(#g232)"/><path d="M1328.6,621.9 1325.1,616.1 1317,588.9 1311.2,569.5 1305.5,555.7 1293.9,539.5 1282.4,526.3 1259.3,501.8 1241.9,484.7 1224.6,470.4 1190,447.4 1190.3,446.9 1224.9,469.9 1242.2,484.2 1259.6,501.3 1282.7,525.9 1294.2,539.1 1305.8,555.2 1311.5,568.7 1317.3,587.4 1325.4,613.4 1328.9,619.0Z" fill="url(#g231)"/><path d="M1327.7,629.7 1324.3,623.5 1316.2,593 1310.4,571.6 1304.6,557.1 1293.1,540.7 1281.5,527.5 1258.4,503.2 1241.1,486.2 1223.8,471.9 1189.1,449 1190,447.4 1224.6,470.4 1241.9,484.7 1259.3,501.8 1282.4,526.3 1293.9,539.5 1305.5,555.7 1311.2,569.5 1317,588.9 1325.1,616.1 1328.6,621.9Z" fill="url(#g230)"/><path d="M1326.8,637 1323.3,630.4 1315.3,596.9 1309.5,573.8 1303.7,558.4 1292.2,541.9 1280.6,528.8 1257.5,504.6 1240.2,487.7 1222.9,473.5 1188.2,450.7 1189.1,449 1223.8,471.9 1241.1,486.2 1258.4,503.2 1281.5,527.5 1293.1,540.7 1304.6,557.1 1310.4,571.6 1316.2,593 1324.3,623.5 1327.7,629.7Z" fill="url(#g229)"/><path d="M1325.6,644.3 1322.1,637.3 1314,601 1308.2,576.3 1302.5,560.3 1290.9,543.6 1279.4,530.6 1256.3,506.7 1238.9,489.9 1221.6,475.8 1187,453.1 1188.2,450.7 1222.9,473.5 1240.2,487.7 1257.5,504.6 1280.6,528.8 1292.2,541.9 1303.7,558.4 1309.5,573.8 1315.3,596.9 1323.3,630.4 1326.8,637.0Z" fill="url(#g228)"/><path d="M1322.8,643.1 1319.4,636.4 1311.3,602.2 1305.5,578.7 1299.7,563.4 1288.2,547.2 1253.5,511 1236.2,494.6 1218.9,480.7 1184.2,458.3 1187,453.1 1221.6,475.8 1238.9,489.9 1256.3,506.7 1279.4,530.6 1290.9,543.6 1302.5,560.3 1308.2,576.3 1314,601 1322.1,637.3 1325.6,644.3Z" fill="url(#g227)"/><path d="M1322.2,640 1318.8,633.6 1310.7,601.1 1304.9,578.8 1299.1,564 1287.6,548 1252.9,512 1235.6,495.6 1218.3,481.7 1183.6,459.3 1184.2,458.3 1218.9,480.7 1236.2,494.6 1253.5,511 1288.2,547.2 1299.7,563.4 1305.5,578.7 1311.3,602.2 1319.4,636.4 1322.8,643.1Z" fill="url(#g226)"/><path d="M1321,631.5 1317.5,625.8 1309.4,598.1 1303.7,578.6 1297.9,565.1 1286.3,549.7 1251.7,513.9 1234.4,497.6 1217,483.9 1182.4,461.6 1183.6,459.3 1218.3,481.7 1235.6,495.6 1252.9,512 1287.6,548 1299.1,564 1304.9,578.8 1310.7,601.1 1318.8,633.6 1322.2,640.0Z" fill="url(#g225)"/><path d="M1319.8,623 1316.4,617.9 1308.3,594.9 1302.5,578.2 1296.7,566.1 1285.2,551.2 1250.5,515.7 1233.2,499.5 1215.9,485.9 1181.2,463.6 1182.4,461.6 1217,483.9 1234.4,497.6 1251.7,513.9 1286.3,549.7 1297.9,565.1 1303.7,578.6 1309.4,598.1 1317.5,625.8 1321,631.5Z" fill="url(#g224)"/><path d="M1318.6,614.4 1315.1,610 1307,591.7 1301.2,578 1295.5,567.2 1283.9,552.9 1249.3,517.7 1231.9,501.6 1214.6,488 1180,465.9 1181.2,463.6 1215.9,485.9 1233.2,499.5 1250.5,515.7 1285.2,551.2 1296.7,566.1 1302.5,578.2 1308.3,594.9 1316.4,617.9 1319.8,623.0Z" fill="url(#g223)"/><path d="M1316.8,605.9 1313.4,602.2 1305.3,588.9 1293.7,568.9 1282.2,555.2 1247.5,520.4 1230.2,504.5 1212.9,491 1178.2,469 1180,465.9 1214.6,488 1231.9,501.6 1249.3,517.7 1283.9,552.9 1295.5,567.2 1301.2,578 1307,591.7 1315.1,610 1318.6,614.4Z" fill="url(#g222)"/><path d="M1313.9,600.6 1302.4,588.4 1290.8,572.2 1279.3,559.1 1244.6,525 1227.3,509.5 1210,496.2 1175.3,474.4 1178.2,469 1212.9,491 1230.2,504.5 1247.5,520.4 1282.2,555.2 1293.7,568.9 1305.3,588.9 1313.4,602.2 1316.8,605.9Z" fill="url(#g221)"/><path d="M1310.8,601.8 1299.3,590.9 1287.7,576 1276.2,563.3 1241.5,530.1 1224.2,514.8 1206.9,501.8 1172.2,480.3 1175.3,474.4 1210,496.2 1227.3,509.5 1244.6,525 1279.3,559.1 1290.8,572.2 1302.4,588.4 1313.9,600.6Z" fill="url(#g220)"/><path d="M1307.9,604.4 1296.3,593.9 1284.8,579.5 1273.2,567.3 1238.6,534.9 1221.2,520 1203.9,507.2 1169.3,486 1172.2,480.3 1206.9,501.8 1224.2,514.8 1241.5,530.1 1276.2,563.3 1287.7,576 1299.3,590.9 1310.8,601.8Z" fill="url(#g219)"/><path d="M1304.8,607.3 1293.2,597.1 1281.7,583.2 1270.1,571.3 1235.5,539.8 1238.6,534.9 1273.2,567.3 1284.8,579.5 1296.3,593.9 1307.9,604.4Z" fill="url(#g218)"/><path d="M1303.4,608.8 1291.8,598.9 1280.3,585.4 1268.7,573.8 1270.1,571.3 1281.7,583.2 1293.2,597.1 1304.8,607.3Z" fill="#0fb4d0"/><path d="M1301.1,611.3 1289.5,601.7 1278,588.9 1266.4,577.7 1268.7,573.8 1280.3,585.4 1291.8,598.9 1303.4,608.8Z" fill="#0fb3d2"/><path d="M1298.8,613.9 1287.2,604.6 1275.7,592.3 1264.1,581.6 1266.4,577.7 1278,588.9 1289.5,601.7 1301.1,611.3Z" fill="#10b2d4"/><path d="M1298.5,614.3 1287,605.1 1275.4,593.1 1263.9,582.6 1264.1,581.6 1275.7,592.3 1287.2,604.6 1298.8,613.9Z" fill="#11b2d5"/><path d="M1297.6,616 1286,607.3 1274.5,596.1 1262.9,586.2 1263.9,582.6 1275.4,593.1 1287,605.1 1298.5,614.3Z" fill="#12b1d5"/><path d="M1296.6,617.7 1285.1,609.5 1262,589.8 1262.9,586.2 1274.5,596.1 1286,607.3 1297.6,616.0Z" fill="#13b0d7"/><path d="M1295.7,619.4 1284.1,611.7 1261,593.4 1262,589.8 1285.1,609.5 1296.6,617.7Z" fill="#13afd8"/><path d="M1294.7,621.1 1283.1,613.9 1260,597.1 1261,593.4 1284.1,611.7 1295.7,619.4Z" fill="#14add9"/><path d="M1293.7,622.9 1282.2,616 1259.1,600.7 1260,597.1 1283.1,613.9 1294.7,621.1Z" fill="#15acda"/><path d="M1292.8,624.6 1281.2,618.2 1258.1,604.3 1259.1,600.7 1282.2,616 1293.7,622.9Z" fill="#16abdc"/><path d="M1292.6,628.6 1281.1,622.3 1281.2,618.2 1292.8,624.6Z" fill="#18a8de"/><path d="M1292.4,636.7 1280.9,630.4 1281.1,622.3 1292.6,628.6Z" fill="#1ba4e1"/><path d="M1292.2,644.8 1280.6,638.6 1280.9,630.4 1292.4,636.7Z" fill="#1f9fe5"/><path d="M1291.9,652.9 1280.4,646.7 1280.6,638.6 1292.2,644.8Z" fill="#239ae9"/><path d="M1291.7,661 1280.1,654.8 1280.4,646.7 1291.9,652.9Z" fill="#2695ed"/><path d="M1291.4,669.1 1279.9,663 1280.1,654.8 1291.7,661.0Z" fill="#298ff1"/><path d="M1291.2,677.1 1279.6,671.1 1279.9,663 1291.4,669.1Z" fill="#2c8af5"/><path d="M1291,685.2 1279.4,679.2 1279.6,671.1 1291.2,677.1Z" fill="#2f84f8"/><path d="M1290.7,693.3 1279.2,687.4 1279.4,679.2 1291,685.2Z" fill="#327efb"/><path d="M1290.5,701.4 1278.9,695.5 1279.2,687.4 1290.7,693.3Z" fill="#3677fd"/><path d="M1290.2,709.5 1278.7,703.6 1278.9,695.5 1290.5,701.4Z" fill="#3b70fd"/><path d="M1290,717.6 1278.4,711.8 1278.7,703.6 1290.2,709.5Z" fill="#406afc"/><path d="M1289.8,725.7 1278.2,719.9 1278.4,711.8 1290,717.6Z" fill="#4563fc"/><path d="M1289.5,733.8 1278,728 1278.2,719.9 1289.8,725.7Z" fill="#465df9"/><path d="M1289.3,741.9 1277.7,736.2 1278,728 1289.5,733.8Z" fill="#4756f6"/><path d="M1289,750 1277.5,744.3 1277.7,736.2 1289.3,741.9Z" fill="#4750f2"/><path d="M1288.8,758 1277.2,752.4 1277.5,744.3 1289,750.0Z" fill="#474aed"/><path d="M1288.6,766.1 1277,760.6 1277.2,752.4 1288.8,758.0Z" fill="#4744e5"/><path d="M1288.3,774.2 1276.8,768.7 1277,760.6 1288.6,766.1Z" fill="#463ede"/><path d="M1288.1,782.3 1276.5,776.8 1276.8,768.7 1288.3,774.2Z" fill="#4538d6"/><path d="M1287.8,790.4 1276.3,785 1276.5,776.8 1288.1,782.3Z" fill="#4333ca"/><path d="M1287.6,798.5 1276,793.1 1276.3,785 1287.8,790.4Z" fill="#412ebe"/><path d="M1287.3,806.6 1275.8,801.2 1276,793.1 1287.6,798.5Z" fill="#3f2ab1"/><path d="M1287,808.5 1275.5,803.2 1275.8,801.2 1287.3,806.6Z" fill="#3e26a8"/><path d="M1286.7,808.6 1275.2,803.3 1275.5,803.2 1287,808.5Z" fill="#3e26a8"/><path d="M1251.9,792.9 1240.3,787.6 1228.8,778.9 1217.2,768.2 1147.9,707.6 1130.6,692.5 1113.3,682.3 1078.6,666.6 1078.8,673.1 1113.5,688.9 1130.8,699.2 1148.1,714.6 1217.4,776.8 1252.1,792.8Z" fill="url(#g182)"/><path d="M1286.3,806.9 1274.7,801.8 1251.6,791.9 1217,759.6 1147.7,700.5 1130.3,685.8 1113,675.7 1078.4,660.1 1078.6,666.6 1113.3,682.3 1130.6,692.5 1147.9,707.6 1217.2,768.2 1228.8,778.9 1240.3,787.6 1251.9,792.9 1275,803.4 1286.5,808.6Z" fill="url(#g181)"/><path d="M1286,796.9 1274.5,791.9 1251.4,782.2 1216.7,751 1147.4,693.4 1130.1,679 1112.8,669.1 1078.1,653.6 1078.4,660.1 1113,675.7 1130.3,685.8 1147.7,700.5 1217,759.6 1251.6,791.9 1274.7,801.8 1286.3,806.9Z" fill="url(#g180)"/><path d="M1285.8,786.9 1274.2,782 1251.1,772.6 1216.5,742.4 1147.2,686.4 1129.9,672.3 1112.5,662.5 1077.9,647.1 1078.1,653.6 1112.8,669.1 1130.1,679 1147.4,693.4 1216.7,751 1251.4,782.2 1274.5,791.9 1286,796.9Z" fill="url(#g179)"/><path d="M1285.5,777 1274,772.2 1250.9,763 1216.2,733.8 1146.9,679.3 1129.6,665.6 1112.3,656 1077.6,640.6 1077.9,647.1 1112.5,662.5 1129.9,672.3 1147.2,686.4 1216.5,742.4 1251.1,772.6 1274.2,782 1285.8,786.9Z" fill="url(#g178)"/><path d="M1285.3,767 1273.8,762.3 1250.7,753.4 1216,725.3 1146.7,672.2 1129.4,658.9 1112.1,649.4 1077.4,634.1 1077.6,640.6 1112.3,656 1129.6,665.6 1146.9,679.3 1216.2,733.8 1250.9,763 1274,772.2 1285.5,777.0Z" fill="url(#g177)"/><path d="M1285.1,757 1273.5,752.4 1250.4,743.8 1215.8,716.7 1146.5,665.2 1129.1,652.1 1111.8,642.8 1077.2,627.6 1077.4,634.1 1112.1,649.4 1129.4,658.9 1146.7,672.2 1216,725.3 1250.7,753.4 1273.8,762.3 1285.3,767.0Z" fill="url(#g176)"/><path d="M1284.8,747.1 1273.3,742.5 1250.2,734.2 1215.5,708.1 1146.2,658.1 1128.9,645.4 1111.6,636.2 1076.9,621.1 1077.2,627.6 1111.8,642.8 1129.1,652.1 1146.5,665.2 1215.8,716.7 1250.4,743.8 1273.5,752.4 1285.1,757.0Z" fill="url(#g175)"/><path d="M1284.6,737.1 1273,732.6 1249.9,724.6 1215.3,699.5 1146,651 1128.7,638.7 1111.3,629.7 1076.7,614.6 1076.9,621.1 1111.6,636.2 1128.9,645.4 1146.2,658.1 1215.5,708.1 1250.2,734.2 1273.3,742.5 1284.8,747.1Z" fill="url(#g174)"/><path d="M1284.3,727.1 1272.8,722.8 1249.7,715 1215,690.9 1145.7,644 1128.4,632 1111.1,623.1 1076.4,608.1 1076.7,614.6 1111.3,629.7 1128.7,638.7 1146,651 1215.3,699.5 1249.9,724.6 1273,732.6 1284.6,737.1Z" fill="url(#g173)"/><path d="M1284.1,717.2 1272.6,712.9 1249.5,705.4 1214.8,682.3 1145.5,636.9 1128.2,625.2 1110.9,616.5 1076.2,601.6 1076.4,608.1 1111.1,623.1 1128.4,632 1145.7,644 1215,690.9 1249.7,715 1272.8,722.8 1284.3,727.1Z" fill="url(#g172)"/><path d="M1283.9,707.2 1272.3,703 1249.2,695.8 1214.6,673.7 1145.3,629.8 1127.9,618.5 1110.6,609.9 1076,595.1 1076.2,601.6 1110.9,616.5 1128.2,625.2 1145.5,636.9 1214.8,682.3 1249.5,705.4 1272.6,712.9 1284.1,717.2Z" fill="#3a71fc"/><path d="M1283.6,697.2 1272.1,693.1 1249,686.2 1214.3,665.2 1179.7,644.5 1145,622.8 1127.7,611.8 1110.4,603.4 1075.7,588.6 1076,595.1 1110.6,609.9 1127.9,618.5 1145.3,629.8 1214.6,673.7 1249.2,695.8 1272.3,703 1283.9,707.2Z" fill="#3578fc"/><path d="M1283.4,687.3 1271.8,683.2 1248.7,676.5 1214.1,656.6 1179.4,636.8 1144.8,615.7 1127.5,605.1 1110.1,596.8 1075.5,582.1 1075.7,588.6 1110.4,603.4 1127.7,611.8 1145,622.8 1179.7,644.5 1214.3,665.2 1249,686.2 1272.1,693.1 1283.6,697.2Z" fill="#317ffa"/><path d="M1283.1,677.3 1271.6,673.4 1248.5,666.9 1213.8,648 1179.2,629 1144.5,608.6 1127.2,598.3 1109.9,590.2 1075.2,575.6 1075.5,582.1 1110.1,596.8 1127.5,605.1 1144.8,615.7 1179.4,636.8 1214.1,656.6 1248.7,676.5 1271.8,683.2 1283.4,687.3Z" fill="#2e86f7"/><path d="M1282.9,667.3 1271.3,663.5 1248.2,657.3 1213.6,639.4 1178.9,621.2 1144.3,601.6 1127,591.6 1075,569.1 1075.2,575.6 1109.9,590.2 1127.2,598.3 1144.5,608.6 1179.2,629 1213.8,648 1248.5,666.9 1271.6,673.4 1283.1,677.3Z" fill="#2b8cf3"/><path d="M1282.7,657.3 1271.1,653.6 1248,647.7 1213.4,630.8 1178.7,613.5 1144.1,594.5 1126.7,584.9 1074.8,562.6 1075,569.1 1127,591.6 1144.3,601.6 1178.9,621.2 1213.6,639.4 1248.2,657.3 1271.3,663.5 1282.9,667.3Z" fill="#2892ef"/><path d="M1282.4,647.4 1270.9,643.7 1247.8,638.1 1213.1,622.2 1178.5,605.7 1143.8,587.4 1126.5,578.2 1074.5,556.1 1074.8,562.6 1126.7,584.9 1144.1,594.5 1178.7,613.5 1213.4,630.8 1248,647.7 1271.1,653.6 1282.7,657.3Z" fill="#2597eb"/><path d="M1282.2,637.4 1270.6,633.8 1247.5,628.5 1212.9,613.6 1178.2,598 1143.6,580.4 1126.3,571.4 1074.3,549.6 1074.5,556.1 1126.5,578.2 1143.8,587.4 1178.5,605.7 1213.1,622.2 1247.8,638.1 1270.9,643.7 1282.4,647.4Z" fill="#219de7"/><path d="M1281.9,627.4 1270.4,624 1247.3,618.9 1212.6,605.1 1178,590.2 1143.3,573.3 1126,564.7 1074,543.1 1074.3,549.6 1126.3,571.4 1143.6,580.4 1178.2,598 1212.9,613.6 1247.5,628.5 1270.6,633.8 1282.2,637.4Z" fill="#1da2e2"/><path d="M1281.7,617.5 1270.1,614.1 1247,609.3 1212.4,596.5 1177.7,582.4 1143.1,566.2 1125.8,558 1073.8,536.5 1074,543.1 1126,564.7 1143.3,573.3 1178,590.2 1212.6,605.1 1247.3,618.9 1270.4,624 1281.9,627.4Z" fill="#19a7de"/><path d="M1281.5,607.5 1269.9,604.2 1246.8,599.7 1212.2,587.9 1177.5,574.7 1142.9,559.2 1125.5,551.2 1073.6,530 1073.8,536.5 1125.8,558 1143.1,566.2 1177.7,582.4 1212.4,596.5 1247,609.3 1270.1,614.1 1281.7,617.5Z" fill="#15adda"/><path d="M1281.2,597.5 1269.7,594.3 1246.6,590.1 1211.9,579.3 1177.3,566.9 1142.6,552.1 1073.3,523.5 1073.6,530 1125.5,551.2 1142.9,559.2 1177.5,574.7 1212.2,587.9 1246.8,599.7 1269.9,604.2 1281.5,607.5Z" fill="#11b1d4"/><path d="M1281,587.6 1269.4,584.4 1246.3,580.5 1211.7,570.7 1177,559.2 1142.4,545 1073.1,517 1073.3,523.5 1142.6,552.1 1177.3,566.9 1211.9,579.3 1246.6,590.1 1269.7,594.3 1281.2,597.5Z" fill="#0eb5ce"/><path d="M1280.7,577.6 1269.2,574.5 1246.1,570.9 1211.4,562.1 1176.8,551.4 1142.1,538 1090.2,517.9 1072.8,510.5 1073.1,517 1142.4,545 1177,559.2 1211.7,570.7 1246.3,580.5 1269.4,584.4 1281,587.6Z" fill="#0eb9c7"/><path d="M1280.7,577.5 1269.1,574.4 1246,570.6 1211.4,561.7 1176.7,550.9 1142.1,537.5 1090.1,517.4 1072.8,510 1072.8,510.5 1090.2,517.9 1142.1,538 1176.8,551.4 1211.4,562.1 1246.1,570.9 1269.2,574.5 1280.7,577.6Z" fill="url(#g157)"/><path d="M1279.8,575.8 1268.3,572.1 1245.2,566.5 1210.5,556.1 1175.9,544.2 1141.2,530.3 1071.9,501.9 1072.8,510 1090.1,517.4 1142.1,537.5 1176.7,550.9 1211.4,561.7 1246,570.6 1269.1,574.4 1280.7,577.5Z" fill="#0fbbc1"/><path d="M1279,574.1 1267.4,569.8 1244.3,562.6 1209.7,550.7 1175,537.6 1140.4,523.2 1071.1,493.8 1071.9,501.9 1141.2,530.3 1175.9,544.2 1210.5,556.1 1245.2,566.5 1268.3,572.1 1279.8,575.8Z" fill="#12bdbb"/><path d="M1278.1,572.4 1266.6,567.7 1243.5,558.9 1208.8,545.3 1139.5,516.1 1070.2,485.7 1071.1,493.8 1140.4,523.2 1175,537.6 1209.7,550.7 1244.3,562.6 1267.4,569.8 1279,574.1Z" fill="#16bfb6"/><path d="M1277.3,570.7 1265.8,565.6 1242.7,555.4 1208,540 1138.7,508.9 1069.4,477.7 1070.2,485.7 1139.5,516.1 1208.8,545.3 1243.5,558.9 1266.6,567.7 1278.1,572.4Z" fill="#1cc1b1"/><path d="M1276.5,569 1264.9,563.5 1241.8,552 1207.2,534.8 1137.9,501.8 1068.6,469.6 1069.4,477.7 1138.7,508.9 1208,540 1242.7,555.4 1265.8,565.6 1277.3,570.7Z" fill="#22c3ab"/><path d="M1275.6,567.3 1264.1,561.5 1241,548.7 1206.3,529.8 1171.7,511.7 1137,494.7 1067.7,461.5 1068.6,469.6 1137.9,501.8 1207.2,534.8 1241.8,552 1264.9,563.5 1276.5,569.0Z" fill="#27c4a6"/><path d="M1274.7,565.5 1263.2,559.5 1240.1,545.4 1205.4,524.4 1170.8,504.9 1136.1,487.1 1066.8,452.9 1067.7,461.5 1137,494.7 1171.7,511.7 1206.3,529.8 1241,548.7 1264.1,561.5 1275.6,567.3Z" fill="#2ec6a0"/><path d="M1271.8,561.9 1260.2,556 1237.1,541.6 1202.5,518.8 1205.4,524.4 1240.1,545.4 1263.2,559.5 1274.7,565.5Z" fill="#2dc6a1"/><path d="M1268.7,558.2 1257.2,552.7 1234.1,538 1237.1,541.6 1260.2,556 1271.8,561.9Z" fill="#30c69e"/><path d="M1262.7,552.8 1251.1,548.3 1239.6,542.7 1228,535.1 1234.1,538 1257.2,552.7 1268.7,558.2Z" fill="#36c898"/><path d="M1256.7,548.2 1245.1,544.4 1233.6,539.9 1222,533 1228,535.1 1239.6,542.7 1251.1,548.3 1262.7,552.8Z" fill="#3ec991"/><path d="M1250.7,544.6 1239.1,540.6 1227.6,536.4 1216,530.3 1222,533 1233.6,539.9 1245.1,544.4 1256.7,548.2Z" fill="#47c98a"/><path d="M1248.1,543.3 1236.6,538.9 1225,534.5 1213.5,528.7 1178.8,509.7 1181.4,509 1216,530.3 1227.6,536.4 1239.1,540.6 1250.7,544.6Z" fill="#4eca83"/><path d="M1244.6,541.6 1233.1,536.3 1210,525.9 1175.3,510.1 1178.8,509.7 1213.5,528.7 1225,534.5 1236.6,538.9 1248.1,543.3Z" fill="#52cb80"/><path d="M1238.6,534.1 1227.1,528.8 1204,518.3 1169.3,502.6 1100,471.1 1106,478.7 1175.3,510.1 1210,525.9 1233.1,536.3 1244.6,541.6Z" fill="#5ccb77"/><path d="M1238.1,532 1226.5,527.2 1203.4,516.9 1168.8,499.7 1099.5,466.1 1100,471.1 1169.3,502.6 1204,518.3 1227.1,528.8 1238.6,534.1Z" fill="#66cc6e"/><path d="M1237.3,528.9 1225.7,524.8 1214.2,520.6 1202.6,514.9 1168,495.4 1098.7,458.7 1099.5,466.1 1168.8,499.7 1203.4,516.9 1226.5,527.2 1238.1,532.0Z" fill="#6dcc69"/><path d="M1236.5,525.9 1225,522.4 1213.4,518.8 1201.9,512.8 1167.2,491.2 1132.6,470.7 1097.9,451.4 1098.7,458.7 1168,495.4 1202.6,514.9 1214.2,520.6 1225.7,524.8 1237.3,528.9Z" fill="url(#g139)"/><path d="M1235.7,522.8 1224.2,520 1212.6,517 1201.1,510.8 1166.4,486.9 1131.8,464.7 1097.1,444.1 1097.9,451.4 1132.6,470.7 1167.2,491.2 1201.9,512.8 1213.4,518.8 1225,522.4 1236.5,525.9Z" fill="url(#g138)"/><path d="M1235,519.7 1223.4,517.6 1211.9,515.2 1200.3,508.7 1165.7,482.7 1131,458.7 1096.4,436.8 1097.1,444.1 1131.8,464.7 1166.4,486.9 1201.1,510.8 1212.6,517 1224.2,520 1235.7,522.8Z" fill="url(#g137)"/><path d="M1234.2,516.7 1222.6,515.2 1211.1,513.4 1199.5,506.6 1164.9,478.4 1130.2,452.7 1112.9,440.5 1095.6,429.4 1096.4,436.8 1131,458.7 1165.7,482.7 1200.3,508.7 1211.9,515.2 1223.4,517.6 1235,519.7Z" fill="url(#g136)"/><path d="M1233.4,513.6 1221.8,512.8 1210.3,511.6 1198.7,504.6 1164.1,474.2 1129.4,446.7 1112.1,433.7 1094.8,422.1 1095.6,429.4 1112.9,440.5 1130.2,452.7 1164.9,478.4 1199.5,506.6 1211.1,513.4 1222.6,515.2 1234.2,516.7Z" fill="url(#g135)"/><path d="M1232.6,510.6 1221.1,510.4 1209.5,509.8 1198,502.5 1163.3,469.9 1128.7,440.7 1111.3,426.9 1094,414.8 1094.8,422.1 1112.1,433.7 1129.4,446.7 1164.1,474.2 1198.7,504.6 1210.3,511.6 1221.8,512.8 1233.4,513.6Z" fill="url(#g134)"/><path d="M1231.3,506.2 1219.7,506.4 1208.2,506.2 1196.6,498.7 1162,464.9 1127.3,434.7 1110,420.5 1092.7,408.1 1094,414.8 1111.3,426.9 1128.7,440.7 1163.3,469.9 1198,502.5 1209.5,509.8 1221.1,510.4 1232.6,510.6Z" fill="url(#g133)"/><path d="M1229.7,501.1 1218.2,501.7 1206.6,501.9 1195.1,494.2 1160.4,458.9 1125.8,427.6 1108.4,412.9 1091.1,400.1 1092.7,408.1 1110,420.5 1127.3,434.7 1162,464.9 1196.6,498.7 1208.2,506.2 1219.7,506.4 1231.3,506.2Z" fill="url(#g132)"/><path d="M1228.2,495.9 1216.6,497 1205.1,497.5 1193.5,489.7 1158.9,453 1124.2,420.5 1106.9,405.3 1089.6,392.1 1091.1,400.1 1108.4,412.9 1125.8,427.6 1160.4,458.9 1195.1,494.2 1206.6,501.9 1218.2,501.7 1229.7,501.1Z" fill="url(#g131)"/><path d="M1226.6,490.8 1215,492.3 1203.5,493.2 1191.9,485.2 1157.3,447 1122.6,413.4 1105.3,397.7 1088,384.1 1089.6,392.1 1106.9,405.3 1124.2,420.5 1158.9,453 1193.5,489.7 1205.1,497.5 1216.6,497 1228.2,495.9Z" fill="url(#g130)"/><path d="M1224.6,486 1213.1,487.5 1201.5,488.5 1190,480.5 1155.3,442.3 1120.7,408.6 1103.3,392.9 1086,379.4 1088,384.1 1105.3,397.7 1122.6,413.4 1157.3,447 1191.9,485.2 1203.5,493.2 1215,492.3 1226.6,490.8Z" fill="url(#g129)"/><path d="M1220.6,476.4 1209,477.9 1197.5,478.9 1185.9,470.9 1151.3,432.7 1116.6,399 1099.3,383.3 1082,369.8 1086,379.4 1103.3,392.9 1120.7,408.6 1155.3,442.3 1190,480.5 1201.5,488.5 1213.1,487.5 1224.6,486.0Z" fill="url(#g128)"/><path d="M1218.6,472 1207,473.5 1195.5,474.5 1183.9,466.5 1149.3,428.2 1151.3,432.7 1185.9,470.9 1197.5,478.9 1209,477.9 1220.6,476.4Z" fill="url(#g127)"/><path d="M1214.6,462.9 1203,464.6 1191.5,465.6 1179.9,457.6 1145.3,419 1149.3,428.2 1183.9,466.5 1195.5,474.5 1207,473.5 1218.6,472.0Z" fill="url(#g126)"/><path d="M1212.6,459 1201,460.7 1189.5,461.8 1177.9,453.8 1143.3,414.9 1145.3,419 1179.9,457.6 1191.5,465.6 1203,464.6 1214.6,462.9Z" fill="url(#g125)"/><path d="M1208.5,450.9 1197,452.8 1185.4,454.1 1173.9,446 1139.2,406.4 1143.3,414.9 1177.9,453.8 1189.5,461.8 1201,460.7 1212.6,459.0Z" fill="#f0bc34"/><path d="M1207.5,448.8 1196,450.7 1184.4,452 1172.9,443.9 1138.2,404.4 1139.2,406.4 1173.9,446 1185.4,454.1 1197,452.8 1208.5,450.9Z" fill="#f5bd36"/><path d="M1202.5,438.8 1191,440.5 1179.4,441.6 1167.9,433.5 1133.2,394.7 1138.2,404.4 1172.9,443.9 1184.4,452 1196,450.7 1207.5,448.8Z" fill="#fabf38"/><path d="M1196.5,429 1185,430.1 1173.4,430.6 1161.9,422.8 1127.2,386 1133.2,394.7 1167.9,433.5 1179.4,441.6 1191,440.5 1202.5,438.8Z" fill="#fdc736"/><path d="M1190.5,421.9 1178.9,422.3 1167.4,422.2 1155.8,414.7 1161.9,422.8 1173.4,430.6 1185,430.1 1196.5,429.0ZM1121.2,380.3 1086.5,349.6 1069.2,335.2 1051.9,322.6 1017.2,301.4 982.6,284.7 913.3,253.2 896,246.4 878.6,240.8 861.3,235.7 844,231.8 850,234.7 867.3,238.1 884.7,242.8 902,248.1 919.3,254.8 988.6,286.3 1023.3,303.1 1040.6,313.5 1057.9,325.1 1075.2,338.2 1092.6,353.5 1127.2,386.0Z" fill="url(#g120)"/><path d="M1184.5,417.6 1172.9,417.3 1161.4,416.6 1149.8,409.4 1115.2,377.1 1080.5,348.2 1063.2,334.6 1045.9,322.6 1011.2,301.9 976.6,285.4 907.3,253.9 890,246.9 872.6,241.1 855.3,235.7 838,231.3 820.7,229 803.3,228.6 809.3,230.8 826.7,230.3 844,231.8 861.3,235.7 878.6,240.8 896,246.4 913.3,253.2 982.6,284.7 1017.2,301.4 1051.9,322.6 1069.2,335.2 1086.5,349.6 1121.2,380.3 1155.8,414.7 1167.4,422.2 1178.9,422.3 1190.5,421.9Z" fill="url(#g119)"/><path d="M1178.5,416.4 1166.9,415.8 1155.4,414.8 1143.8,407.7 1109.2,376.6 1074.5,348.7 1057.2,335.5 1039.9,323.7 1005.2,303.5 970.6,287 901.3,255.4 883.9,248.5 866.6,242.5 832,232.2 814.6,229.6 797.3,228.6 762.7,227.6 768.7,228.8 803.3,228.6 820.7,229 838,231.3 855.3,235.7 872.6,241.1 890,246.9 907.3,253.9 976.6,285.4 1011.2,301.9 1045.9,322.6 1063.2,334.6 1080.5,348.2 1115.2,377.1 1149.8,409.4 1161.4,416.6 1172.9,417.3 1184.5,417.6Z" fill="url(#g118)"/><path d="M1172.4,417.6 1160.9,416.8 1149.3,415.6 1137.8,408.6 1103.1,378 1068.5,350.5 1051.2,337.4 1033.8,325.9 999.2,305.7 964.5,289.3 895.2,257.7 877.9,250.7 860.6,244.7 825.9,234.3 808.6,231.4 791.3,230.2 756.6,228.8 762.7,227.6 797.3,228.6 814.6,229.6 832,232.2 866.6,242.5 883.9,248.5 901.3,255.4 970.6,287 1005.2,303.5 1039.9,323.7 1057.2,335.5 1074.5,348.7 1109.2,376.6 1143.8,407.7 1155.4,414.8 1166.9,415.8 1178.5,416.4Z" fill="url(#g117)"/><path d="M1166.4,420.6 1154.9,419.7 1143.3,418.5 1131.8,411.5 1097.1,381.1 1062.5,353.6 1045.2,340.6 1027.8,329 993.2,308.9 958.5,292.5 889.2,260.9 871.9,253.9 854.6,247.9 819.9,237.4 802.6,234.5 785.3,233.3 750.6,231.7 756.6,228.8 791.3,230.2 808.6,231.4 825.9,234.3 860.6,244.7 877.9,250.7 895.2,257.7 964.5,289.3 999.2,305.7 1033.8,325.9 1051.2,337.4 1068.5,350.5 1103.1,378 1137.8,408.6 1149.3,415.6 1160.9,416.8 1172.4,417.6Z" fill="url(#g116)"/><path d="M1160.4,424.9 1148.9,424.1 1137.3,422.9 1125.8,415.8 1091.1,385.4 1056.5,357.9 1039.1,344.9 1021.8,333.3 987.2,313.3 952.5,296.8 883.2,265.3 865.9,258.2 848.6,252.2 813.9,241.7 796.6,238.9 779.3,237.6 744.6,236.1 750.6,231.7 785.3,233.3 802.6,234.5 819.9,237.4 854.6,247.9 871.9,253.9 889.2,260.9 958.5,292.5 993.2,308.9 1027.8,329 1045.2,340.6 1062.5,353.6 1097.1,381.1 1131.8,411.5 1143.3,418.5 1154.9,419.7 1166.4,420.6Z" fill="url(#g115)"/><path d="M1159.4,425.9 1147.8,425.1 1136.3,423.9 1124.7,416.9 1090.1,386.5 1055.4,359 1038.1,346 1020.8,334.5 986.1,314.4 951.5,297.9 882.2,266.4 864.9,259.4 847.5,253.3 812.9,242.8 795.6,240 778.2,238.7 743.6,237.1 744.6,236.1 779.3,237.6 796.6,238.9 813.9,241.7 848.6,252.2 865.9,258.2 883.2,265.3 952.5,296.8 987.2,313.3 1021.8,333.3 1039.1,344.9 1056.5,357.9 1091.1,385.4 1125.8,415.8 1137.3,422.9 1148.9,424.1 1160.4,424.9Z" fill="url(#g114)"/><path d="M1154.4,431 1142.8,430.2 1131.3,428.9 1119.7,421.9 1085.1,391.7 1050.4,364.3 1033.1,351.4 1015.8,339.9 981.1,319.9 946.5,303.4 877.2,271.9 859.9,264.8 842.5,258.8 807.9,248.2 790.6,245.3 773.2,244 738.6,242.2 743.6,237.1 778.2,238.7 795.6,240 812.9,242.8 847.5,253.3 864.9,259.4 882.2,266.4 951.5,297.9 986.1,314.4 1020.8,334.5 1038.1,346 1055.4,359 1090.1,386.5 1124.7,416.9 1136.3,423.9 1147.8,425.1 1159.4,425.9Z" fill="url(#g113)"/><path d="M1152.4,433.8 1140.9,432.9 1129.3,431.7 1117.8,424.7 1083.1,394.5 1048.5,367.2 1031.1,354.3 1013.8,342.8 979.2,322.8 944.5,306.3 875.2,274.8 857.9,267.8 840.6,261.7 805.9,251.1 788.6,248.2 771.3,246.8 736.6,245 738.6,242.2 773.2,244 790.6,245.3 807.9,248.2 842.5,258.8 859.9,264.8 877.2,271.9 946.5,303.4 981.1,319.9 1015.8,339.9 1033.1,351.4 1050.4,364.3 1085.1,391.7 1119.7,421.9 1131.3,428.9 1142.8,430.2 1154.4,431.0Z" fill="url(#g112)"/><path d="M1148.4,439.5 1136.8,438.6 1125.3,437.2 1113.7,430.3 1079.1,400.2 1044.4,373 1027.1,360.2 1009.8,348.7 975.1,328.7 940.5,312.3 871.2,280.8 836.5,267.6 801.9,257 784.6,254 767.2,252.6 732.6,250.7 736.6,245 771.3,246.8 788.6,248.2 805.9,251.1 840.6,261.7 857.9,267.8 875.2,274.8 944.5,306.3 979.2,322.8 1013.8,342.8 1031.1,354.3 1048.5,367.2 1083.1,394.5 1117.8,424.7 1129.3,431.7 1140.9,432.9 1152.4,433.8Z" fill="url(#g111)"/><path d="M1145.4,444.7 1133.9,443.7 1122.3,442.3 1110.8,435.3 1076.1,405.7 1041.5,378.8 1024.2,366.1 1006.8,354.7 972.2,334.9 937.5,318.4 868.2,286.9 833.6,273.7 798.9,263 781.6,259.8 764.3,258.2 729.6,255.9 732.6,250.7 767.2,252.6 784.6,254 801.9,257 836.5,267.6 871.2,280.8 940.5,312.3 975.1,328.7 1009.8,348.7 1027.1,360.2 1044.4,373 1079.1,400.2 1113.7,430.3 1125.3,437.2 1136.8,438.6 1148.4,439.5Z" fill="url(#g110)"/><path d="M1142.4,450.2 1130.8,449 1119.3,447.5 1107.7,440.6 1073.1,411.4 1038.4,384.8 1021.1,372.2 1003.8,361 969.1,341.2 934.5,324.8 865.2,293.3 830.5,280 795.9,269.1 778.5,265.9 761.2,264.1 726.6,261.4 729.6,255.9 764.3,258.2 781.6,259.8 798.9,263 833.6,273.7 868.2,286.9 937.5,318.4 972.2,334.9 1006.8,354.7 1024.2,366.1 1041.5,378.8 1076.1,405.7 1110.8,435.3 1122.3,442.3 1133.9,443.7 1145.4,444.7Z" fill="url(#g109)"/><path d="M1140.7,453.6 1129.1,452.2 1117.6,450.4 1106,443.6 1071.4,415.2 1036.7,389.3 1019.4,377 1002.1,366 967.4,346.5 932.8,330.1 863.5,298.6 828.8,285.2 794.2,274 776.9,270.4 759.5,268.3 724.9,264.8 726.6,261.4 761.2,264.1 778.5,265.9 795.9,269.1 830.5,280 865.2,293.3 934.5,324.8 969.1,341.2 1003.8,361 1021.1,372.2 1038.4,384.8 1073.1,411.4 1107.7,440.6 1119.3,447.5 1130.8,449 1142.4,450.2Z" fill="url(#g108)"/><path d="M1138.5,457.9 1127,456.2 1115.4,454.1 1103.9,447.5 1069.2,420.1 1034.6,395.1 1017.2,383.2 999.9,372.4 965.3,353.3 930.6,336.9 861.3,305.4 826.7,291.8 792,280.2 774.7,276.3 757.4,273.7 722.7,269.1 724.9,264.8 759.5,268.3 776.9,270.4 794.2,274 828.8,285.2 863.5,298.6 932.8,330.1 967.4,346.5 1002.1,366 1019.4,377 1036.7,389.3 1071.4,415.2 1106,443.6 1117.6,450.4 1129.1,452.2 1140.7,453.6Z" fill="url(#g107)"/><path d="M1136.3,462.3 1124.8,460.2 1113.2,457.9 1101.7,451.3 1067,425.1 1032.4,400.9 997.7,378.9 963.1,360 928.4,343.7 859.1,312.2 824.5,298.4 789.8,286.5 772.5,282.2 755.2,279 720.5,273.5 722.7,269.1 757.4,273.7 774.7,276.3 792,280.2 826.7,291.8 861.3,305.4 930.6,336.9 965.3,353.3 999.9,372.4 1017.2,383.2 1034.6,395.1 1069.2,420.1 1103.9,447.5 1115.4,454.1 1127,456.2 1138.5,457.9Z" fill="url(#g106)"/><path d="M1135.9,463.7 1124.3,461.4 1112.8,459 1101.2,452.5 1066.6,426.7 1031.9,403 997.3,381.2 962.6,362.5 928,346.2 858.7,314.7 824,300.8 789.4,288.7 772,284.2 754.7,280.9 720.1,274.8 720.5,273.5 755.2,279 772.5,282.2 789.8,286.5 824.5,298.4 859.1,312.2 928.4,343.7 963.1,360 997.7,378.9 1032.4,400.9 1067,425.1 1101.7,451.3 1113.2,457.9 1124.8,460.2 1136.3,462.3Z" fill="#fcc934"/><path d="M1134.5,467.6 1122.9,464.9 1111.4,462.1 1099.8,455.8 1065.2,431.4 1030.5,408.8 995.9,387.9 961.2,369.6 926.6,353.4 857.3,321.9 822.6,307.7 788,295.1 770.7,290.2 753.3,286.2 718.7,278.8 720.1,274.8 754.7,280.9 772,284.2 789.4,288.7 824,300.8 858.7,314.7 928,346.2 962.6,362.5 997.3,381.2 1031.9,403 1066.6,426.7 1101.2,452.5 1112.8,459 1124.3,461.4 1135.9,463.7Z" fill="#fcc636"/><path d="M1133.1,471.5 1121.5,468.4 1110,465.2 1098.4,459.1 1063.8,436.1 1029.1,414.6 994.5,394.6 959.8,376.7 925.2,360.6 855.9,329.1 821.2,314.7 786.6,301.5 751.9,291.5 717.3,282.7 718.7,278.8 753.3,286.2 770.7,290.2 788,295.1 822.6,307.7 857.3,321.9 926.6,353.4 961.2,369.6 995.9,387.9 1030.5,408.8 1065.2,431.4 1099.8,455.8 1111.4,462.1 1122.9,464.9 1134.5,467.6Z" fill="#fbc237"/><path d="M1131.7,475.5 1120.2,472 1108.6,468.3 1097.1,462.4 1062.4,440.8 1027.8,420.5 993.1,401.3 958.5,383.8 923.8,367.8 854.5,336.3 819.9,321.6 785.2,307.9 750.6,296.8 715.9,286.6 717.3,282.7 751.9,291.5 786.6,301.5 821.2,314.7 855.9,329.1 925.2,360.6 959.8,376.7 994.5,394.6 1029.1,414.6 1063.8,436.1 1098.4,459.1 1110,465.2 1121.5,468.4 1133.1,471.5Z" fill="#fabf38"/><path d="M1130.3,479.4 1118.8,475.5 1107.2,471.4 1095.7,465.6 1061,445.5 991.7,407.9 957.1,390.9 922.4,375 853.1,343.5 783.8,314.4 749.2,302.1 714.5,290.6 715.9,286.6 750.6,296.8 785.2,307.9 819.9,321.6 854.5,336.3 923.8,367.8 958.5,383.8 993.1,401.3 1027.8,420.5 1062.4,440.8 1097.1,462.4 1108.6,468.3 1120.2,472 1131.7,475.5Z" fill="#f7bd37"/><path d="M1129.4,484.6 1117.9,480.5 1106.3,476.3 1094.8,470.6 1060.1,451.1 990.8,414.5 921.5,381.7 852.2,350.2 782.9,320.7 748.3,308 713.6,295.8 714.5,290.6 749.2,302.1 783.8,314.4 853.1,343.5 922.4,375 957.1,390.9 991.7,407.9 1061,445.5 1095.7,465.6 1107.2,471.4 1118.8,475.5 1130.3,479.4Z" fill="#f3bb36"/><path d="M1128.4,490.5 1116.9,486.2 1105.3,481.8 1093.8,476.2 1059.1,457.5 989.8,421.8 920.5,389.3 851.2,357.8 781.9,328 747.3,314.6 712.6,301.7 713.6,295.8 748.3,308 782.9,320.7 852.2,350.2 921.5,381.7 990.8,414.5 1060.1,451.1 1094.8,470.6 1106.3,476.3 1117.9,480.5 1129.4,484.6Z" fill="#ecbc32"/><path d="M1127.4,496.5 1115.8,491.9 1092.7,481.8 1058.1,463.8 988.8,429.2 919.5,397 850.2,365.5 780.9,335.2 746.2,321.2 711.6,307.7 712.6,301.7 747.3,314.6 781.9,328 851.2,357.8 920.5,389.3 989.8,421.8 1059.1,457.5 1093.8,476.2 1105.3,481.8 1116.9,486.2 1128.4,490.5Z" fill="#e4bd2f"/><path d="M1126.4,502.4 1114.8,497.6 1091.7,487.4 1057.1,470.1 987.8,436.6 918.5,404.6 849.2,373.1 779.9,342.5 745.2,327.9 710.6,313.6 711.6,307.7 746.2,321.2 780.9,335.2 850.2,365.5 919.5,397 988.8,429.2 1058.1,463.8 1092.7,481.8 1115.8,491.9 1127.4,496.5Z" fill="#dbbf2d"/><path d="M1125.3,508.3 1113.8,503.3 1090.7,492.9 1056,476.5 986.7,444 917.4,412.2 848.1,380.8 778.8,349.7 744.2,334.5 709.5,319.5 710.6,313.6 745.2,327.9 779.9,342.5 849.2,373.1 918.5,404.6 987.8,436.6 1057.1,470.1 1091.7,487.4 1114.8,497.6 1126.4,502.4Z" fill="#d1c12b"/><path d="M1124.3,514.3 1112.8,509 1089.7,498.5 1055,482.8 985.7,451.3 916.4,419.9 847.1,388.4 777.8,356.9 743.2,341.2 708.5,325.5 709.5,319.5 744.2,334.5 778.8,349.7 848.1,380.8 917.4,412.2 986.7,444 1056,476.5 1090.7,492.9 1113.8,503.3 1125.3,508.3Z" fill="#c7c32c"/><path d="M1124.3,517.8 1112.7,512.6 1089.6,502.1 1055,486.4 985.7,454.9 916.4,423.4 847.1,392 777.8,360.5 743.1,344.8 708.5,329 708.5,325.5 743.2,341.2 777.8,356.9 847.1,388.4 916.4,419.9 985.7,451.3 1055,482.8 1089.7,498.5 1112.8,509 1124.3,514.3Z" fill="#bec430"/><path d="M1124.2,521.4 1112.6,516.2 1089.5,505.7 1054.9,489.9 985.6,458.5 916.3,427 847,395.5 777.7,364.1 743,348.3 708.4,332.6 708.5,329 743.1,344.8 777.8,360.5 847.1,392 916.4,423.4 985.7,454.9 1055,486.4 1089.6,502.1 1112.7,512.6 1124.3,517.8Z" fill="#b7c533"/><path d="M1124.1,525 1112.6,519.7 1089.5,509.3 1054.8,493.5 985.5,462.1 916.2,430.6 846.9,399.1 777.6,367.6 743,351.9 708.3,336.2 708.4,332.6 743,348.3 777.7,364.1 847,395.5 916.3,427 985.6,458.5 1054.9,489.9 1089.5,505.7 1112.6,516.2 1124.2,521.4Z" fill="#b1c636"/><path d="M1124.1,528.6 1112.5,523.3 1089.4,512.8 1054.8,497.1 985.5,465.6 916.2,434.2 846.9,402.7 777.6,371.2 742.9,355.5 708.3,339.7 708.3,336.2 743,351.9 777.6,367.6 846.9,399.1 916.2,430.6 985.5,462.1 1054.8,493.5 1089.5,509.3 1112.6,519.7 1124.1,525.0Z" fill="#aac73a"/><path d="M1124,532.1 1112.5,526.9 1089.4,516.4 1054.7,500.7 985.4,469.2 916.1,437.7 846.8,406.3 777.5,374.8 742.9,359.1 708.2,343.3 708.3,339.7 742.9,355.5 777.6,371.2 846.9,402.7 916.2,434.2 985.5,465.6 1054.8,497.1 1089.4,512.8 1112.5,523.3 1124.1,528.6Z" fill="#a4c83e"/><path d="M1124,535.7 1112.4,530.5 1089.3,520 1054.7,504.2 985.4,472.8 916.1,441.3 846.8,409.8 777.5,378.4 742.8,362.6 708.2,346.9 708.2,343.3 742.9,359.1 777.5,374.8 846.8,406.3 916.1,437.7 985.4,469.2 1054.7,500.7 1089.4,516.4 1112.5,526.9 1124,532.1Z" fill="#9dc843"/><path d="M1123.9,539.3 1112.3,534 1089.2,523.5 1054.6,507.8 985.3,476.3 916,444.9 846.7,413.4 777.4,381.9 742.7,366.2 708.1,350.5 708.2,346.9 742.8,362.6 777.5,378.4 846.8,409.8 916.1,441.3 985.4,472.8 1054.7,504.2 1089.3,520 1112.4,530.5 1124,535.7Z" fill="#97c948"/><path d="M1123.8,542.9 1112.3,537.6 1089.2,527.1 1054.5,511.4 985.2,479.9 915.9,448.4 846.6,417 777.3,385.5 742.7,369.8 708,354 708.1,350.5 742.7,366.2 777.4,381.9 846.7,413.4 916,444.9 985.3,476.3 1054.6,507.8 1089.2,523.5 1112.3,534 1123.9,539.3Z" fill="#91ca4d"/><path d="M1123.8,546.4 1112.2,541.2 1089.1,530.7 1054.5,515 985.2,483.5 915.9,452 846.6,420.5 777.3,389.1 742.6,373.3 708,357.6 708,354 742.7,369.8 777.3,385.5 846.6,417 915.9,448.4 985.2,479.9 1054.5,511.4 1089.2,527.1 1112.3,537.6 1123.8,542.9Z" fill="#8aca52"/><path d="M1123.7,550 1112.2,544.8 1089.1,534.3 1054.4,518.5 985.1,487.1 915.8,455.6 846.5,424.1 777.2,392.6 742.6,376.9 707.9,361.2 708,357.6 742.6,373.3 777.3,389.1 846.6,420.5 915.9,452 985.2,483.5 1054.5,515 1089.1,530.7 1112.2,541.2 1123.8,546.4Z" fill="#84cb57"/><path d="M1123.7,553.6 1112.1,548.3 1089,537.8 1054.4,522.1 985.1,490.6 915.8,459.2 846.5,427.7 777.2,396.2 742.5,380.5 707.9,364.8 707.9,361.2 742.6,376.9 777.2,392.6 846.5,424.1 915.8,455.6 985.1,487.1 1054.4,518.5 1089.1,534.3 1112.2,544.8 1123.7,550.0Z" fill="#7dcb5d"/><path d="M1123.6,557.1 1112,551.9 1088.9,541.4 1054.3,525.7 985,494.2 915.7,462.7 846.4,431.3 777.1,399.8 742.4,384.1 707.8,368.3 707.9,364.8 742.5,380.5 777.2,396.2 846.5,427.7 915.8,459.2 985.1,490.6 1054.4,522.1 1089,537.8 1112.1,548.3 1123.7,553.6Z" fill="#76cb62"/><path d="M1123.5,560.7 1112,555.5 1088.9,545 1054.2,529.2 984.9,497.8 915.6,466.3 846.3,434.8 777,403.4 742.4,387.6 707.7,371.9 707.8,368.3 742.4,384.1 777.1,399.8 846.4,431.3 915.7,462.7 985,494.2 1054.3,525.7 1088.9,541.4 1112,551.9 1123.6,557.1Z" fill="#6fcc68"/><path d="M1123.5,564.3 1111.9,559 1088.8,548.6 1054.2,532.8 984.9,501.4 915.6,469.9 846.3,438.4 777,406.9 742.3,391.2 707.7,375.5 707.7,371.9 742.4,387.6 777,403.4 846.3,434.8 915.6,466.3 984.9,497.8 1054.2,529.2 1088.9,545 1112,555.5 1123.5,560.7Z" fill="#68cc6d"/><path d="M1123.4,567.9 1111.9,562.6 1088.8,552.1 1054.1,536.4 984.8,504.9 915.5,473.5 846.2,442 776.9,410.5 742.3,394.8 707.6,379 707.7,375.5 742.3,391.2 777,406.9 846.3,438.4 915.6,469.9 984.9,501.4 1054.2,532.8 1088.8,548.6 1111.9,559 1123.5,564.3Z" fill="#61cc73"/><path d="M1123.4,571.4 1111.8,566.2 1088.7,555.7 1054.1,540 984.8,508.5 915.5,477 846.2,445.6 776.9,414.1 742.2,398.4 707.6,382.6 707.6,379 742.3,394.8 776.9,410.5 846.2,442 915.5,473.5 984.8,504.9 1054.1,536.4 1088.8,552.1 1111.9,562.6 1123.4,567.9Z" fill="#5bcb78"/><path d="M1123.3,575 1111.7,569.8 1088.6,559.3 1054,543.5 984.7,512.1 915.4,480.6 846.1,449.1 776.8,417.7 742.1,401.9 707.5,386.2 707.6,382.6 742.2,398.4 776.9,414.1 846.2,445.6 915.5,477 984.8,508.5 1054.1,540 1088.7,555.7 1111.8,566.2 1123.4,571.4Z" fill="#55cb7d"/><path d="M1123.2,578.6 1111.7,573.3 1088.6,562.8 1053.9,547.1 984.6,515.6 915.3,484.2 846,452.7 776.7,421.2 742.1,405.5 707.4,389.8 707.5,386.2 742.1,401.9 776.8,417.7 846.1,449.1 915.4,480.6 984.7,512.1 1054,543.5 1088.6,559.3 1111.7,569.8 1123.3,575.0Z" fill="#4fca82"/><path d="M1123.2,582.2 1111.6,576.9 1088.5,566.4 1053.9,550.7 984.6,519.2 915.3,487.7 846,456.3 776.7,424.8 742,409.1 707.4,393.3 707.4,389.8 742.1,405.5 776.7,421.2 846,452.7 915.3,484.2 984.6,515.6 1053.9,547.1 1088.6,562.8 1111.7,573.3 1123.2,578.6Z" fill="#4aca87"/><path d="M1123.1,585.7 1111.6,580.5 1088.5,570 1053.8,554.3 984.5,522.8 915.2,491.3 845.9,459.8 776.6,428.4 742,412.6 707.3,396.9 707.4,393.3 742,409.1 776.7,424.8 846,456.3 915.3,487.7 984.6,519.2 1053.9,550.7 1088.5,566.4 1111.6,576.9 1123.2,582.2Z" fill="#44c98c"/><path d="M1123.1,589.3 1111.5,584.1 1088.4,573.6 1053.8,557.8 984.5,526.4 915.2,494.9 845.9,463.4 776.6,432 741.9,416.2 707.3,400.5 707.3,396.9 742,412.6 776.6,428.4 845.9,459.8 915.2,491.3 984.5,522.8 1053.8,554.3 1088.5,570 1111.6,580.5 1123.1,585.7Z" fill="#3ec991"/><path d="M1123,592.9 1111.4,587.6 1088.3,577.1 1053.7,561.4 984.4,529.9 915.1,498.5 845.8,467 776.5,435.5 741.8,419.8 707.2,404.1 707.3,400.5 741.9,416.2 776.6,432 845.9,463.4 915.2,494.9 984.5,526.4 1053.8,557.8 1088.4,573.6 1111.5,584.1 1123.1,589.3Z" fill="#38c896"/><path d="M1122.9,596.4 1111.4,591.2 1088.3,580.7 1053.6,565 984.3,533.5 915,502 845.7,470.6 776.4,439.1 741.8,423.4 707.1,407.6 707.2,404.1 741.8,419.8 776.5,435.5 845.8,467 915.1,498.5 984.4,529.9 1053.7,561.4 1088.3,577.1 1111.4,587.6 1123,592.9Z" fill="#34c79a"/><path d="M1122.9,600 1111.3,594.8 1088.2,584.3 1053.6,568.5 984.3,537.1 915,505.6 845.7,474.1 776.4,442.7 741.7,426.9 707.1,411.2 707.1,407.6 741.8,423.4 776.4,439.1 845.7,470.6 915,502 984.3,533.5 1053.6,565 1088.3,580.7 1111.4,591.2 1122.9,596.4Z" fill="#2fc69e"/><path d="M1122.8,603.6 1111.3,598.3 1088.2,587.9 1053.5,572.1 984.2,540.7 914.9,509.2 845.6,477.7 776.3,446.2 741.7,430.5 707,414.8 707.1,411.2 741.7,426.9 776.4,442.7 845.7,474.1 915,505.6 984.3,537.1 1053.6,568.5 1088.2,584.3 1111.3,594.8 1122.9,600.0Z" fill="#2bc5a2"/><path d="M1122.8,607.2 1111.2,601.9 1088.1,591.4 1053.5,575.7 984.2,544.2 914.9,512.8 845.6,481.3 776.3,449.8 741.6,434.1 707,418.3 707,414.8 741.7,430.5 776.3,446.2 845.6,477.7 914.9,509.2 984.2,540.7 1053.5,572.1 1088.2,587.9 1111.3,598.3 1122.8,603.6Z" fill="#27c4a6"/><path d="M1122.7,610.7 1111.1,605.5 1088,595 1053.4,579.3 984.1,547.8 914.8,516.3 845.5,484.9 776.2,453.4 741.5,437.7 706.9,421.9 707,418.3 741.6,434.1 776.3,449.8 845.6,481.3 914.9,512.8 984.2,544.2 1053.5,575.7 1088.1,591.4 1111.2,601.9 1122.8,607.2Z" fill="#23c3aa"/><path d="M1122.6,614.3 1111.1,609.1 1088,598.6 1053.3,582.8 984,551.4 914.7,519.9 845.4,488.4 776.1,457 741.5,441.2 706.8,425.5 706.9,421.9 741.5,437.7 776.2,453.4 845.5,484.9 914.8,516.3 984.1,547.8 1053.4,579.3 1088,595 1111.1,605.5 1122.7,610.7Z" fill="#1fc2ae"/><path d="M1122.6,617.9 1111,612.6 1087.9,602.1 1053.3,586.4 984,554.9 914.7,523.5 845.4,492 776.1,460.5 741.4,444.8 706.8,429.1 706.8,425.5 741.5,441.2 776.1,457 845.4,488.4 914.7,519.9 984,551.4 1053.3,582.8 1088,598.6 1111.1,609.1 1122.6,614.3Z" fill="#1ac1b2"/><path d="M1122.5,621.5 1111,616.2 1087.9,605.7 1053.2,590 983.9,558.5 914.6,527 845.3,495.6 776,464.1 741.4,448.4 706.7,432.6 706.8,429.1 741.4,444.8 776.1,460.5 845.4,492 914.7,523.5 984,554.9 1053.3,586.4 1087.9,602.1 1111,612.6 1122.6,617.9Z" fill="#16bfb5"/><path d="M1122.5,625 1110.9,619.8 1087.8,609.3 1053.2,593.6 983.9,562.1 914.6,530.6 845.3,499.1 776,467.7 741.3,451.9 706.7,436.2 706.7,432.6 741.4,448.4 776,464.1 845.3,495.6 914.6,527 983.9,558.5 1053.2,590 1087.9,605.7 1111,616.2 1122.5,621.5Z" fill="#12beb9"/><path d="M1122.4,628.6 1110.8,623.4 1087.7,612.9 1053.1,597.1 983.8,565.7 914.5,534.2 845.2,502.7 775.9,471.3 741.2,455.5 706.6,439.8 706.7,436.2 741.3,451.9 776,467.7 845.3,499.1 914.6,530.6 983.9,562.1 1053.2,593.6 1087.8,609.3 1110.9,619.8 1122.5,625.0Z" fill="#10bdbd"/><path d="M1122.3,632.2 1110.8,626.9 1087.7,616.4 1053,600.7 983.7,569.2 914.4,537.8 845.1,506.3 775.8,474.8 741.2,459.1 706.5,443.4 706.6,439.8 741.2,455.5 775.9,471.3 845.2,502.7 914.5,534.2 983.8,565.7 1053.1,597.1 1087.7,612.9 1110.8,623.4 1122.4,628.6Z" fill="#0ebcc0"/><path d="M1122.3,635.7 1110.7,630.5 1087.6,620 1053,604.3 983.7,572.8 914.4,541.3 845.1,509.9 775.8,478.4 741.1,462.7 706.5,446.9 706.5,443.4 741.2,459.1 775.8,474.8 845.1,506.3 914.4,537.8 983.7,569.2 1053,600.7 1087.7,616.4 1110.8,626.9 1122.3,632.2Z" fill="#0cbac4"/><path d="M1122.2,639.3 1110.7,634.1 1087.6,623.6 1052.9,607.8 983.6,576.4 914.3,544.9 845,513.4 775.7,482 741.1,466.2 706.4,450.5 706.5,446.9 741.1,462.7 775.8,478.4 845.1,509.9 914.4,541.3 983.7,572.8 1053,604.3 1087.6,620 1110.7,630.5 1122.3,635.7Z" fill="#0ab9c8"/><path d="M1122.2,642.9 1110.6,637.6 1087.5,627.2 1052.9,611.4 983.6,580 914.3,548.5 845,517 775.7,485.5 741,469.8 706.4,454.1 706.4,450.5 741.1,466.2 775.7,482 845,513.4 914.3,544.9 983.6,576.4 1052.9,607.8 1087.6,623.6 1110.7,634.1 1122.2,639.3Z" fill="#0bb8cb"/><path d="M1122.1,646.5 1110.5,641.2 1087.4,630.7 1052.8,615 983.5,583.5 914.2,552.1 844.9,520.6 775.6,489.1 740.9,473.4 706.3,457.6 706.4,454.1 741,469.8 775.7,485.5 845,517 914.3,548.5 983.6,580 1052.9,611.4 1087.5,627.2 1110.6,637.6 1122.2,642.9Z" fill="#0db6cd"/><path d="M1122,650 1110.5,644.8 1087.4,634.3 1052.7,618.6 983.4,587.1 914.1,555.6 844.8,524.2 775.5,492.7 740.9,477 706.2,461.2 706.3,457.6 740.9,473.4 775.6,489.1 844.9,520.6 914.2,552.1 983.5,583.5 1052.8,615 1087.4,630.7 1110.5,641.2 1122.1,646.5Z" fill="#0eb5d0"/><path d="M1122,653.6 1110.4,648.4 1087.3,637.9 1052.7,622.1 983.4,590.7 914.1,559.2 844.8,527.7 775.5,496.3 740.8,480.5 706.2,464.8 706.2,461.2 740.9,477 775.5,492.7 844.8,524.2 914.1,555.6 983.4,587.1 1052.7,618.6 1087.4,634.3 1110.5,644.8 1122,650.0Z" fill="#10b3d2"/><path d="M1121.9,657.2 1110.4,651.9 1087.3,641.4 1052.6,625.7 983.3,594.2 914,562.8 844.7,531.3 775.4,499.8 740.8,484.1 706.1,468.4 706.2,464.8 740.8,480.5 775.5,496.3 844.8,527.7 914.1,559.2 983.4,590.7 1052.7,622.1 1087.3,637.9 1110.4,648.4 1122,653.6Z" fill="#11b2d5"/><path d="M1121.8,660.8 1110.3,655.5 1087.2,645 1052.5,629.3 983.2,597.8 913.9,566.3 844.6,534.9 775.3,503.4 740.7,487.7 706,471.9 706.1,468.4 740.8,484.1 775.4,499.8 844.7,531.3 914,562.8 983.3,594.2 1052.6,625.7 1087.3,641.4 1110.4,651.9 1121.9,657.2Z" fill="#13b0d7"/><path d="M1121.8,664.3 1110.2,659.1 1087.1,648.6 1052.5,632.9 983.2,601.4 913.9,569.9 844.6,538.4 775.3,507 740.6,491.2 706,475.5 706,471.9 740.7,487.7 775.3,503.4 844.6,534.9 913.9,566.3 983.2,597.8 1052.5,629.3 1087.2,645 1110.3,655.5 1121.8,660.8Z" fill="#14aed9"/><path d="M1121.7,667.9 1110.2,662.7 1087.1,652.2 1052.4,636.4 983.1,605 913.8,573.5 844.5,542 775.2,510.6 740.6,494.8 705.9,479.1 706,475.5 740.6,491.2 775.3,507 844.6,538.4 913.9,569.9 983.2,601.4 1052.5,632.9 1087.1,648.6 1110.2,659.1 1121.8,664.3Z" fill="#16abdb"/><path d="M1121.7,671.5 1110.1,666.2 1087,655.7 1052.4,640 983.1,608.5 913.8,577.1 844.5,545.6 775.2,514.1 740.5,498.4 705.9,482.7 705.9,479.1 740.6,494.8 775.2,510.6 844.5,542 913.8,573.5 983.1,605 1052.4,636.4 1087.1,652.2 1110.2,662.7 1121.7,667.9Z" fill="#18a9dd"/><path d="M1121.6,675 1110.1,669.8 1087,659.3 1052.3,643.6 983,612.1 913.7,580.6 844.4,549.2 775.1,517.7 740.5,502 705.8,486.2 705.9,482.7 740.5,498.4 775.2,514.1 844.5,545.6 913.8,577.1 983.1,608.5 1052.4,640 1087,655.7 1110.1,666.2 1121.7,671.5Z" fill="#19a7df"/><path d="M1121.5,678.6 1110,673.4 1086.9,662.9 1052.2,647.1 982.9,615.7 913.6,584.2 844.3,552.7 775,521.3 740.4,505.5 705.7,489.8 705.8,486.2 740.5,502 775.1,517.7 844.4,549.2 913.7,580.6 983,612.1 1052.3,643.6 1087,659.3 1110.1,669.8 1121.6,675.0Z" fill="#1ba5e0"/><path d="M1121.5,682.2 1109.9,676.9 1086.8,666.5 1052.2,650.7 982.9,619.3 913.6,587.8 844.3,556.3 775,524.8 740.3,509.1 705.7,493.4 705.7,489.8 740.4,505.5 775,521.3 844.3,552.7 913.6,584.2 982.9,615.7 1052.2,647.1 1086.9,662.9 1110,673.4 1121.5,678.6Z" fill="#1da2e2"/><path d="M1121.4,685.8 1109.9,680.5 1086.8,670 1052.1,654.3 982.8,622.8 913.5,591.4 844.2,559.9 774.9,528.4 740.3,512.7 705.6,496.9 705.7,493.4 740.3,509.1 775,524.8 844.3,556.3 913.6,587.8 982.9,619.3 1052.2,650.7 1086.8,666.5 1109.9,676.9 1121.5,682.2Z" fill="#1ea0e4"/><path d="M1121.4,689.3 1109.8,684.1 1086.7,673.6 1052.1,657.9 982.8,626.4 913.5,594.9 844.2,563.5 774.9,532 740.2,516.3 705.6,500.5 705.6,496.9 740.3,512.7 774.9,528.4 844.2,559.9 913.5,591.4 982.8,622.8 1052.1,654.3 1086.8,670 1109.9,680.5 1121.4,685.8Z" fill="#209ee6"/><path d="M1121.3,692.9 1109.8,687.7 1086.7,677.2 1052,661.4 982.7,630 913.4,598.5 844.1,567 774.8,535.6 740.2,519.8 705.5,504.1 705.6,500.5 740.2,516.3 774.9,532 844.2,563.5 913.5,594.9 982.8,626.4 1052.1,657.9 1086.7,673.6 1109.8,684.1 1121.4,689.3Z" fill="#229ce7"/><path d="M1121.2,696.5 1109.7,691.2 1086.6,680.7 1051.9,665 982.6,633.5 913.3,602.1 844,570.6 774.7,539.1 740.1,523.4 705.4,507.7 705.5,504.1 740.2,519.8 774.8,535.6 844.1,567 913.4,598.5 982.7,630 1052,661.4 1086.7,677.2 1109.8,687.7 1121.3,692.9Z" fill="#2399e9"/><path d="M1121.2,700.1 1109.6,694.8 1086.5,684.3 1051.9,668.6 982.6,637.1 913.3,605.6 844,574.2 774.7,542.7 740,527 705.4,511.2 705.4,507.7 740.1,523.4 774.7,539.1 844,570.6 913.3,602.1 982.6,633.5 1051.9,665 1086.6,680.7 1109.7,691.2 1121.2,696.5Z" fill="#2597eb"/><path d="M1121.1,703.6 1109.6,698.4 1086.5,687.9 1051.8,672.2 982.5,640.7 913.2,609.2 843.9,577.7 774.6,546.3 740,530.5 705.3,514.8 705.4,511.2 740,527 774.7,542.7 844,574.2 913.3,605.6 982.6,637.1 1051.9,668.6 1086.5,684.3 1109.6,694.8 1121.2,700.1Z" fill="#2695ed"/><path d="M1121.1,707.2 1109.5,702 1086.4,691.5 1051.8,675.7 982.5,644.3 913.2,612.8 843.9,581.3 774.6,549.9 739.9,534.1 705.3,518.4 705.3,514.8 740,530.5 774.6,546.3 843.9,577.7 913.2,609.2 982.5,640.7 1051.8,672.2 1086.5,687.9 1109.6,698.4 1121.1,703.6Z" fill="#2792ef"/><path d="M1121,710.8 1109.5,705.5 1086.4,695 1051.7,679.3 982.4,647.8 913.1,616.4 843.8,584.9 774.5,553.4 739.9,537.7 705.2,522 705.3,518.4 739.9,534.1 774.6,549.9 843.9,581.3 913.2,612.8 982.5,644.3 1051.8,675.7 1086.4,691.5 1109.5,702 1121.1,707.2Z" fill="#2990f0"/><path d="M1120.9,714.3 1109.4,709.1 1086.3,698.6 1051.6,682.9 982.3,651.4 913,619.9 843.7,588.5 774.4,557 739.8,541.3 705.1,525.5 705.2,522 739.9,537.7 774.5,553.4 843.8,584.9 913.1,616.4 982.4,647.8 1051.7,679.3 1086.4,695 1109.5,705.5 1121,710.8Z" fill="#2a8df2"/><path d="M1120.9,717.9 1109.3,712.7 1086.2,702.2 1051.6,686.5 982.3,655 913,623.5 843.7,592 774.4,560.6 739.7,544.8 705.1,529.1 705.1,525.5 739.8,541.3 774.4,557 843.7,588.5 913,619.9 982.3,651.4 1051.6,682.9 1086.3,698.6 1109.4,709.1 1120.9,714.3Z" fill="#2b8bf4"/><path d="M1120.8,721.5 1109.3,716.2 1086.2,705.8 1051.5,690 982.2,658.6 912.9,627.1 843.6,595.6 774.3,564.1 739.7,548.4 705,532.7 705.1,529.1 739.7,544.8 774.4,560.6 843.7,592 913,623.5 982.3,655 1051.6,686.5 1086.2,702.2 1109.3,712.7 1120.9,717.9Z" fill="#2d89f6"/><path d="M1120.8,725.1 1109.2,719.8 1086.1,709.3 1051.5,693.6 982.2,662.1 912.9,630.7 843.6,599.2 774.3,567.7 739.6,552 705,536.2 705,532.7 739.7,548.4 774.3,564.1 843.6,595.6 912.9,627.1 982.2,658.6 1051.5,690 1086.2,705.8 1109.3,716.2 1120.8,721.5Z" fill="#2e86f7"/><path d="M1120.7,728.6 1109.2,723.4 1086.1,712.9 1051.4,697.2 982.1,665.7 912.8,634.2 843.5,602.8 774.2,571.3 739.6,555.6 704.9,539.8 705,536.2 739.6,552 774.3,567.7 843.6,599.2 912.9,630.7 982.2,662.1 1051.5,693.6 1086.1,709.3 1109.2,719.8 1120.8,725.1Z" fill="#2f83f9"/><path d="M1120.6,732.2 1109.1,727 1086,716.5 1051.3,700.7 982,669.3 912.7,637.8 843.4,606.3 774.1,574.9 739.5,559.1 704.8,543.4 704.9,539.8 739.6,555.6 774.2,571.3 843.5,602.8 912.8,634.2 982.1,665.7 1051.4,697.2 1086.1,712.9 1109.2,723.4 1120.7,728.6Z" fill="#3081fa"/><path d="M1120.6,735.8 1109,730.5 1085.9,720 1051.3,704.3 982,672.8 912.7,641.4 843.4,609.9 774.1,578.4 739.4,562.7 704.8,547 704.8,543.4 739.5,559.1 774.1,574.9 843.4,606.3 912.7,637.8 982,669.3 1051.3,700.7 1086,716.5 1109.1,727 1120.6,732.2Z" fill="#327efb"/><path d="M1120.5,739.4 1109,734.1 1085.9,723.6 1051.2,707.9 981.9,676.4 912.6,644.9 843.3,613.5 774,582 739.4,566.3 704.7,550.5 704.8,547 739.4,562.7 774.1,578.4 843.4,609.9 912.7,641.4 982,672.8 1051.3,704.3 1085.9,720 1109,730.5 1120.6,735.8Z" fill="#337bfc"/><path d="M1120.5,742.9 1108.9,737.7 1085.8,727.2 1051.2,711.5 981.9,680 912.6,648.5 843.3,617 774,585.6 739.3,569.8 704.7,554.1 704.7,550.5 739.4,566.3 774,582 843.3,613.5 912.6,644.9 981.9,676.4 1051.2,707.9 1085.9,723.6 1109,734.1 1120.5,739.4Z" fill="#3578fd"/><path d="M1120.4,746.5 1108.9,741.3 1085.8,730.8 1051.1,715 981.8,683.6 912.5,652.1 843.2,620.6 773.9,589.2 739.3,573.4 704.6,557.7 704.7,554.1 739.3,569.8 774,585.6 843.3,617 912.6,648.5 981.9,680 1051.2,711.5 1085.8,727.2 1108.9,737.7 1120.5,742.9Z" fill="#3775fd"/><path d="M1120.3,750.1 1108.8,744.8 1085.7,734.3 1051,718.6 981.7,687.1 912.4,655.7 843.1,624.2 773.8,592.7 739.2,577 704.5,561.3 704.6,557.7 739.3,573.4 773.9,589.2 843.2,620.6 912.5,652.1 981.8,683.6 1051.1,715 1085.8,730.8 1108.9,741.3 1120.4,746.5Z" fill="#3972fd"/><path d="M1120.3,753.6 1108.7,748.4 1085.6,737.9 1051,722.2 981.7,690.7 912.4,659.2 843.1,627.8 773.8,596.3 739.1,580.6 704.5,564.8 704.5,561.3 739.2,577 773.8,592.7 843.1,624.2 912.4,655.7 981.7,687.1 1051,718.6 1085.7,734.3 1108.8,744.8 1120.3,750.1Z" fill="#3c6ffd"/><path d="M1120.2,757.2 1108.7,752 1085.6,741.5 1050.9,725.8 981.6,694.3 912.3,662.8 843,631.3 773.7,599.9 739.1,584.1 704.4,568.4 704.5,564.8 739.1,580.6 773.8,596.3 843.1,627.8 912.4,659.2 981.7,690.7 1051,722.2 1085.6,737.9 1108.7,748.4 1120.3,753.6Z" fill="#3e6cfc"/><path d="M1120.2,760.8 1108.6,755.5 1085.5,745.1 1050.9,729.3 981.6,697.9 912.3,666.4 843,634.9 773.7,603.4 739,587.7 704.4,572 704.4,568.4 739.1,584.1 773.7,599.9 843,631.3 912.3,662.8 981.6,694.3 1050.9,725.8 1085.6,741.5 1108.7,752 1120.2,757.2Z" fill="#4069fc"/><path d="M1120.1,764.4 1108.6,759.1 1085.5,748.6 1050.8,732.9 981.5,701.4 912.2,670 842.9,638.5 773.6,607 739,591.3 704.3,575.5 704.4,572 739,587.7 773.7,603.4 843,634.9 912.3,666.4 981.6,697.9 1050.9,729.3 1085.5,745.1 1108.6,755.5 1120.2,760.8Z" fill="#4266fc"/><path d="M1120,767.9 1108.5,762.7 1085.4,752.2 1050.7,736.5 981.4,705 912.1,673.5 842.8,642.1 773.5,610.6 738.9,594.9 704.2,579.1 704.3,575.5 739,591.3 773.6,607 842.9,638.5 912.2,670 981.5,701.4 1050.8,732.9 1085.5,748.6 1108.6,759.1 1120.1,764.4Z" fill="#4563fc"/><path d="M1120,771.5 1108.4,766.3 1085.3,755.8 1050.7,740 981.4,708.6 912.1,677.1 842.8,645.6 773.5,614.2 738.8,598.4 704.2,582.7 704.2,579.1 738.9,594.9 773.5,610.6 842.8,642.1 912.1,673.5 981.4,705 1050.7,736.5 1085.4,752.2 1108.5,762.7 1120,767.9Z" fill="#4560fb"/><path d="M1119.9,775.1 1108.4,769.8 1085.3,759.3 1050.6,743.6 981.3,712.1 912,680.7 842.7,649.2 773.4,617.7 738.8,602 704.1,586.3 704.2,582.7 738.8,598.4 773.5,614.2 842.8,645.6 912.1,677.1 981.4,708.6 1050.7,740 1085.3,755.8 1108.4,766.3 1120,771.5Z" fill="#465efa"/><path d="M1119.9,778.7 1108.3,773.4 1085.2,762.9 1050.6,747.2 981.3,715.7 912,684.2 842.7,652.8 773.4,621.3 738.7,605.6 704.1,589.8 704.1,586.3 738.8,602 773.4,617.7 842.7,649.2 912,680.7 981.3,712.1 1050.6,743.6 1085.3,759.3 1108.4,769.8 1119.9,775.1Z" fill="#465bf8"/><path d="M1119.8,782.2 1108.3,777 1085.2,766.5 1050.5,750.8 981.2,719.3 911.9,687.8 842.6,656.4 773.3,624.9 738.7,609.1 704,593.4 704.1,589.8 738.7,605.6 773.4,621.3 842.7,652.8 912,684.2 981.3,715.7 1050.6,747.2 1085.2,762.9 1108.3,773.4 1119.9,778.7Z" fill="#4658f6"/><path d="M1119.7,785.8 1108.2,780.6 1085.1,770.1 1050.4,754.3 981.1,722.9 911.8,691.4 842.5,659.9 773.2,628.5 738.6,612.7 703.9,597 704,593.4 738.7,609.1 773.3,624.9 842.6,656.4 911.9,687.8 981.2,719.3 1050.5,750.8 1085.2,766.5 1108.3,777 1119.8,782.2Z" fill="#4755f5"/><path d="M1119.7,789.4 1108.1,784.1 1085,773.6 1050.4,757.9 981.1,726.4 911.8,695 842.5,663.5 773.2,632 738.5,616.3 703.9,600.6 703.9,597 738.6,612.7 773.2,628.5 842.5,659.9 911.8,691.4 981.1,722.9 1050.4,754.3 1085.1,770.1 1108.2,780.6 1119.7,785.8Z" fill="#4753f3"/><path d="M1119.6,792.9 1108.1,787.7 1085,777.2 1050.3,761.5 981,730 911.7,698.5 842.4,667.1 773.1,635.6 738.5,619.9 703.8,604.1 703.9,600.6 738.5,616.3 773.2,632 842.5,663.5 911.8,695 981.1,726.4 1050.4,757.9 1085,773.6 1108.1,784.1 1119.7,789.4Z" fill="#4750f2"/><path d="M1119.6,796.5 1108,791.3 1084.9,780.8 1050.3,765.1 981,733.6 911.7,702.1 842.4,670.6 773.1,639.2 738.4,623.4 703.8,607.7 703.8,604.1 738.5,619.9 773.1,635.6 842.4,667.1 911.7,698.5 981,730 1050.3,761.5 1085,777.2 1108.1,787.7 1119.6,792.9Z" fill="#484df0"/><path d="M1119.5,800.1 1108,794.8 1084.9,784.4 1050.2,768.6 980.9,737.2 911.6,705.7 842.3,674.2 773,642.7 738.4,627 703.7,611.3 703.8,607.7 738.4,623.4 773.1,639.2 842.4,670.6 911.7,702.1 981,733.6 1050.3,765.1 1084.9,780.8 1108,791.3 1119.6,796.5Z" fill="#484aed"/><path d="M1119.4,803.7 1107.9,798.4 1084.8,787.9 1050.1,772.2 980.8,740.7 911.5,709.3 842.2,677.8 772.9,646.3 738.3,630.6 703.6,614.8 703.7,611.3 738.4,627 773,642.7 842.3,674.2 911.6,705.7 980.9,737.2 1050.2,768.6 1084.9,784.4 1108,794.8 1119.5,800.1Z" fill="#4748ea"/><path d="M1119.4,807.2 1107.8,802 1084.7,791.5 1050.1,775.8 980.8,744.3 911.5,712.8 842.2,681.4 772.9,649.9 738.2,634.2 703.6,618.4 703.6,614.8 738.3,630.6 772.9,646.3 842.2,677.8 911.5,709.3 980.8,740.7 1050.1,772.2 1084.8,787.9 1107.9,798.4 1119.4,803.7Z" fill="#4745e7"/><path d="M1119.3,810.8 1107.8,805.6 1084.7,795.1 1050,779.3 980.7,747.9 911.4,716.4 842.1,684.9 772.8,653.5 738.2,637.7 703.5,622 703.6,618.4 738.2,634.2 772.9,649.9 842.2,681.4 911.5,712.8 980.8,744.3 1050.1,775.8 1084.7,791.5 1107.8,802 1119.4,807.2Z" fill="#4642e3"/><path d="M1119.3,814.4 1107.7,809.1 1084.6,798.7 1050,782.9 980.7,751.4 911.4,720 842.1,688.5 772.8,657 738.1,641.3 703.5,625.6 703.5,622 738.2,637.7 772.8,653.5 842.1,684.9 911.4,716.4 980.7,747.9 1050,779.3 1084.7,795.1 1107.8,805.6 1119.3,810.8Z" fill="#463fe0"/><path d="M1119.2,818 1107.7,812.7 1084.6,802.2 1049.9,786.5 980.6,755 911.3,723.5 842,692.1 772.7,660.6 738.1,644.9 703.4,629.1 703.5,625.6 738.1,641.3 772.8,657 842.1,688.5 911.4,720 980.7,751.4 1050,782.9 1084.6,798.7 1107.7,809.1 1119.3,814.4Z" fill="#463ddd"/><path d="M1119.1,821.5 1107.6,816.3 1084.5,805.8 1049.8,790.1 980.5,758.6 911.2,727.1 841.9,695.7 772.6,664.2 738,648.4 703.3,632.7 703.4,629.1 738.1,644.9 772.7,660.6 842,692.1 911.3,723.5 980.6,755 1049.9,786.5 1084.6,802.2 1107.7,812.7 1119.2,818.0Z" fill="#453ad9"/><path d="M1119.1,825.1 1107.5,819.9 1084.4,809.4 1049.8,793.6 980.5,762.2 911.2,730.7 841.9,699.2 772.6,667.8 737.9,652 703.3,636.3 703.3,632.7 738,648.4 772.6,664.2 841.9,695.7 911.2,727.1 980.5,758.6 1049.8,790.1 1084.5,805.8 1107.6,816.3 1119.1,821.5Z" fill="#4537d6"/><path d="M1119,828.7 1107.5,823.4 1084.4,812.9 1049.7,797.2 980.4,765.7 911.1,734.3 841.8,702.8 772.5,671.3 737.9,655.6 703.2,639.9 703.3,636.3 737.9,652 772.6,667.8 841.9,699.2 911.2,730.7 980.5,762.2 1049.8,793.6 1084.4,809.4 1107.5,819.9 1119.1,825.1Z" fill="#4435d1"/><path d="M1119,832.2 1107.4,827 1084.3,816.5 1049.7,800.8 980.4,769.3 911.1,737.8 841.8,706.4 772.5,674.9 737.8,659.2 703.2,643.4 703.2,639.9 737.9,655.6 772.5,671.3 841.8,702.8 911.1,734.3 980.4,765.7 1049.7,797.2 1084.4,812.9 1107.5,823.4 1119,828.7Z" fill="#4333cb"/><path d="M1118.9,835.8 1107.4,830.6 1084.3,820.1 1049.6,804.4 980.3,772.9 911,741.4 841.7,709.9 772.4,678.5 737.8,662.7 703.1,647 703.2,643.4 737.8,659.2 772.5,674.9 841.8,706.4 911.1,737.8 980.4,769.3 1049.7,800.8 1084.3,816.5 1107.4,827 1119,832.2Z" fill="#4331c6"/><path d="M1118.8,839.4 1107.3,834.1 1084.2,823.7 1049.5,807.9 980.2,776.5 910.9,745 841.6,713.5 772.3,682 737.7,666.3 703,650.6 703.1,647 737.8,662.7 772.4,678.5 841.7,709.9 911,741.4 980.3,772.9 1049.6,804.4 1084.3,820.1 1107.4,830.6 1118.9,835.8Z" fill="#422fc0"/><path d="M1118.8,843 1107.2,837.7 1084.1,827.2 1049.5,811.5 980.2,780 910.9,748.6 841.6,717.1 772.3,685.6 737.6,669.9 703,654.1 703,650.6 737.7,666.3 772.3,682 841.6,713.5 910.9,745 980.2,776.5 1049.5,807.9 1084.2,823.7 1107.3,834.1 1118.8,839.4Z" fill="#412dbb"/><path d="M1118.7,846.5 1107.2,841.3 1084.1,830.8 1049.4,815.1 980.1,783.6 910.8,752.1 841.5,720.7 772.2,689.2 737.6,673.5 702.9,657.7 703,654.1 737.6,669.9 772.3,685.6 841.6,717.1 910.9,748.6 980.2,780 1049.5,811.5 1084.1,827.2 1107.2,837.7 1118.8,843.0Z" fill="#402bb5"/><path d="M1118.7,850.1 1107.1,844.9 1084,834.4 1049.4,818.6 980.1,787.2 910.8,755.7 841.5,724.2 772.2,692.8 737.5,677 702.9,661.3 702.9,657.7 737.6,673.5 772.2,689.2 841.5,720.7 910.8,752.1 980.1,783.6 1049.4,815.1 1084.1,830.8 1107.2,841.3 1118.7,846.5Z" fill="#3f29b0"/><path d="M1118.3,853.3 1106.8,848.1 1083.7,837.6 1049,821.8 979.7,790.4 910.4,758.9 841.1,727.4 771.8,696 737.2,680.2 702.5,664.5 702.9,661.3 737.5,677 772.2,692.8 841.5,724.2 910.8,755.7 980.1,787.2 1049.4,818.6 1084,834.4 1107.1,844.9 1118.7,850.1Z" fill="#3e26a8"/></g>
<defs><pattern id="mesh" width="3.4" height="5.4" patternUnits="userSpaceOnUse" patternTransform="skewY(30)"><path d="M0.3,4.9 L1.9,0.5 L3.1,0.5 L1.5,4.9 Z" fill="#fff"/></pattern><linearGradient id="mg" gradientUnits="userSpaceOnUse" x1="1300" y1="430" x2="1385" y2="600"><stop offset="0" stop-color="#fff" stop-opacity=".12"/><stop offset=".35" stop-color="#fff" stop-opacity=".5"/><stop offset="1" stop-color="#fff" stop-opacity="1"/></linearGradient><mask id="mm" maskUnits="userSpaceOnUse" x="1200" y="400" width="300" height="250"><rect x="1200" y="400" width="300" height="250" fill="url(#mg)"/></mask></defs>
<g mask="url(#mm)" opacity=".7"><path d="M1318,420 L1375,431 L1420,465 L1409,510 L1397,550 L1386,618 L1375,567 L1358,556 L1341,567 L1329,607 L1318,624 L1304,607 L1296,578 L1270,550 L1273,493 L1295,442 Z" fill="url(#mesh)"/></g>
<path d="M1237,502 L1254,509 L1278,543 L1302,584 L1295,588 L1268,557 L1244,526 Z" fill="url(#mesh)" opacity=".55"/>
<path d="M794.6,705 L797.5,600 L801.5,480 L804.5,404 L805.3,404 L803.6,480 L800.6,600 L796.4,705 Z" fill="#fff" fill-opacity=".8"/>
<g id="box3d"><path d="M679.4,654.0 L679.4,198.0 L1281.0,38.2 L1743.0,248.0 L1743.0,704.0 L1141.4,863.8 L679.4,654.0 L679.4,631.2" stroke="#000" stroke-width="5" fill="none" stroke-linejoin="miter" stroke-linecap="butt"/><path d="M679.4,198.0 L697.8,193.1" stroke="#000" stroke-width="5" fill="none"/><path d="M679.4,289.2 L697.8,284.3" stroke="#000" stroke-width="5" fill="none"/><path d="M679.4,380.4 L697.8,375.5" stroke="#000" stroke-width="5" fill="none"/><path d="M679.4,471.6 L697.8,466.7" stroke="#000" stroke-width="5" fill="none"/><path d="M679.4,562.8 L697.8,557.9" stroke="#000" stroke-width="5" fill="none"/><path d="M679.4,654.0 L697.8,649.1" stroke="#000" stroke-width="5" fill="none"/><path d="M794.9,706.4 L810.4,702.3" stroke="#000" stroke-width="5" fill="none"/><path d="M910.4,758.9 L925.9,754.8" stroke="#000" stroke-width="5" fill="none"/><path d="M1025.9,811.3 L1041.4,807.2" stroke="#000" stroke-width="5" fill="none"/><path d="M1261.7,831.8 L1247.2,825.2" stroke="#000" stroke-width="5" fill="none"/><path d="M1382.0,799.9 L1367.5,793.3" stroke="#000" stroke-width="5" fill="none"/><path d="M1502.4,767.9 L1487.8,761.3" stroke="#000" stroke-width="5" fill="none"/><path d="M1622.7,736.0 L1608.1,729.3" stroke="#000" stroke-width="5" fill="none"/><path d="M1743.0,704.0 L1728.4,697.4" stroke="#000" stroke-width="5" fill="none"/></g>
<text transform="translate(632.0,212.0)" y="21.8" font-size="66" text-anchor="end" >0</text>
<text transform="translate(632.0,305.0)" y="21.8" font-size="66" text-anchor="end" >−20</text>
<text transform="translate(632.0,394.5)" y="21.8" font-size="66" text-anchor="end" >−40</text>
<text transform="translate(632.0,483.5)" y="21.8" font-size="66" text-anchor="end" >−60</text>
<text transform="translate(632.0,573.0)" y="21.8" font-size="66" text-anchor="end" >−80</text>
<text transform="translate(632.0,642.0)" y="21.8" font-size="66" text-anchor="end" >−100</text>
<text transform="translate(436,426) rotate(-90)" y="22" font-size="65" text-anchor="middle" textLength="474" lengthAdjust="spacing">归一化幅度 (dB)</text>
<text transform="translate(625.0,708.0) rotate(24.42)" y="21.8" font-size="66" text-anchor="middle" >200</text>
<text transform="translate(745.7,762.4) rotate(24.42)" y="21.8" font-size="66" text-anchor="middle" >100</text>
<text transform="translate(865.0,814.7) rotate(24.42)" y="21.8" font-size="66" text-anchor="middle" >0</text>
<text transform="translate(980.0,868.6) rotate(24.42)" y="21.8" font-size="66" text-anchor="middle" >−100</text>
<text transform="translate(1106.0,922.0) rotate(24.42)" y="21.8" font-size="66" text-anchor="middle" >−200</text>
<text transform="translate(770.0,896.0) rotate(24.42)" y="21.8" font-size="66" text-anchor="middle" ><tspan class="it">η</tspan> (°)</text>
<text transform="translate(1188.6,925.0) rotate(-14.88)" y="21.8" font-size="66" text-anchor="middle" >0</text>
<text transform="translate(1310.9,890.6) rotate(-14.88)" y="21.8" font-size="66" text-anchor="middle" >20</text>
<text transform="translate(1432.3,859.7) rotate(-14.88)" y="21.8" font-size="66" text-anchor="middle" >40</text>
<text transform="translate(1551.8,826.6) rotate(-14.88)" y="21.8" font-size="66" text-anchor="middle" >60</text>
<text transform="translate(1672.1,793.0) rotate(-14.88)" y="21.8" font-size="66" text-anchor="middle" >80</text>
<text transform="translate(1792.8,764.1) rotate(-14.88)" y="21.8" font-size="66" text-anchor="middle" >100</text>
<text transform="translate(1550.0,926.0) rotate(-14.88)" y="21.8" font-size="66" text-anchor="middle" ><tspan class="it">θ</tspan> (°)</text>
<defs><linearGradient id="hA" x1="0" x2="1" y1="0" y2="0"><stop offset="0" stop-color="#4933ae"/><stop offset="0.002778" stop-color="#5260f6"/><stop offset="0.005556" stop-color="#319feb"/><stop offset="0.008333" stop-color="#32c7ad"/><stop offset="0.01111" stop-color="#bdc83f"/><stop offset="0.02222" stop-color="#cdc638"/><stop offset="0.03333" stop-color="#f0bf40"/><stop offset="0.03889" stop-color="#fac145"/><stop offset="0.04444" stop-color="#fec843"/><stop offset="0.06667" stop-color="#f6e534"/><stop offset="0.07778" stop-color="#f5ef2d"/><stop offset="0.1" stop-color="#f9f925"/><stop offset="0.1333" stop-color="#f9fa23"/><stop offset="0.1556" stop-color="#f6f32a"/><stop offset="0.1667" stop-color="#f6eb30"/><stop offset="0.1944" stop-color="#fec744"/><stop offset="0.2" stop-color="#fbc245"/><stop offset="0.2056" stop-color="#ecbf3d"/><stop offset="0.2111" stop-color="#d3c538"/><stop offset="0.2167" stop-color="#b5c943"/><stop offset="0.2222" stop-color="#96cd59"/><stop offset="0.2333" stop-color="#86ce65"/><stop offset="0.2444" stop-color="#8ece5e"/><stop offset="0.2667" stop-color="#92cd5b"/><stop offset="0.2778" stop-color="#7ece6c"/><stop offset="0.2806" stop-color="#6bcf7b"/><stop offset="0.2889" stop-color="#3dcaa3"/><stop offset="0.2917" stop-color="#1fc1c0"/><stop offset="0.2944" stop-color="#20b6d8"/><stop offset="0.3" stop-color="#3892f4"/><stop offset="0.3028" stop-color="#4180fd"/><stop offset="0.3056" stop-color="#506dfd"/><stop offset="0.3083" stop-color="#525af2"/><stop offset="0.3111" stop-color="#5148de"/><stop offset="0.3139" stop-color="#525ef4"/><stop offset="0.3167" stop-color="#4a74fd"/><stop offset="0.3194" stop-color="#3c8af9"/><stop offset="0.3222" stop-color="#329eec"/><stop offset="0.3278" stop-color="#20b6d8"/><stop offset="0.3306" stop-color="#1abec9"/><stop offset="0.3333" stop-color="#29c5b5"/><stop offset="0.3444" stop-color="#40cba0"/><stop offset="0.3778" stop-color="#71cf76"/><stop offset="0.3889" stop-color="#8ece5e"/><stop offset="0.4" stop-color="#a6cb4d"/><stop offset="0.4056" stop-color="#afca46"/><stop offset="0.4222" stop-color="#cdc638"/><stop offset="0.4444" stop-color="#e9c03c"/><stop offset="0.4556" stop-color="#f0bf40"/><stop offset="0.4778" stop-color="#f8bf44"/><stop offset="0.5333" stop-color="#fac145"/><stop offset="0.5556" stop-color="#f9bf45"/><stop offset="0.5778" stop-color="#f0bf40"/><stop offset="0.5889" stop-color="#e7c03c"/><stop offset="0.6" stop-color="#d9c339"/><stop offset="0.6083" stop-color="#cbc639"/><stop offset="0.6167" stop-color="#b5c943"/><stop offset="0.6222" stop-color="#a6cb4d"/><stop offset="0.6417" stop-color="#66cf7f"/><stop offset="0.6556" stop-color="#43cb9e"/><stop offset="0.6667" stop-color="#2ec6b1"/><stop offset="0.6778" stop-color="#21c2bc"/><stop offset="0.6917" stop-color="#1abeca"/><stop offset="0.7111" stop-color="#20b6d8"/><stop offset="0.7556" stop-color="#339bee"/><stop offset="0.7611" stop-color="#4180fd"/><stop offset="0.7639" stop-color="#4c71fd"/><stop offset="0.7667" stop-color="#5163f7"/><stop offset="0.7694" stop-color="#5357f1"/><stop offset="0.7722" stop-color="#514be2"/><stop offset="0.775" stop-color="#4f41d2"/><stop offset="0.7778" stop-color="#4c38bb"/><stop offset="0.7889" stop-color="#5042d5"/><stop offset="0.7944" stop-color="#525cf3"/><stop offset="0.7972" stop-color="#5169fb"/><stop offset="0.8" stop-color="#4877fd"/><stop offset="0.8056" stop-color="#3e85fb"/><stop offset="0.8111" stop-color="#3892f4"/><stop offset="0.8222" stop-color="#30a1ea"/><stop offset="0.8444" stop-color="#22b3db"/><stop offset="0.875" stop-color="#19bdcb"/><stop offset="0.9" stop-color="#1ec0c2"/><stop offset="0.9333" stop-color="#23c3bb"/><stop offset="1" stop-color="#29c5b5"/></linearGradient><linearGradient id="hB" x1="0" x2="1" y1="0" y2="0"><stop offset="0" stop-color="#4933ae"/><stop offset="0.002778" stop-color="#5260f6"/><stop offset="0.005556" stop-color="#319feb"/><stop offset="0.008333" stop-color="#32c7ad"/><stop offset="0.01111" stop-color="#bdc83f"/><stop offset="0.01667" stop-color="#d3c538"/><stop offset="0.02222" stop-color="#e6c13c"/><stop offset="0.03056" stop-color="#f6bf43"/><stop offset="0.03333" stop-color="#fac145"/><stop offset="0.04444" stop-color="#fec843"/><stop offset="0.05556" stop-color="#fcd33e"/><stop offset="0.06667" stop-color="#fbd83b"/><stop offset="0.1" stop-color="#f8df37"/><stop offset="0.1222" stop-color="#f9dd38"/><stop offset="0.1444" stop-color="#fcd13f"/><stop offset="0.1556" stop-color="#fec843"/><stop offset="0.1667" stop-color="#f9bf45"/><stop offset="0.1778" stop-color="#ecbf3d"/><stop offset="0.1944" stop-color="#ccc638"/><stop offset="0.2" stop-color="#bfc83e"/><stop offset="0.2056" stop-color="#accb48"/><stop offset="0.2111" stop-color="#9acd56"/><stop offset="0.2222" stop-color="#6dcf79"/><stop offset="0.2333" stop-color="#5ece86"/><stop offset="0.2778" stop-color="#3dcaa3"/><stop offset="0.2889" stop-color="#2ec6b1"/><stop offset="0.2917" stop-color="#19bdca"/><stop offset="0.2944" stop-color="#23b2dc"/><stop offset="0.3" stop-color="#3892f4"/><stop offset="0.3028" stop-color="#427ffd"/><stop offset="0.3056" stop-color="#506bfc"/><stop offset="0.3083" stop-color="#5358f1"/><stop offset="0.3111" stop-color="#5045da"/><stop offset="0.3139" stop-color="#525af2"/><stop offset="0.3167" stop-color="#4d70fd"/><stop offset="0.3194" stop-color="#3d87fb"/><stop offset="0.3222" stop-color="#339bee"/><stop offset="0.3333" stop-color="#22b3db"/><stop offset="0.3889" stop-color="#19bdcb"/><stop offset="0.4361" stop-color="#21c2bd"/><stop offset="0.4778" stop-color="#2dc6b2"/><stop offset="0.5167" stop-color="#42cb9f"/><stop offset="0.5667" stop-color="#7cce6d"/><stop offset="0.5778" stop-color="#82ce68"/><stop offset="0.6" stop-color="#79cf6f"/><stop offset="0.6139" stop-color="#69cf7c"/><stop offset="0.6417" stop-color="#42cb9f"/><stop offset="0.6667" stop-color="#24c3ba"/><stop offset="0.6861" stop-color="#19bdcb"/><stop offset="0.7083" stop-color="#20b5d9"/><stop offset="0.7556" stop-color="#3598f0"/><stop offset="0.7611" stop-color="#427efd"/><stop offset="0.7639" stop-color="#4d70fd"/><stop offset="0.7667" stop-color="#5163f7"/><stop offset="0.7694" stop-color="#5357f1"/><stop offset="0.7722" stop-color="#514be2"/><stop offset="0.775" stop-color="#4f41d2"/><stop offset="0.7778" stop-color="#4c38bb"/><stop offset="0.7889" stop-color="#5042d5"/><stop offset="0.7944" stop-color="#525cf3"/><stop offset="0.7972" stop-color="#5169fb"/><stop offset="0.8" stop-color="#4877fd"/><stop offset="0.8056" stop-color="#3e85fb"/><stop offset="0.8111" stop-color="#3892f4"/><stop offset="0.8222" stop-color="#30a1ea"/><stop offset="0.8444" stop-color="#22b3db"/><stop offset="0.875" stop-color="#19bdcb"/><stop offset="0.9" stop-color="#1ec0c2"/><stop offset="0.9333" stop-color="#23c3bb"/><stop offset="1" stop-color="#29c5b5"/></linearGradient><linearGradient id="m1g" x1="0" x2="0" y1="0" y2="1"><stop offset="0" stop-color="#fff" stop-opacity="1.000"/><stop offset="0.01389" stop-color="#fff" stop-opacity="0.932"/><stop offset="0.02778" stop-color="#fff" stop-opacity="0.863"/><stop offset="0.04167" stop-color="#fff" stop-opacity="0.793"/><stop offset="0.05556" stop-color="#fff" stop-opacity="0.724"/><stop offset="0.06944" stop-color="#fff" stop-opacity="0.652"/><stop offset="0.08333" stop-color="#fff" stop-opacity="0.580"/><stop offset="0.09722" stop-color="#fff" stop-opacity="0.514"/><stop offset="0.1111" stop-color="#fff" stop-opacity="0.448"/><stop offset="0.125" stop-color="#fff" stop-opacity="0.384"/><stop offset="0.1389" stop-color="#fff" stop-opacity="0.325"/><stop offset="0.1528" stop-color="#fff" stop-opacity="0.275"/><stop offset="0.1667" stop-color="#fff" stop-opacity="0.235"/><stop offset="0.1806" stop-color="#fff" stop-opacity="0.202"/><stop offset="0.1944" stop-color="#fff" stop-opacity="0.171"/><stop offset="0.2083" stop-color="#fff" stop-opacity="0.144"/><stop offset="0.2222" stop-color="#fff" stop-opacity="0.120"/><stop offset="0.2361" stop-color="#fff" stop-opacity="0.098"/><stop offset="0.25" stop-color="#fff" stop-opacity="0.079"/><stop offset="0.2639" stop-color="#fff" stop-opacity="0.060"/><stop offset="0.2778" stop-color="#fff" stop-opacity="0.042"/><stop offset="0.2917" stop-color="#fff" stop-opacity="0.025"/><stop offset="0.3056" stop-color="#fff" stop-opacity="0.011"/><stop offset="0.3194" stop-color="#fff" stop-opacity="0.002"/><stop offset="0.3333" stop-color="#fff" stop-opacity="0.000"/><stop offset="0.3472" stop-color="#fff" stop-opacity="0.000"/><stop offset="0.3611" stop-color="#fff" stop-opacity="0.000"/><stop offset="0.375" stop-color="#fff" stop-opacity="0.000"/><stop offset="0.3889" stop-color="#fff" stop-opacity="0.000"/><stop offset="0.4028" stop-color="#fff" stop-opacity="0.000"/><stop offset="0.4167" stop-color="#fff" stop-opacity="0.000"/><stop offset="0.4306" stop-color="#fff" stop-opacity="0.000"/><stop offset="0.4444" stop-color="#fff" stop-opacity="0.000"/><stop offset="0.4583" stop-color="#fff" stop-opacity="0.000"/><stop offset="0.4722" stop-color="#fff" stop-opacity="0.000"/><stop offset="0.4861" stop-color="#fff" stop-opacity="0.001"/><stop offset="0.5" stop-color="#fff" stop-opacity="0.002"/><stop offset="0.5139" stop-color="#fff" stop-opacity="0.003"/><stop offset="0.5278" stop-color="#fff" stop-opacity="0.006"/><stop offset="0.5417" stop-color="#fff" stop-opacity="0.008"/><stop offset="0.5556" stop-color="#fff" stop-opacity="0.011"/><stop offset="0.5694" stop-color="#fff" stop-opacity="0.015"/><stop offset="0.5833" stop-color="#fff" stop-opacity="0.024"/><stop offset="0.5972" stop-color="#fff" stop-opacity="0.037"/><stop offset="0.6111" stop-color="#fff" stop-opacity="0.055"/><stop offset="0.625" stop-color="#fff" stop-opacity="0.076"/><stop offset="0.6389" stop-color="#fff" stop-opacity="0.100"/><stop offset="0.6528" stop-color="#fff" stop-opacity="0.126"/><stop offset="0.6667" stop-color="#fff" stop-opacity="0.152"/><stop offset="0.6806" stop-color="#fff" stop-opacity="0.182"/><stop offset="0.6944" stop-color="#fff" stop-opacity="0.219"/><stop offset="0.7083" stop-color="#fff" stop-opacity="0.262"/><stop offset="0.7222" stop-color="#fff" stop-opacity="0.310"/><stop offset="0.7361" stop-color="#fff" stop-opacity="0.361"/><stop offset="0.75" stop-color="#fff" stop-opacity="0.414"/><stop offset="0.7639" stop-color="#fff" stop-opacity="0.468"/><stop offset="0.7778" stop-color="#fff" stop-opacity="0.521"/><stop offset="0.7917" stop-color="#fff" stop-opacity="0.577"/><stop offset="0.8056" stop-color="#fff" stop-opacity="0.636"/><stop offset="0.8194" stop-color="#fff" stop-opacity="0.698"/><stop offset="0.8333" stop-color="#fff" stop-opacity="0.763"/><stop offset="0.8472" stop-color="#fff" stop-opacity="0.829"/><stop offset="0.8611" stop-color="#fff" stop-opacity="0.902"/><stop offset="0.875" stop-color="#fff" stop-opacity="0.981"/><stop offset="0.8889" stop-color="#fff" stop-opacity="1.000"/><stop offset="0.9028" stop-color="#fff" stop-opacity="1.000"/><stop offset="0.9167" stop-color="#fff" stop-opacity="1.000"/><stop offset="0.9306" stop-color="#fff" stop-opacity="1.000"/><stop offset="0.9444" stop-color="#fff" stop-opacity="1.000"/><stop offset="0.9583" stop-color="#fff" stop-opacity="1.000"/><stop offset="0.9722" stop-color="#fff" stop-opacity="1.000"/><stop offset="0.9861" stop-color="#fff" stop-opacity="1.000"/><stop offset="1" stop-color="#fff" stop-opacity="1.000"/></linearGradient><mask id="m1" maskUnits="userSpaceOnUse" x="2283.1" y="78.6" width="1063.3" height="743.9"><rect x="2283.1" y="78.6" width="1063.3" height="743.9" fill="url(#m1g)"/></mask><linearGradient id="m2g" x1="0" x2="0" y1="0" y2="1"><stop offset="0" stop-color="#fff" stop-opacity="1.000"/><stop offset="0.01389" stop-color="#fff" stop-opacity="0.984"/><stop offset="0.02778" stop-color="#fff" stop-opacity="0.956"/><stop offset="0.04167" stop-color="#fff" stop-opacity="0.913"/><stop offset="0.05556" stop-color="#fff" stop-opacity="0.845"/><stop offset="0.06944" stop-color="#fff" stop-opacity="0.765"/><stop offset="0.08333" stop-color="#fff" stop-opacity="0.689"/><stop offset="0.09722" stop-color="#fff" stop-opacity="0.630"/><stop offset="0.1111" stop-color="#fff" stop-opacity="0.583"/><stop offset="0.125" stop-color="#fff" stop-opacity="0.539"/><stop offset="0.1389" stop-color="#fff" stop-opacity="0.498"/><stop offset="0.1528" stop-color="#fff" stop-opacity="0.460"/><stop offset="0.1667" stop-color="#fff" stop-opacity="0.424"/><stop offset="0.1806" stop-color="#fff" stop-opacity="0.390"/><stop offset="0.1944" stop-color="#fff" stop-opacity="0.358"/><stop offset="0.2083" stop-color="#fff" stop-opacity="0.328"/><stop offset="0.2222" stop-color="#fff" stop-opacity="0.298"/><stop offset="0.2361" stop-color="#fff" stop-opacity="0.270"/><stop offset="0.25" stop-color="#fff" stop-opacity="0.242"/><stop offset="0.2639" stop-color="#fff" stop-opacity="0.216"/><stop offset="0.2778" stop-color="#fff" stop-opacity="0.192"/><stop offset="0.2917" stop-color="#fff" stop-opacity="0.170"/><stop offset="0.3056" stop-color="#fff" stop-opacity="0.151"/><stop offset="0.3194" stop-color="#fff" stop-opacity="0.133"/><stop offset="0.3333" stop-color="#fff" stop-opacity="0.117"/><stop offset="0.3472" stop-color="#fff" stop-opacity="0.102"/><stop offset="0.3611" stop-color="#fff" stop-opacity="0.088"/><stop offset="0.375" stop-color="#fff" stop-opacity="0.075"/><stop offset="0.3889" stop-color="#fff" stop-opacity="0.064"/><stop offset="0.4028" stop-color="#fff" stop-opacity="0.053"/><stop offset="0.4167" stop-color="#fff" stop-opacity="0.043"/><stop offset="0.4306" stop-color="#fff" stop-opacity="0.035"/><stop offset="0.4444" stop-color="#fff" stop-opacity="0.026"/><stop offset="0.4583" stop-color="#fff" stop-opacity="0.017"/><stop offset="0.4722" stop-color="#fff" stop-opacity="0.010"/><stop offset="0.4861" stop-color="#fff" stop-opacity="0.004"/><stop offset="0.5" stop-color="#fff" stop-opacity="0.001"/><stop offset="0.5139" stop-color="#fff" stop-opacity="0.000"/><stop offset="0.5278" stop-color="#fff" stop-opacity="0.005"/><stop offset="0.5417" stop-color="#fff" stop-opacity="0.014"/><stop offset="0.5556" stop-color="#fff" stop-opacity="0.025"/><stop offset="0.5694" stop-color="#fff" stop-opacity="0.037"/><stop offset="0.5833" stop-color="#fff" stop-opacity="0.047"/><stop offset="0.5972" stop-color="#fff" stop-opacity="0.056"/><stop offset="0.6111" stop-color="#fff" stop-opacity="0.060"/><stop offset="0.625" stop-color="#fff" stop-opacity="0.062"/><stop offset="0.6389" stop-color="#fff" stop-opacity="0.063"/><stop offset="0.6528" stop-color="#fff" stop-opacity="0.064"/><stop offset="0.6667" stop-color="#fff" stop-opacity="0.064"/><stop offset="0.6806" stop-color="#fff" stop-opacity="0.065"/><stop offset="0.6944" stop-color="#fff" stop-opacity="0.065"/><stop offset="0.7083" stop-color="#fff" stop-opacity="0.066"/><stop offset="0.7222" stop-color="#fff" stop-opacity="0.067"/><stop offset="0.7361" stop-color="#fff" stop-opacity="0.068"/><stop offset="0.75" stop-color="#fff" stop-opacity="0.069"/><stop offset="0.7639" stop-color="#fff" stop-opacity="0.073"/><stop offset="0.7778" stop-color="#fff" stop-opacity="0.086"/><stop offset="0.7917" stop-color="#fff" stop-opacity="0.107"/><stop offset="0.8056" stop-color="#fff" stop-opacity="0.136"/><stop offset="0.8194" stop-color="#fff" stop-opacity="0.170"/><stop offset="0.8333" stop-color="#fff" stop-opacity="0.209"/><stop offset="0.8472" stop-color="#fff" stop-opacity="0.250"/><stop offset="0.8611" stop-color="#fff" stop-opacity="0.294"/><stop offset="0.875" stop-color="#fff" stop-opacity="0.339"/><stop offset="0.8889" stop-color="#fff" stop-opacity="0.394"/><stop offset="0.9028" stop-color="#fff" stop-opacity="0.461"/><stop offset="0.9167" stop-color="#fff" stop-opacity="0.535"/><stop offset="0.9306" stop-color="#fff" stop-opacity="0.616"/><stop offset="0.9444" stop-color="#fff" stop-opacity="0.700"/><stop offset="0.9583" stop-color="#fff" stop-opacity="0.805"/><stop offset="0.9722" stop-color="#fff" stop-opacity="0.900"/><stop offset="0.9861" stop-color="#fff" stop-opacity="0.960"/><stop offset="1" stop-color="#fff" stop-opacity="1.000"/></linearGradient><mask id="m2" maskUnits="userSpaceOnUse" x="2283.1" y="78.6" width="1063.3" height="743.9"><rect x="2283.1" y="78.6" width="1063.3" height="743.9" fill="url(#m2g)"/></mask><clipPath id="c1"><rect x="2283.1" y="78.6" width="283.5" height="743.9"/></clipPath><clipPath id="c2"><rect x="2566.6" y="78.6" width="779.8" height="743.9"/></clipPath><pattern id="hl" width="11.786" height="2.069" patternUnits="userSpaceOnUse" patternTransform="translate(2283.10,78.63)"><rect x="1.3" width="9.2" height="1.0" fill="#fff" fill-opacity=".42"/></pattern><pattern id="hl2" width="40" height="16.55" patternUnits="userSpaceOnUse" patternTransform="translate(0,78.63)"><rect y="3" width="40" height="3.2" fill="#fff" fill-opacity=".10"/><rect y="11" width="40" height="2" fill="#000" fill-opacity=".05"/></pattern><pattern id="vl" width="11.786" height="40" patternUnits="userSpaceOnUse" patternTransform="translate(2283.10,0)"><rect x="-1" width="2" height="40" fill="#000" fill-opacity=".03"/><rect x="10.786" width="2" height="40" fill="#000" fill-opacity=".03"/></pattern><radialGradient id="rb1"><stop offset="0" stop-color="#3f6cf0" stop-opacity=".95"/><stop offset=".55" stop-color="#3f8cf0" stop-opacity=".6"/><stop offset="1" stop-color="#40b0d0" stop-opacity="0"/></radialGradient><filter id="bl" x="-20%" y="-20%" width="140%" height="140%"><feGaussianBlur stdDeviation="13"/></filter><filter id="bl2" x="-50%" y="-5%" width="200%" height="110%"><feGaussianBlur stdDeviation="2.2"/></filter><linearGradient id="gb" x1="0" x2="0" y1="0" y2="1"><stop offset="0" stop-color="#8fc860" stop-opacity="0"/><stop offset=".15" stop-color="#8fc860" stop-opacity=".45"/><stop offset="1" stop-color="#8fc860" stop-opacity=".35"/></linearGradient><linearGradient id="tl" x1="0" x2="0" y1="0" y2="1"><stop offset="0" stop-color="#28b8c0" stop-opacity=".12"/><stop offset=".55" stop-color="#28b8c0" stop-opacity=".2"/><stop offset=".8" stop-color="#20b0d0" stop-opacity=".75"/><stop offset="1" stop-color="#28b8c0" stop-opacity=".25"/></linearGradient><linearGradient id="cs" x1="0" x2="0" y1="0" y2="1"><stop offset="0" stop-color="#30c0d8" stop-opacity=".55"/><stop offset=".6" stop-color="#30c0d8" stop-opacity=".4"/><stop offset="1" stop-color="#30c0d8" stop-opacity="0"/></linearGradient><clipPath id="ch"><rect x="2283.1" y="78.6" width="1063.3" height="743.9"/></clipPath></defs><g id="heat"><rect x="2283.1" y="78.6" width="1063.3" height="743.9" fill="url(#hA)"/><g clip-path="url(#c1)"><rect x="2283.1" y="78.6" width="1063.3" height="743.9" fill="url(#hB)" mask="url(#m1)"/></g><g clip-path="url(#c2)"><rect x="2283.1" y="78.6" width="1063.3" height="743.9" fill="url(#hB)" mask="url(#m2)"/></g><g clip-path="url(#ch)"><ellipse cx="2292.0" cy="241.9" rx="12" ry="46" fill="url(#rb1)" opacity=".8"/><ellipse cx="2305.5" cy="345.2" rx="9" ry="11" fill="url(#rb1)"/><rect x="2305.5" y="326.6" width="14" height="496.0" fill="url(#gb)" filter="url(#bl2)"/><rect x="2525.9" y="78.6" width="6" height="743.9" fill="url(#tl)" filter="url(#bl2)"/><rect x="2701.3" y="78.6" width="10" height="186.0" fill="url(#cs)" filter="url(#bl2)"/><path d="M2637.5,694.4 L2673.0,735.8 L2708.4,770.9 L2755.7,797.8 L2808.8,818.4 L2826.6,824.6 L2637.5,824.6 Z" fill="#36b8c8" fill-opacity=".45" filter="url(#bl)"/><ellipse cx="2810.0" cy="818.4" rx="16" ry="9" fill="#3aa0e8" fill-opacity=".7" filter="url(#bl2)"/><ellipse cx="2691.9" cy="801.9" rx="14" ry="22" fill="#3aa8e0" fill-opacity=".5" filter="url(#bl2)"/></g><rect x="2283.1" y="78.6" width="1063.3" height="743.9" fill="url(#vl)"/><rect x="2283.1" y="78.6" width="1063.3" height="743.9" fill="url(#hl)"/><rect x="2283.1" y="78.6" width="1063.3" height="743.9" fill="url(#hl2)"/></g>
<g id="heataxes"><rect x="2283.1" y="37.3" width="1063.3" height="826.6" fill="none" stroke="#000" stroke-width="5"/><path d="M2401.2,863.9 v-15" stroke="#000" stroke-width="5"/><path d="M2519.4,863.9 v-15" stroke="#000" stroke-width="5"/><path d="M2637.5,863.9 v-15" stroke="#000" stroke-width="5"/><path d="M2755.7,863.9 v-15" stroke="#000" stroke-width="5"/><path d="M2873.8,863.9 v-15" stroke="#000" stroke-width="5"/><path d="M2992.0,863.9 v-15" stroke="#000" stroke-width="5"/><path d="M3110.1,863.9 v-15" stroke="#000" stroke-width="5"/><path d="M3228.3,863.9 v-15" stroke="#000" stroke-width="5"/><path d="M2283.1,760.6 h15" stroke="#000" stroke-width="5"/><path d="M2283.1,657.2 h15" stroke="#000" stroke-width="5"/><path d="M2283.1,553.9 h15" stroke="#000" stroke-width="5"/><path d="M2283.1,450.6 h15" stroke="#000" stroke-width="5"/><path d="M2283.1,347.3 h15" stroke="#000" stroke-width="5"/><path d="M2283.1,243.9 h15" stroke="#000" stroke-width="5"/><path d="M2283.1,140.6 h15" stroke="#000" stroke-width="5"/></g>
<text transform="translate(2283.1,938.0)" y="21.8" font-size="66" text-anchor="middle" >0</text>
<text transform="translate(2401.2,938.0)" y="21.8" font-size="66" text-anchor="middle" >10</text>
<text transform="translate(2519.4,938.0)" y="21.8" font-size="66" text-anchor="middle" >20</text>
<text transform="translate(2637.5,938.0)" y="21.8" font-size="66" text-anchor="middle" >30</text>
<text transform="translate(2755.7,938.0)" y="21.8" font-size="66" text-anchor="middle" >40</text>
<text transform="translate(2873.8,938.0)" y="21.8" font-size="66" text-anchor="middle" >50</text>
<text transform="translate(2992.0,938.0)" y="21.8" font-size="66" text-anchor="middle" >60</text>
<text transform="translate(3110.1,938.0)" y="21.8" font-size="66" text-anchor="middle" >70</text>
<text transform="translate(3228.3,938.0)" y="21.8" font-size="66" text-anchor="middle" >80</text>
<text transform="translate(3346.4,938.0)" y="21.8" font-size="66" text-anchor="middle" >90</text>
<text transform="translate(2232.0,865.4)" y="21.8" font-size="66" text-anchor="end" >−200</text>
<text transform="translate(2232.0,762.1)" y="21.8" font-size="66" text-anchor="end" >−150</text>
<text transform="translate(2232.0,658.8)" y="21.8" font-size="66" text-anchor="end" >−100</text>
<text transform="translate(2232.0,555.4)" y="21.8" font-size="66" text-anchor="end" >−50</text>
<text transform="translate(2232.0,452.1)" y="21.8" font-size="66" text-anchor="end" >0</text>
<text transform="translate(2232.0,348.8)" y="21.8" font-size="66" text-anchor="end" >50</text>
<text transform="translate(2232.0,245.4)" y="21.8" font-size="66" text-anchor="end" >100</text>
<text transform="translate(2232.0,142.1)" y="21.8" font-size="66" text-anchor="end" >150</text>
<text transform="translate(2232.0,38.8)" y="21.8" font-size="66" text-anchor="end" >200</text>
<text transform="translate(2016.0,462.0) rotate(-90.00)" y="21.8" font-size="66" text-anchor="middle" ><tspan class="it">η</tspan> (°)</text>
<text transform="translate(2812.0,1053.0)" y="21.8" font-size="66" text-anchor="middle" ><tspan class="it">θ</tspan> (°)</text>
<path d="M2352,254 L2445,253" stroke="#000" stroke-width="4.5"/><path d="M2319,254 L2355,233.5 L2355,274.5 Z" fill="#000"/>
<path d="M2367,344 L2428,344" stroke="#000" stroke-width="4.5"/><path d="M2333,344 L2370,323.5 L2370,364.5 Z" fill="#000"/>
<text transform="translate(2459.0,249.4)" y="21.8" font-size="66" text-anchor="start" textLength="268" lengthAdjust="spacing">(1°, 100°)</text>
<text transform="translate(2442.0,358.0)" y="21.8" font-size="66" text-anchor="start" textLength="234" lengthAdjust="spacing">(2°, 50°)</text>
<text x="1135" y="1196.5" font-size="66" text-anchor="middle" textLength="297" lengthAdjust="spacing">(a) <tspan font-size="62">三维图</tspan></text>
<text x="1136.5" y="1276.7" font-size="66" text-anchor="middle" textLength="830" lengthAdjust="spacing">(a) 3D view of beam pattern</text>
<text x="2813.5" y="1196.5" font-size="66" text-anchor="middle" textLength="301" lengthAdjust="spacing">(b) <tspan font-size="62">俯视图</tspan></text>
<text x="2816.7" y="1276.7" font-size="66" text-anchor="middle" textLength="867" lengthAdjust="spacing">(b) Top view of beam pattern</text>
</svg>
</body></html>
